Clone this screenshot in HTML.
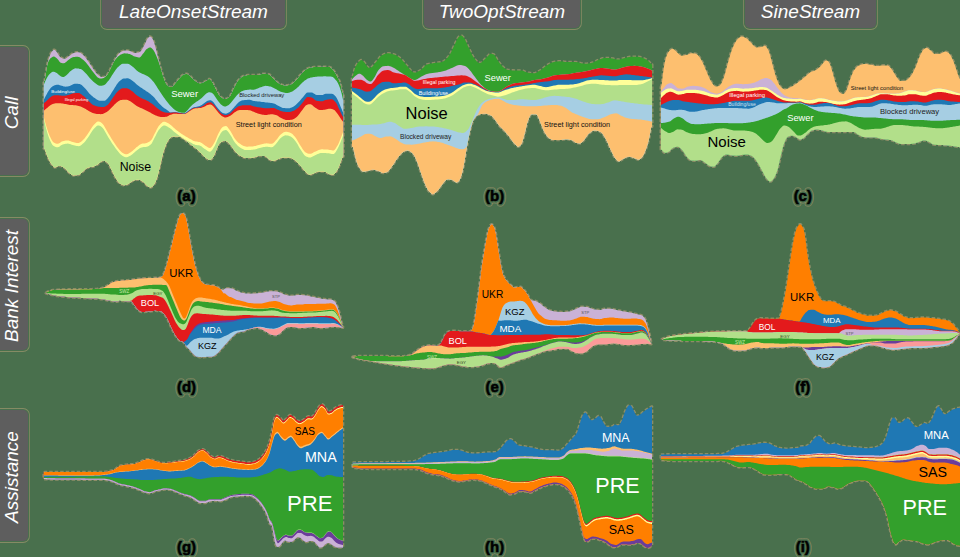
<!DOCTYPE html>
<html>
<head>
<meta charset="utf-8">
<title>Streamgraph comparison</title>
<style>
html,body{margin:0;padding:0;}
body{width:960px;height:557px;overflow:hidden;background:#49704d;font-family:"Liberation Sans",sans-serif;position:relative;}
.hd,.rw{box-shadow:0 0 0 1.1px #49704d,0 0 0 1.9px rgba(194,165,124,.5);}
.hd{position:absolute;top:-6px;height:34px;background:#5e5e5e;border-radius:5px;color:#fff;font-style:italic;font-size:19px;text-align:center;line-height:35px;box-sizing:border-box;}
.rw{position:absolute;left:-6px;width:34px;background:#5e5e5e;border-radius:5px;}
.rw span{position:absolute;left:50%;top:50%;color:#fff;font-style:italic;font-size:19px;white-space:nowrap;transform:translate(-50%,-50%) rotate(-90deg);margin-left:0.7px;margin-top:1.5px;}
svg{position:absolute;left:0;top:0;}
svg text{font-family:"Liberation Sans",sans-serif;}
</style>
</head>
<body>
<div class="hd" style="left:102px;width:183px;">LateOnsetStream</div>
<div class="hd" style="left:424px;width:156px;">TwoOptStream</div>
<div class="hd" style="left:745px;width:131px;">SineStream</div>
<div class="rw" style="top:47px;height:128px;"><span>Call</span></div>
<div class="rw" style="top:219px;height:131px;"><span>Bank Interest</span></div>
<div class="rw" style="top:410px;height:131px;"><span>Assistance</span></div>
<svg width="960" height="557" viewBox="0 0 960 557">
<!-- chart a -->
<clipPath id="ca"><path d="M43.7 81l1-.5 1-6.4 1-6.4 1-5.1 1-3.8 1-2.9 1-2.4 1-1.7 1-1.1 1-.9 1 .1 1 .9 1 1.1 1 1.6 1 1.7 1 1.4 1 .8 1 .6 1 .5 1 .3 1 0 1-.4 1-.5 1-.8 1-.8 1-.7 1-.7 1-.8 1-.7 1-.5 1-.2 1-.3 1-.1 1-.1 1 0 1 .3 1 .6 1 .7 1 .7 1 .9 1 1.1 1 1.3 1 1.4 1 1.3 1 1.4 1 1.6 1 1.6 1 1.5 1 1.4 1 1.5 1 1.5 1 1.4 1 1.2 1 .9 1 .8 1 .8 1 .6 1 .3 1 .1 1-.2 1-.4 1-.6 1-.8 1-1.1 1-1.7 1-2 1-2.1 1-2 1-2.1 1-2.2 1-2.1 1-1.8 1-1.5 1-1.5 1-1.3 1-1 1-.8 1-.5 1-.4 1-.3 1-.2 1 0 1 0 1 .1 1 .2 1 .1 1 .4 1 .5 1 .5 1 .5 1 .2 1-.1 1-.1 1-.2 1-.2 1-.4 1-.7 1-1.2 1-1.8 1-2 1-1.9 1-2.2 1-2.3 1-1.6 1-1.1 1-.8 1 .3 1 .9 1 1.3 1 2.5 1 3.2 1 3.4 1 3.8 1 4.2 1 4.1 1 3.9 1 3.8 1 3.6 1 3.3 1 3 1 2.9 1 2.3 1 1.5 1 1.1 1 .8 1 .6 1 .2 1-.1 1-.7 1-1.1 1-1.3 1-1.2 1-1.2 1-1.3 1-1.2 1-1.1 1-1 1-1.1 1-.8 1-.4 1-.4 1-.3 1-.1 1 .4 1 .7 1 .7 1 .9 1 1.2 1 1.1 1 1 1 .8 1 .7 1 .8 1 .6 1 .4 1 .2 1 0 1-.3 1-.4 1-.4 1-.6 1-.5 1-.6 1-.8 1-.7 1 .1 1 .9 1 1.1 1 1.6 1 2 1 2.1 1 2 1 1.9 1 2 1 1.7 1 1.3 1 1 1 .8 1 .7 1 .5 1 .3 1-.1 1-.3 1-.5 1-.7 1-.9 1-1.6 1-2.1 1-2.4 1-2.1 1-1.9 1-1.9 1-1.9 1-1.6 1-1.2 1-1.1 1-.9 1-.8 1-.7 1-.4 1-.2 1-.2 1-.2 1-.2 1-.1 1 0 1 0 1 0 1 0 1 0 1 0 1 0 1 0 1-.1 1-.2 1-.2 1-.3 1-.2 1-.2 1 0 1 0 1 .1 1 .1 1 .1 1 .1 1 .5 1 1 1 1.1 1 1.1 1 .9 1 1 1 1 1 .9 1 .9 1 .7 1 .5 1 .5 1 .4 1 .4 1 .2 1 .2 1-.1 1 0 1-.2 1-.2 1-.2 1-.3 1-.5 1-.8 1-.9 1-1 1-1 1-1 1-1.1 1-1.3 1-1.2 1-1.2 1-1 1-1 1-1.1 1-.9 1-.9 1-.7 1-.4 1-.4 1-.3 1-.2 1-.2 1-.2 1-.1 1-.1 1 0 1-.1 1 0 1-.1 1 0 1 0 1 0 1 0 1 0 1 0 1 .1 1 0 1 .1 1 0 1 .1 1 .4 1 .9 1 1.1 1 1.1 1 1.4 1 1.7 1 1.8 1 1.9 1 1.9 1 2.3 1 3.1 1 5 1 3.1 .7 .2L343.4 156.7l-.7 .2-1 2.1-1 3.1-1 2.7-1 2.4-1 2.2-1 1.7-1 1.3-1 1.2-1 .9-1 .2-1-.1-1-.1-1-.2-1-.4-1-.6-1-.6-1-.6-1-.3-1-.2-1-.1-1 0-1-.1-1 0-1 0-1 .2-1 .4-1 .5-1 .5-1 .5-1 .3-1 .4-1 .3-1 .2-1-.1-1-.8-1-.9-1-1.1-1-.9-1-1.1-1-1.2-1-1.3-1-1.2-1-1.1-1-1.1-1-1.1-1-1-1-.9-1-.8-1-.7-1-.6-1-.6-1-.4-1-.2-1-.1-1 0-1 0-1 0-1 0-1 0-1 .1-1 .2-1 .3-1 .4-1 .5-1 .3-1 .4-1 .5-1 .4-1 .2-1 0-1-.2-1-.4-1-.5-1-.5-1-1-1-1-1-.8-1-.5-1 0-1 0-1 0-1 0-1 0-1 .1-1 .2-1 .3-1 .4-1 .3-1 .3-1 .1-1 .1-1 .1-1 .1-1 .1-1 0-1 0-1 0-1-.3-1-.3-1-.4-1-.5-1-.4-1-.6-1-.7-1-.9-1-1-1-1-1-1.1-1-1.3-1-1.5-1-1.4-1-1.4-1-1-1-1.1-1-1-1-.7-1-.4-1-.1-1 .1-1 .3-1 .5-1 .6-1 .7-1 1.4-1 2.2-1 2.4-1 2.3-1 2.6-1 2.3-1 1.4-1 1.2-1 .8-1 .3-1-.3-1-.6-1-.7-1-.7-1-.8-1-1-1-1.1-1-1.1-1-1-1-.9-1-1-1-.9-1-.8-1-.9-1-.8-1-.7-1-.8-1-.7-1-.8-1-.8-1-.8-1-.7-1-.8-1-.8-1-.7-1-.6-1-.8-1-.7-1-.6-1-.5-1-.2-1 0-1 0-1 0-1 0-1 0-1 0-1 .4-1 .8-1 1-1 1.2-1 1.4-1 1.8-1 2.4-1 2.8-1 2.9-1 3.7-1 4.2-1 4.2-1 4.2-1 4.3-1 4-1 3-1 2.7-1 2.2-1 1.4-1 1.2-1 .9-1 .4-1-.2-1-.5-1-.5-1-.8-1-1.1-1-1.1-1-1-1-.7-1-.7-1-.6-1-.4-1-.2-1 0-1 .1-1 .2-1 .2-1 .2-1 .5-1 .6-1 .8-1 .8-1 .7-1 .4-1 .5-1 .4-1 .2-1 0-1-.2-1-.5-1-.5-1-.6-1-1-1-1.3-1-1.6-1-1.6-1-1.7-1-2-1-2.1-1-2.1-1-1.9-1-2.1-1-1.8-1-1.3-1-.8-1-.6-1-.5-1-.2-1 0-1 .4-1 .6-1 .8-1 .9-1 .8-1 .6-1 .5-1 .6-1 .4-1 .3-1 .2-1 .1-1 .1-1 .2-1 .3-1 .5-1 .8-1 .9-1 1-1 .9-1 .8-1 .9-1 .8-1 .6-1 .2-1 .1-1 .1-1 0-1 .1-1-.2-1-.5-1-.7-1-.8-1-.7-1-1.1-1-1.2-1-1.1-1-.9-1-.7-1-.5-1-.5-1-.4-1-.2-1 0-1 .3-1 .5-1 .6-1 .1-1-.7-1-1.1-1-1.1-1-1.4-1-1.8-1-2-1-2.2-1-2.5-1-2.8-1-2.9-1-.4Z"/></clipPath>
<path d="M43.7 81l1-.5 1-6.4 1-6.4 1-5.1 1-3.8 1-2.9 1-2.4 1-1.7 1-1.1 1-.9 1 .1 1 .9 1 1.1 1 1.6 1 1.7 1 1.4 1 .8 1 .6 1 .5 1 .3 1 0 1-.4 1-.5 1-.8 1-.8 1-.7 1-.7 1-.8 1-.7 1-.5 1-.2 1-.3 1-.1 1-.1 1 0 1 .3 1 .6 1 .7 1 .7 1 .9 1 1.1 1 1.3 1 1.4 1 1.3 1 1.4 1 1.6 1 1.6 1 1.5 1 1.4 1 1.5 1 1.5 1 1.4 1 1.2 1 .9 1 .8 1 .8 1 .6 1 .3 1 .1 1-.2 1-.4 1-.6 1-.8 1-1.1 1-1.7 1-2 1-2.1 1-2 1-2.1 1-2.2 1-2.1 1-1.8 1-1.5 1-1.5 1-1.3 1-1 1-.8 1-.5 1-.4 1-.3 1-.2 1 0 1 0 1 .1 1 .2 1 .1 1 .4 1 .5 1 .5 1 .5 1 .2 1-.1 1-.1 1-.2 1-.2 1-.4 1-.7 1-1.2 1-1.8 1-2 1-1.9 1-2.2 1-2.3 1-1.6 1-1.1 1-.8 1 .3 1 .9 1 1.3 1 2.5 1 3.2 1 3.4 1 3.8 1 4.2 1 4.1 1 3.9 1 3.8 1 3.6 1 3.3 1 3 1 2.9 1 2.3 1 1.5 1 1.1 1 .8 1 .6 1 .2 1-.1 1-.7 1-1.1 1-1.3 1-1.2 1-1.2 1-1.3 1-1.2 1-1.1 1-1 1-1.1 1-.8 1-.4 1-.4 1-.3 1-.1 1 .4 1 .7 1 .7 1 .9 1 1.2 1 1.1 1 1 1 .8 1 .7 1 .8 1 .6 1 .4 1 .2 1 0 1-.3 1-.4 1-.4 1-.6 1-.5 1-.6 1-.8 1-.7 1 .1 1 .9 1 1.1 1 1.6 1 2 1 2.1 1 2 1 1.9 1 2 1 1.7 1 1.3 1 1 1 .8 1 .7 1 .5 1 .3 1-.1 1-.3 1-.5 1-.7 1-.9 1-1.6 1-2.1 1-2.4 1-2.1 1-1.9 1-1.9 1-1.9 1-1.6 1-1.2 1-1.1 1-.9 1-.8 1-.7 1-.4 1-.2 1-.2 1-.2 1-.2 1-.1 1 0 1 0 1 0 1 0 1 0 1 0 1 0 1 0 1-.1 1-.2 1-.2 1-.3 1-.2 1-.2 1 0 1 0 1 .1 1 .1 1 .1 1 .1 1 .5 1 1 1 1.1 1 1.1 1 .9 1 1 1 1 1 .9 1 .9 1 .7 1 .5 1 .5 1 .4 1 .4 1 .2 1 .2 1-.1 1 0 1-.2 1-.2 1-.2 1-.3 1-.5 1-.8 1-.9 1-1 1-1 1-1 1-1.1 1-1.3 1-1.2 1-1.2 1-1 1-1 1-1.1 1-.9 1-.9 1-.7 1-.4 1-.4 1-.3 1-.2 1-.2 1-.2 1-.1 1-.1 1 0 1-.1 1 0 1-.1 1 0 1 0 1 0 1 0 1 0 1 0 1 .1 1 0 1 .1 1 0 1 .1 1 .4 1 .9 1 1.1 1 1.1 1 1.4 1 1.7 1 1.8 1 1.9 1 1.9 1 2.3 1 3.1 1 5 1 3.1 .7 .2L343.4 156.7l-.7 .2-1 2.1-1 3.1-1 2.7-1 2.4-1 2.2-1 1.7-1 1.3-1 1.2-1 .9-1 .2-1-.1-1-.1-1-.2-1-.4-1-.6-1-.6-1-.6-1-.3-1-.2-1-.1-1 0-1-.1-1 0-1 0-1 .2-1 .4-1 .5-1 .5-1 .5-1 .3-1 .4-1 .3-1 .2-1-.1-1-.8-1-.9-1-1.1-1-.9-1-1.1-1-1.2-1-1.3-1-1.2-1-1.1-1-1.1-1-1.1-1-1-1-.9-1-.8-1-.7-1-.6-1-.6-1-.4-1-.2-1-.1-1 0-1 0-1 0-1 0-1 0-1 .1-1 .2-1 .3-1 .4-1 .5-1 .3-1 .4-1 .5-1 .4-1 .2-1 0-1-.2-1-.4-1-.5-1-.5-1-1-1-1-1-.8-1-.5-1 0-1 0-1 0-1 0-1 0-1 .1-1 .2-1 .3-1 .4-1 .3-1 .3-1 .1-1 .1-1 .1-1 .1-1 .1-1 0-1 0-1 0-1-.3-1-.3-1-.4-1-.5-1-.4-1-.6-1-.7-1-.9-1-1-1-1-1-1.1-1-1.3-1-1.5-1-1.4-1-1.4-1-1-1-1.1-1-1-1-.7-1-.4-1-.1-1 .1-1 .3-1 .5-1 .6-1 .7-1 1.4-1 2.2-1 2.4-1 2.3-1 2.6-1 2.3-1 1.4-1 1.2-1 .8-1 .3-1-.3-1-.6-1-.7-1-.7-1-.8-1-1-1-1.1-1-1.1-1-1-1-.9-1-1-1-.9-1-.8-1-.9-1-.8-1-.7-1-.8-1-.7-1-.8-1-.8-1-.8-1-.7-1-.8-1-.8-1-.7-1-.6-1-.8-1-.7-1-.6-1-.5-1-.2-1 0-1 0-1 0-1 0-1 0-1 0-1 .4-1 .8-1 1-1 1.2-1 1.4-1 1.8-1 2.4-1 2.8-1 2.9-1 3.7-1 4.2-1 4.2-1 4.2-1 4.3-1 4-1 3-1 2.7-1 2.2-1 1.4-1 1.2-1 .9-1 .4-1-.2-1-.5-1-.5-1-.8-1-1.1-1-1.1-1-1-1-.7-1-.7-1-.6-1-.4-1-.2-1 0-1 .1-1 .2-1 .2-1 .2-1 .5-1 .6-1 .8-1 .8-1 .7-1 .4-1 .5-1 .4-1 .2-1 0-1-.2-1-.5-1-.5-1-.6-1-1-1-1.3-1-1.6-1-1.6-1-1.7-1-2-1-2.1-1-2.1-1-1.9-1-2.1-1-1.8-1-1.3-1-.8-1-.6-1-.5-1-.2-1 0-1 .4-1 .6-1 .8-1 .9-1 .8-1 .6-1 .5-1 .6-1 .4-1 .3-1 .2-1 .1-1 .1-1 .2-1 .3-1 .5-1 .8-1 .9-1 1-1 .9-1 .8-1 .9-1 .8-1 .6-1 .2-1 .1-1 .1-1 0-1 .1-1-.2-1-.5-1-.7-1-.8-1-.7-1-1.1-1-1.2-1-1.1-1-.9-1-.7-1-.5-1-.5-1-.4-1-.2-1 0-1 .3-1 .5-1 .6-1 .1-1-.7-1-1.1-1-1.1-1-1.4-1-1.8-1-2-1-2.2-1-2.5-1-2.8-1-2.9-1-.4Z" fill="#cab2d6" stroke="#c2a57c" stroke-opacity=".55" stroke-width="2.6" stroke-dasharray="3.5 2" stroke-linejoin="round" paint-order="stroke"/>
<g clip-path="url(#ca)">
<path fill="#33a02c" d="M43.7 81.4l1-.9 1-6.4 1-6.4 1-4.5 1-2.2 1-1.8 1-1.1 1-.7 1-.6 1-.2 1 .2 1 .6 1 .8 1 1 1 1.3 1 1.4 1 .9 1 .3 1 .2 1 0 1-.3 1-.7 1-.9 1-.9 1-.7 1-.8 1-.7 1-.6 1-.5 1-.2 1-.1 1-.1 1 0 1 0 1 .2 1 .3 1 .6 1 .8 1 .8 1 .8 1 .9 1 1.1 1 1.2 1 1.3 1 1.2 1 1.4 1 1.4 1 1.4 1 1.3 1 1.3 1 1.3 1 1.2 1 1.2 1 .9 1 .6 1 .4 1 .1 1 0 1-.2 1-.4 1-.7 1-.8 1-1 1-1.4 1-1.7 1-2 1-2.1 1-2 1-2.1 1-2.1 1-1.6 1-1.3 1-1.2 1-1.1 1-.9 1-.7 1-.6 1-.4 1-.4 1-.3 1-.2 1 .1 1 .1 1 .1 1 .3 1 .2 1 .3 1 .6 1 .6 1 .6 1 .4 1 .2 1 .2 1 .2 1 .2 1 0 1-.7 1-1.2 1-1.4 1-1.2 1-1.4 1-1.4 1-1 1-.7 1-.6 1-.3 1 .1 1 .7 1 1 1 1.2 1 1.7 1 2.2 1 2.3 1 2.6 1 2.8 1 2.9 1 2.8 1 3.6 1 3.3 1 3 1 2.9 1 2.3 1 1.5 1 1.1 1 .8 1 .6 1 .2 1-.1 1-.7 1-1.1 1-1.3 1-1.2 1-1.2 1-1.3 1-1.2 1-1.1 1-1 1-1.1 1-.8 1-.4 1-.4 1-.3 1-.1 1 .4 1 .7 1 .7 1 .9 1 1.2 1 1.1 1 1 1 .8 1 .7 1 .8 1 .6 1 .4 1 .2 1 0 1-.3 1-.4 1-.4 1-.6 1-.5 1-.6 1-.8 1-.7 1 .1 1 .9 1 1.1 1 1.6 1 2 1 2.1 1 2 1 1.9 1 2 1 1.7 1 1.3 1 1 1 .8 1 .7 1 .5 1 .3 1-.1 1-.3 1-.5 1-.7 1-.9 1-1.6 1-2.1 1-2.4 1-2.1 1-1.9 1-1.9 1-1.9 1-1.6 1-1.2 1-1.1 1-.9 1-.8 1-.7 1-.4 1-.2 1-.2 1-.2 1-.2 1-.1 1 0 1 0 1 0 1 0 1 0 1 0 1 0 1 0 1-.1 1-.2 1-.2 1-.3 1-.2 1-.2 1 0 1 0 1 .1 1 .1 1 .1 1 .1 1 .5 1 1 1 1.1 1 1.1 1 .9 1 1 1 1 1 .9 1 .9 1 .7 1 .5 1 .5 1 .4 1 .4 1 .2 1 .2 1-.1 1 0 1-.2 1-.2 1-.2 1-.3 1-.5 1-.8 1-.9 1-1 1-1 1-1 1-1.1 1-1.3 1-1.2 1-1.2 1-1 1-1 1-1.1 1-.9 1-.9 1-.7 1-.4 1-.4 1-.3 1-.2 1-.2 1-.2 1-.1 1-.1 1 0 1-.1 1 0 1-.1 1 0 1 0 1 0 1 0 1 0 1 0 1 .1 1 0 1 .1 1 0 1 .1 1 .4 1 .9 1 1.1 1 1.1 1 1.4 1 1.7 1 1.8 1 1.9 1 1.9 1 2.3 1 3.1 1 5 1 3.1 .7 .2V190.5H43.7Z"/>
<path fill="#a6cee3" d="M43.7 84.9l1-2.5 1-2.2 1-1.9 1-1.7 1-1.5 1-1.2 1-.8 1-.8 1-.5 1-.1 1 .3 1 .5 1 .5 1 .8 1 1 1 .8 1 .6 1 .5 1 .4 1 0 1-.5 1-.8 1-.8 1-1 1-1.1 1-1.1 1-.9 1-.7 1-.6 1-.6 1-.5 1-.2 1 .1 1 .1 1 .1 1 .3 1 .2 1 .4 1 .8 1 .9 1 1 1 1 1 1 1 1.2 1 1.3 1 1.2 1 1.1 1 1 1 1 1 1 1 .8 1 .8 1 .7 1 .7 1 .5 1 .3 1 0 1-.1 1-.3 1-.2 1-.5 1-.8 1-1.1 1-1.2 1-1.2 1-1.4 1-1.6 1-1.6 1-1.5 1-1.5 1-1.5 1-1.5 1-1.4 1-1.1 1-.9 1-.9 1-.8 1-.6 1-.4 1 0 1 0 1 0 1 0 1 0 1 .2 1 .6 1 .8 1 .8 1 .7 1 .8 1 .9 1 1 1 .9 1 .8 1 .7 1 .5 1 .5 1 .5 1 .5 1 .4 1 .5 1 .5 1 .4 1 .6 1 .6 1 .8 1 1 1 1.1 1 1.1 1 1.2 1 1.4 1 1.5 1 1.6 1 1.6 1 1.5 1 1.5 1 1.6 1 1.5 1 1.5 1 1.4 1 1.4 1 1.3 1 1.4 1 1.2 1 1.3 1 1.1 1 1.1 1 1 1 1 1 .9 1 .9 1 .7 1 .6 1 .5 1 .4 1 .3 1 .2 1 .2 1 .1 1 0 1 0 1-.8 1-1.1 1-1 1-1.2 1-1.2 1-1 1-1 1-.9 1-.8 1-.8 1-.8 1-.6 1-.7 1-.7 1-.8 1-.7 1-.8 1-.9 1-1 1-1.1 1-1 1-.7 1-.5 1-.4 1-.1 1 .2 1 .4 1 .6 1 1.2 1 1.3 1 1.5 1 1.6 1 1.5 1 1.3 1 1.3 1 1.1 1 .8 1 .7 1 .5 1 .3 1-.1 1-.4 1-.5 1-.6 1-.9 1-1.1 1-1.1 1-1.2 1-1.3 1-1.3 1-1.2 1-1.2 1-1.1 1-.9 1-.9 1-.8 1-.6 1-.4 1-.3 1-.3 1-.2 1-.2 1-.1 1-.1 1-.1 1 0 1 .1 1 0 1 0 1-.2 1-.3 1-.4 1-.4 1-.4 1-.4 1-.3 1-.4 1-.4 1-.3 1-.3 1-.1 1 .1 1 .1 1 .2 1 .2 1 .2 1 .4 1 .4 1 .6 1 .6 1 .5 1 .5 1 .6 1 .5 1 .5 1 .5 1 .3 1 .3 1 .3 1 .2 1 .1 1 .1 1-.1 1-.2 1-.3 1-.4 1-.3 1-.5 1-.6 1-.8 1-.8 1-.8 1-.9 1-.9 1-1.1 1-1.1 1-1 1-1 1-.8 1-.8 1-.7 1-.7 1-.6 1-.4 1-.3 1-.3 1-.2 1-.2 1-.2 1-.1 1-.2 1 0 1-.1 1-.1 1 0 1-.1 1 0 1 0 1-.1 1 0 1 0 1 .1 1 0 1 0 1 .1 1 .1 1 .1 1 .3 1 .8 1 .9 1 1.2 1 1.2 1 1.7 1 2 1 2.4 1 3 1 3.6 1 4.4 .7 3.5V190.5H43.7Z"/>
<path fill="#1f78b4" d="M43.7 99.9l1-1.9 1-1.9 1-1.9 1-1.9 1-1.6 1-1.4 1-1.2 1-1.1 1-.8 1-.5 1-.4 1-.4 1-.2 1 0 1 .1 1 .4 1 .3 1 .3 1 .3 1 .3 1 .2 1 .1 1-.1 1-.2 1-.2 1-.3 1-.3 1-.5 1-.6 1-.5 1-.3 1 0 1 0 1 .1 1 .2 1 .1 1 .3 1 .6 1 .9 1 1.1 1 1 1 1.1 1 1.1 1 1.3 1 1.2 1 1.2 1 .9 1 1 1 .8 1 .8 1 .7 1 .7 1 .7 1 .6 1 .5 1 .2 1 0 1 0 1 0 1 0 1-.1 1-.5 1-.9 1-1.1 1-1.1 1-1.3 1-1.5 1-1.7 1-1.6 1-1.6 1-1.6 1-1.6 1-1.6 1-1.4 1-1.1 1-1 1-.9 1-.8 1-.6 1-.2 1-.1 1-.1 1-.1 1 0 1 .3 1 .4 1 .6 1 .7 1 .7 1 .7 1 .9 1 .9 1 1 1 .8 1 .8 1 .7 1 .7 1 .6 1 .7 1 .6 1 .7 1 .6 1 .7 1 .6 1 .8 1 .7 1 .8 1 .9 1 .9 1 .9 1 1.1 1 1.3 1 1.2 1 1.2 1 1.1 1 1.1 1 1 1 1 1 1 1 .8 1 .7 1 .6 1 .6 1 .7 1 .8 1 1.1 1 .1 1-.1 1-.1 1-.1 1-.1 1 0 1 .2 1 .2 1 .2 1 .2 1 .1 1 .2 1 .1 1 .1 1-.1 1-.4 1-.7 1-.8 1-.7 1-.9 1-.8 1-.6 1-.5 1-.5 1-.2 1-.2 1-.2 1-.1 1-.3 1-.4 1-.4 1-.5 1-.8 1-.8 1-.7 1-.8 1-.7 1-.5 1-.3 1-.2 1 0 1 .5 1 .9 1 1 1 1.4 1 1.4 1 1.3 1 1.3 1 1.2 1 1.1 1 1.1 1 .9 1 .6 1 .4 1 .3 1 .1 1-.2 1-.4 1-.5 1-.6 1-1 1-1.1 1-1.1 1-1.1 1-1.2 1-1.1 1-1.1 1-1.1 1-1 1-.6 1-.5 1-.5 1-.3 1-.1 1-.1 1-.1 1-.1 1-.1 1 0 1 0 1 .1 1 .3 1 .5 1 .2 1 .2 1 .1 1 .1 1 .1 1 .1 1 .1 1 .2 1 .1 1 .1 1 .1 1 .2 1 .1 1 .1 1 .1 1 .1 1 .1 1 .1 1 .2 1 .1 1 .2 1 .4 1 .5 1 .6 1 .6 1 .5 1 .5 1 .6 1 .4 1 .4 1 .1 1 .1 1 .1 1 .1 1 0 1 0 1-.1 1-.4 1-.4 1-.4 1-.5 1-.7 1-.8 1-.9 1-1 1-1 1-1.1 1-1.2 1-1.2 1-1.2 1-1.2 1-1.2 1-1.3 1-.9 1-.3 1 0 1 0 1 0 1 0 1 .3 1 .6 1 .7 1 .7 1 .2 1 0 1 0 1 0 1 0 1 0 1-.1 1-.4 1-.4 1-.3 1-.1 1 0 1 0 1 0 1 0 1 0 1 .2 1 .7 1 .9 1 1 1 1.4 1 2.1 1 2.3 1 2.2 1 2.4 1 2.4 1 2.4 .7 1.6V190.5H43.7Z"/>
<path fill="#e31a1c" d="M43.7 103.3l1-.8 1-.8 1-.9 1-1 1-1.1 1-1 1-.7 1-.7 1-.6 1-.3 1-.1 1 0 1 0 1 0 1 0 1 .1 1 .2 1 .1 1 .1 1 0 1-.1 1-.1 1-.2 1-.3 1-.2 1-.3 1-.4 1-.4 1-.4 1-.1 1-.1 1-.1 1-.1 1 0 1 0 1 .3 1 .6 1 .7 1 .8 1 .7 1 .9 1 1.1 1 1.1 1 1 1 1 1 .9 1 1 1 .8 1 .8 1 .5 1 .4 1 .4 1 .3 1 .3 1 .1 1 .1 1 .1 1 .1 1 0 1 0 1-.3 1-.5 1-.6 1-.7 1-1.1 1-1.3 1-1.5 1-1.5 1-1.4 1-1.5 1-1.4 1-1.5 1-1.2 1-1 1-.9 1-.9 1-.8 1-.4 1-.2 1 0 1 0 1 0 1 0 1 .2 1 .4 1 .6 1 .7 1 .7 1 .7 1 .9 1 .9 1 1 1 .8 1 .8 1 .6 1 .6 1 .5 1 .6 1 .5 1 .4 1 .4 1 .4 1 .4 1 .5 1 .6 1 .7 1 .7 1 .7 1 .7 1 .8 1 .9 1 .9 1 .8 1 .8 1 .8 1 .7 1 .7 1 .6 1 .4 1 .4 1 .3 1 .2 1 .2 1 0 1 0 1 0 1 0 1-.1 1-.1 1-.1 1-.1 1 .1 1 .1 1 .2 1 .2 1 .2 1 .1 1 .2 1 .1 1 .1 1 0 1-.4 1-.6 1-.7 1-.7 1-.8 1-.8 1-.6 1-.6 1-.5 1-.2 1-.1 1 0 1-.1 1-.1 1-.2 1-.3 1-.4 1-.6 1-.6 1-.6 1-.7 1-.8 1-.5 1-.3 1-.1 1-.1 1 .5 1 .9 1 .9 1 1.2 1 1.3 1 1.3 1 1.3 1 1.2 1 1 1 1 1 .9 1 .5 1 .4 1 .4 1 .1 1-.1 1-.4 1-.4 1-.6 1-.8 1-1 1-1 1-.9 1-.9 1-.8 1-.7 1-.8 1-.5 1-.4 1-.2 1-.3 1-.1 1 0 1 0 1 0 1 0 1 0 1 0 1 0 1 0 1 .4 1 .4 1 .3 1 .2 1 .2 1 .2 1 .2 1 .1 1 .2 1 .1 1 .2 1 .1 1 .2 1 .1 1 .1 1 0 1 0 1 0 1-.1 1-.1 1 0 1-.1 1 0 1 .3 1 .4 1 .5 1 .5 1 .4 1 .4 1 .4 1 .4 1 .3 1 .1 1 .1 1 .1 1 .1 1 0 1 0 1-.1 1-.2 1-.3 1-.3 1-.4 1-.5 1-.6 1-.8 1-.8 1-.8 1-1.1 1-1.2 1-1.2 1-1.3 1-1.2 1-1.4 1-1.4 1-1.1 1-.3 1 .1 1 .1 1 .1 1 .2 1 .5 1 .8 1 .9 1 .7 1 .4 1 .2 1 .1 1 .1 1 .1 1 0 1-.1 1-.4 1-.5 1-.4 1-.2 1-.2 1-.1 1-.1 1-.1 1 0 1 .3 1 .7 1 1 1 1.1 1 1.5 1 2.1 1 2.3 1 2.1 1 2.1 1 2 1 1.9 .7 1.2V190.5H43.7Z"/>
<path fill="#fdbf6f" d="M43.7 110.8l1-.8 1-.9 1-.8 1-.9 1-.9 1-.8 1-.6 1-.5 1-.5 1-.4 1-.2 1-.2 1 0 1 0 1 0 1 0 1 0 1 .1 1 .1 1 .2 1 .2 1 .2 1 .2 1 .2 1 .2 1 .2 1 .1 1 .1 1 0 1 .1 1 0 1 .1 1 .2 1 .2 1 .3 1 .3 1 .3 1 .4 1 .5 1 .5 1 .5 1 .6 1 .6 1 .6 1 .6 1 .5 1 .5 1 .5 1 .5 1 .4 1 .3 1 .2 1 .1 1 .1 1 .1 1 0 1 .1 1-.1 1-.2 1-.4 1-.5 1-.4 1-.6 1-.8 1-.8 1-1 1-.9 1-1 1-1.1 1-1 1-1.1 1-.9 1-.8 1-.8 1-.8 1-.6 1-.4 1-.1 1-.1 1-.1 1 0 1 0 1 .1 1 .3 1 .4 1 .6 1 .5 1 .6 1 .7 1 .8 1 .7 1 .8 1 .7 1 .5 1 .5 1 .5 1 .5 1 .4 1 .5 1 .5 1 .5 1 .5 1 .5 1 .5 1 .5 1 .5 1 .5 1 .6 1 .5 1 .5 1 .6 1 .5 1 .3 1 .4 1 .3 1 .2 1 .2 1 .1 1 0 1-.1 1 0 1-.1 1-.1 1-.4 1-.6 1-.6 1-.4 1-.3 1-.3 1-.3 1-.1 1 0 1 .1 1 .1 1 .1 1 .1 1 0 1 0 1 0 1 0 1 0 1-.4 1-.6 1-.7 1-.6 1-.7 1-.7 1-.6 1-.6 1-.5 1-.3 1-.1 1 0 1-.1 1-.1 1-.1 1-.1 1-.2 1-.4 1-.4 1-.4 1-.6 1-.6 1-.4 1-.2 1-.1 1 0 1 .4 1 .8 1 .9 1 1.2 1 1.3 1 1.3 1 1.3 1 1.2 1 1.1 1 1 1 .9 1 .6 1 .4 1 .4 1 .1 1-.2 1-.3 1-.4 1-.5 1-.7 1-.7 1-.8 1-.8 1-.8 1-.6 1-.6 1-.5 1-.4 1-.1 1-.1 1-.1 1 0 1 0 1 0 1 0 1 .1 1 .1 1 .1 1 .1 1 .2 1 .4 1 .5 1 .4 1 .4 1 .5 1 .4 1 .4 1 .3 1 .3 1 .2 1 .2 1 .2 1 .1 1 .2 1 0 1 0 1-.2 1-.2 1-.2 1-.2 1 0 1 0 1 .2 1 .3 1 .3 1 .3 1 .5 1 .6 1 .8 1 .6 1 .5 1 .5 1 .4 1 .4 1 .3 1 .1 1 0 1-.1 1 0 1-.1 1-.1 1-.3 1-.4 1-.6 1-.7 1-.7 1-1 1-1.2 1-1.3 1-1.4 1-1.3 1-1.3 1-1.4 1-1.4 1-1.1 1-.6 1-.4 1-.3 1-.1 1 .1 1 .5 1 .8 1 .9 1 .8 1 .6 1 .7 1 .6 1 .5 1 .3 1 0 1-.1 1 0 1-.1 1-.1 1-.1 1-.3 1-.3 1-.2 1-.1 1 0 1 .2 1 .4 1 .5 1 .5 1 1.1 1 1.3 1 1.4 1 1.4 1 1.5 1 1.6 1 1.4 1 1.3 .7 .7V190.5H43.7Z"/>
<path fill="#ffff99" d="M43.7 116.5l1 4 1 3.7 1 3.4 1 3.1 1 2.8 1 2.4 1 2.2 1 2 1 1.5 1 .8 1 .6 1 .5 1 .3 1 0 1-.3 1-.6 1-.6 1-.7 1-.3 1-.3 1-.2 1-.2 1-.1 1 0 1 .1 1 .3 1 .4 1 .4 1 .3 1 .2 1 .3 1 .2 1 .2 1 .1 1 0 1-.4 1-.6 1-.8 1-1 1-.9 1-1.1 1-1.4 1-1.4 1-1.5 1-1.4 1-1.6 1-1.6 1-1.6 1-1.5 1-1.1 1-1.1 1-1.1 1-.9 1-.6 1 0 1 .3 1 .6 1 .8 1 .9 1 1.3 1 1.7 1 1.8 1 1.8 1 1.6 1 1.7 1 1.7 1 1.7 1 1.6 1 1.6 1 1.5 1 1.6 1 1.4 1 1.4 1 1.3 1 1.3 1 1.3 1 1 1 .9 1 .7 1 .7 1 .5 1 .2 1-.1 1-.3 1-.5 1-.6 1-.6 1-.6 1-.8 1-1 1-.9 1-.9 1-.9 1-.7 1-.8 1-.8 1-.6 1-.4 1-.2 1-.1 1-.1 1-.2 1-.2 1-.4 1-.5 1-.7 1-.8 1-1.2 1-1.7 1-2.1 1-2 1-1.9 1-2.1 1-1.9 1-1.6 1-1.2 1-1.1 1-.9 1-.8 1-.4 1 0 1 .3 1 .4 1 .6 1 .6 1 .6 1 .7 1 .9 1 1 1 .9 1 .9 1 .8 1 .8 1 .8 1 .7 1 .7 1 .8 1 .7 1 .6 1 .7 1 .6 1 .7 1 .6 1 .5 1 .6 1 .5 1 .5 1 .6 1 .6 1 .5 1 .3 1 .3 1 .1 1 .2 1 .1 1 .2 1 .3 1 .6 1 .8 1 .8 1 .7 1 .6 1 .7 1 .6 1 .5 1 .3 1-.2 1-1 1-1.4 1-1.7 1-1.6 1-2.2 1-2.4 1-2.4 1-2 1-1.9 1-1.9 1-1.4 1-.8 1-.6 1-.3 1-.2 1 .3 1 1 1 1.4 1 1.4 1 1.4 1 1.7 1 1.9 1 1.8 1 1.5 1 1.3 1 1.2 1 1 1 1 1 .7 1 .7 1 .6 1 .5 1 .5 1 .4 1 .3 1 .1 1 0 1-.1 1 0 1-.1 1 0 1-.1 1-.1 1-.2 1-.2 1-.3 1-.3 1-.3 1-.3 1-.2 1-.3 1-.2 1-.3 1-.2 1-.1 1-.1 1 .1 1 .1 1 .2 1 .1 1 0 1-.3 1-.8 1-1 1-1.1 1-1.1 1-1.3 1-1.4 1-1.3 1-1.1 1-.7 1-.8 1-.6 1-.4 1-.2 1 0 1 .2 1 .3 1 .3 1 .4 1 .6 1 .8 1 1.1 1 1.2 1 1.2 1 1.4 1 1.7 1 1.8 1 1.8 1 1.6 1 1.5 1 1.6 1 1.4 1 1.2 1 .8 1 .4 1 .4 1 .3 1 .1 1 0 1-.4 1-.5 1-.6 1-.5 1-.4 1-.5 1-.4 1-.5 1-.3 1-.3 1-.1 1 0 1 .1 1 0 1 .1 1 0 1 .1 1 .1 1 .2 1 .2 1 .2 1 .2 1-.1 1-.7 1-1.3 1-1.6 1-1.6 1-2 1-2.4 1-2.5 1-2.5 1-2.7 .7-1.8V190.5H43.7Z"/>
<path fill="#b2df8a" d="M43.7 118.2l1 4.4 1 4.1 1 3.8 1 3.5 1 3.1 1 2.4 1 2.3 1 2 1 1.4 1 .8 1 .6 1 .4 1 .3 1 0 1-.3 1-.6 1-.8 1-.6 1-.4 1-.3 1-.3 1-.2 1-.1 1-.1 1 .1 1 .3 1 .3 1 .4 1 .3 1 .2 1 .3 1 .2 1 .3 1 .1 1 .1 1-.2 1-.6 1-.7 1-.9 1-.8 1-1.1 1-1.2 1-1.4 1-1.4 1-1.5 1-1.5 1-1.6 1-1.6 1-1.5 1-1.1 1-1.1 1-1.1 1-.9 1-.6 1 0 1 .3 1 .6 1 .8 1 .9 1 1.3 1 1.7 1 1.8 1 1.8 1 1.6 1 1.7 1 1.6 1 1.6 1 1.6 1 1.5 1 1.4 1 1.5 1 1.4 1 1.2 1 1.3 1 1.2 1 1.2 1 1 1 .8 1 .7 1 .7 1 .5 1 .2 1 0 1-.4 1-.4 1-.6 1-.5 1-.7 1-.7 1-.9 1-.9 1-.9 1-.8 1-.7 1-.8 1-.7 1-.6 1-.3 1-.2 1-.1 1 0 1-.1 1-.2 1-.3 1-.5 1-.7 1-.8 1-1.1 1-1.8 1-2 1-2.1 1-1.8 1-2.1 1-1.9 1-1.6 1-1.2 1-1.1 1-1 1-.7 1-.5 1 0 1 .2 1 .5 1 .5 1 .6 1 .5 1 .8 1 .8 1 .9 1 1 1 .8 1 .8 1 .7 1 .8 1 .7 1 .7 1 .7 1 .7 1 .6 1 .7 1 .6 1 .6 1 .6 1 .6 1 .5 1 .5 1 .5 1 .6 1 .6 1 .5 1 .4 1 .3 1 .1 1 .2 1 .1 1 .3 1 .3 1 .7 1 .8 1 .8 1 .7 1 .7 1 .7 1 .6 1 .6 1 .2 1-.1 1-1 1-1.4 1-1.6 1-1.6 1-2.2 1-2.4 1-2.3 1-2 1-1.9 1-1.9 1-1.4 1-.8 1-.6 1-.3 1-.2 1 .3 1 1 1 1.3 1 1.4 1 1.4 1 1.7 1 1.8 1 1.8 1 1.6 1 1.2 1 1.1 1 1.1 1 .9 1 .7 1 .6 1 .6 1 .5 1 .5 1 .4 1 .2 1 0 1 0 1 0 1-.1 1-.1 1-.1 1-.1 1-.1 1-.1 1-.3 1-.3 1-.3 1-.3 1-.2 1-.3 1-.2 1-.3 1-.2 1-.2 1-.1 1-.1 1 .1 1 .1 1 .2 1 .1 1 .1 1-.3 1-.8 1-1 1-1 1-1.1 1-1.4 1-1.4 1-1.3 1-1 1-.7 1-.7 1-.6 1-.5 1-.2 1 .1 1 .2 1 .2 1 .4 1 .4 1 .6 1 .8 1 1.1 1 1.1 1 1.3 1 1.4 1 1.7 1 1.8 1 1.8 1 1.6 1 1.5 1 1.5 1 1.5 1 1.2 1 .8 1 .4 1 .4 1 .3 1 .1 1-.1 1-.3 1-.6 1-.5 1-.5 1-.5 1-.4 1-.5 1-.4 1-.4 1-.2 1-.1 1 0 1 0 1 .1 1 0 1 .1 1 .1 1 0 1 .2 1 .2 1 .2 1 .1 1 0 1-.8 1-1.3 1-1.6 1-1.7 1-2 1-2.4 1-2.5 1-2.5 1-2.7 .7-1.8V190.5H43.7Z"/>
</g>
<text x="184.6" y="97.2" font-size="9.5" fill="#fff" text-anchor="middle" >Sewer</text>
<text x="135.4" y="171" font-size="12.3" fill="#000" text-anchor="middle" >Noise</text>
<text x="261.7" y="97.3" font-size="5.8" fill="#222" text-anchor="middle" >Blocked driveway</text>
<text x="268.8" y="127.4" font-size="7.3" fill="#111" text-anchor="middle" >Street light condition</text>
<text x="63.2" y="93" font-size="4.35" fill="#fff" text-anchor="middle" >Building/use</text>
<text x="76.5" y="101.2" font-size="3.8" fill="#fff" text-anchor="middle" >Illegal parking</text>
<!-- chart b -->
<clipPath id="cb"><path d="M352 76.3l1-.5 1-4.2 1-3.5 1-2.2 1-1.8 1-1.4 1-1 1-.9 1-.7 1 .2 1 .8 1 .9 1 1.3 1 1.6 1 1.4 1 1 1 .6 1 0 1-.3 1-.7 1-1 1-1.3 1-1.3 1-1.2 1-1.2 1-1.3 1-1.3 1-1.3 1-1 1-.7 1-.5 1-.5 1-.4 1-.3 1-.2 1-.1 1 0 1 .2 1 .2 1 .2 1 .3 1 .3 1 .3 1 .5 1 .6 1 .7 1 .7 1 .8 1 .8 1 1 1 1.2 1 1.2 1 1.2 1 1.2 1 1.1 1 1.2 1 1.2 1 1.3 1 1.1 1 .9 1 .7 1 .4 1 0 1-.1 1-.4 1-.5 1-.5 1-.6 1-.7 1-.8 1-1 1-1.1 1-1.1 1-.8 1-.5 1-.3 1-.3 1-.2 1-.2 1-.1 1-.2 1-.1 1-.2 1-.1 1-.1 1-.1 1-.1 1-.1 1-.2 1-.2 1-.4 1-.6 1-.8 1-.9 1-1.1 1-1.1 1-1.3 1-1.5 1-1.9 1-2.1 1-2.3 1-2.1 1-2 1-2.2 1-2.1 1-1.8 1-1.1 1-.7 1-.5 1 .3 1 1 1 1.1 1 1.6 1 2.2 1 2.2 1 2.3 1 2.1 1 2.2 1 2.2 1 2 1 1.8 1 1.4 1 1.4 1 1.3 1 1.1 1 .8 1 .4 1 0 1-.2 1-.7 1-.9 1-1.1 1-1 1-1 1-1 1-1.1 1-1.1 1-.8 1-.2 1 .1 1 .3 1 .3 1 1.2 1 1.8 1 1.7 1 1.5 1 1.5 1 1.4 1 1.2 1 1.1 1 1 1 .9 1 .9 1 .6 1 .5 1 .2 1 .1 1 .1 1 .1 1 .1 1 0 1 .1 1 0 1 0 1 0 1 0 1 0 1 0 1 0 1 0 1 .3 1 .4 1 .5 1 .4 1 .3 1 .3 1 .1 1 .2 1 .1 1 .1 1 .1 1 0 1-.1 1-.4 1-.4 1-.6 1-.7 1-.6 1-.6 1-.8 1-.7 1-.9 1-.8 1-.7 1-.7 1-.6 1-.6 1-.6 1-.6 1-.4 1-.3 1-.2 1-.2 1-.2 1-.1 1-.1 1-.1 1 0 1 .1 1 .1 1 .1 1 .2 1 .1 1 .1 1 .1 1 0 1 0 1 0 1 0 1 0 1 0 1 0 1 0 1 0 1 .1 1 .1 1 .3 1 .3 1 .3 1 .2 1 .2 1 .2 1 0 1 0 1-.1 1-.1 1-.2 1-.2 1-.1 1-.3 1-.3 1-.4 1-.5 1-.5 1-.6 1-.4 1-.4 1-.4 1-.4 1-.4 1-.3 1-.2 1 0 1 0 1 0 1 .1 1 0 1 .1 1 .1 1 .1 1 .2 1 .3 1 .3 1 .2 1 .2 1 0 1 0 1-.2 1-.3 1-.3 1-.3 1-.3 1-.3 1-.2 1-.2 1-.3 1-.2 1-.1 1-.1 1 0 1 0 1 0 1 0 1 0 1 0 1 0 1 .1 1 .2 1 .3 1 .3 1 .3 1 .4 1 .5 1 .5 1 .7 1 .7 1 .9 1 1.1 1 1.2 1 .6 .2 0L652.2 126.7l-.2 0-1 .8-1 6.2-1 5.1-1 4-1 3.4-1 2.9-1 2.5-1 2.3-1 1.9-1 1.4-1 1-1 .9-1 .6-1-.1-1-.4-1-.4-1-.4-1-.4-1-.3-1-.4-1-.3-1-.2-1-.1-1 .1-1 .2-1 .4-1 .5-1 .6-1 .5-1 .6-1 .7-1 .6-1 .5-1-.4-1-.8-1-1-1-1.2-1-1.6-1-2-1-2.1-1-2-1-2.1-1-2.3-1-2.4-1-2.2-1-1.9-1-1.7-1-1.7-1-1.5-1-1.3-1-.9-1-.6-1-.4-1-.3-1-.3-1-.2-1-.1-1 0-1 .3-1 .5-1 .7-1 .8-1 .8-1 1-1 1.3-1 1.5-1 1.5-1 1.3-1 1.1-1 1.1-1 .8-1 .3-1-.1-1-.1-1-.1-1-.2-1-.7-1-.8-1-.7-1-.5-1-.3-1-.2-1-.2-1-.2-1-.1-1 0-1 .1-1 .1-1 .2-1 .2-1 .1-1 .1-1 0-1 0-1 0-1 0-1 0-1 0-1 0-1-.2-1-.5-1-.6-1-.7-1-.9-1-1.1-1-1.4-1-1.6-1-1.7-1-2.2-1-2.5-1-2.6-1-2.4-1-2.5-1-2.5-1-1.7-1-.6-1-.1-1 0-1 0-1 0-1 .4-1 1.2-1 2.2-1 2.7-1 3-1 4.2-1 4.4-1 3.8-1 3.6-1 3.3-1 1.8-1 .9-1 .7-1 .3-1-.5-1-1-1-1.1-1-1.1-1-1.1-1-1.4-1-1.4-1-1.4-1-1.4-1-1.2-1-1.2-1-1.2-1-1.1-1-1.1-1-1-1-1-1-.9-1-1-1-1.1-1-1.4-1-1.7-1-1.5-1-1.2-1-1.2-1-1.2-1-1-1-.7-1-.5-1-.4-1-.4-1-.3-1-.2-1-.1-1 0-1 .1-1 .1-1 .2-1 .2-1 .3-1 .3-1 .6-1 .9-1 1.3-1 1.4-1 1.8-1 2.9-1 3.6-1 4-1 4.5-1 5-1 5.5-1 5.7-1 6.3-1 5.7-1 5.2-1 4.2-1 3.1-1 2.6-1 1.8-1 .8-1 .6-1 0-1-.7-1-.8-1-.6-1-.4-1-.3-1-.2-1-.1-1-.1-1 .2-1 .6-1 .9-1 1.2-1 1.3-1 1.3-1 1.3-1 1.4-1 1.5-1 1.4-1 1-1 .9-1 .9-1 .7-1 .4-1-.3-1-.7-1-.9-1-1-1-1.2-1-1.8-1-2-1-2.2-1-2.5-1-2.8-1-3-1-2.9-1-2.9-1-3-1-2.9-1-2.6-1-2.2-1-2.2-1-1.9-1-1.5-1-1-1-.8-1-.6-1-.5-1-.3-1-.1-1 .1-1 .4-1 .6-1 .7-1 .8-1 .8-1 1.1-1 1.3-1 1.3-1 1.3-1 1.4-1 1.6-1 1.6-1 1.5-1 1.4-1 1.4-1 1.4-1 1.3-1 1.1-1 .5-1 .4-1 .3-1 .3-1 0-1-.2-1-.6-1-.6-1-.4-1-.4-1-.3-1-.3-1-.3-1-.1-1-.1-1 .1-1 .2-1 .3-1 .3-1 .2-1 .2-1 .3-1 .2-1 .1-1 .1-1-.6-1-1.1-1-1.4-1-1.4-1-2-1-2.5-1-3.1-1-3.8-1-4.9-1-3.8-1-.4Z"/></clipPath>
<path d="M352 76.3l1-.5 1-4.2 1-3.5 1-2.2 1-1.8 1-1.4 1-1 1-.9 1-.7 1 .2 1 .8 1 .9 1 1.3 1 1.6 1 1.4 1 1 1 .6 1 0 1-.3 1-.7 1-1 1-1.3 1-1.3 1-1.2 1-1.2 1-1.3 1-1.3 1-1.3 1-1 1-.7 1-.5 1-.5 1-.4 1-.3 1-.2 1-.1 1 0 1 .2 1 .2 1 .2 1 .3 1 .3 1 .3 1 .5 1 .6 1 .7 1 .7 1 .8 1 .8 1 1 1 1.2 1 1.2 1 1.2 1 1.2 1 1.1 1 1.2 1 1.2 1 1.3 1 1.1 1 .9 1 .7 1 .4 1 0 1-.1 1-.4 1-.5 1-.5 1-.6 1-.7 1-.8 1-1 1-1.1 1-1.1 1-.8 1-.5 1-.3 1-.3 1-.2 1-.2 1-.1 1-.2 1-.1 1-.2 1-.1 1-.1 1-.1 1-.1 1-.1 1-.2 1-.2 1-.4 1-.6 1-.8 1-.9 1-1.1 1-1.1 1-1.3 1-1.5 1-1.9 1-2.1 1-2.3 1-2.1 1-2 1-2.2 1-2.1 1-1.8 1-1.1 1-.7 1-.5 1 .3 1 1 1 1.1 1 1.6 1 2.2 1 2.2 1 2.3 1 2.1 1 2.2 1 2.2 1 2 1 1.8 1 1.4 1 1.4 1 1.3 1 1.1 1 .8 1 .4 1 0 1-.2 1-.7 1-.9 1-1.1 1-1 1-1 1-1 1-1.1 1-1.1 1-.8 1-.2 1 .1 1 .3 1 .3 1 1.2 1 1.8 1 1.7 1 1.5 1 1.5 1 1.4 1 1.2 1 1.1 1 1 1 .9 1 .9 1 .6 1 .5 1 .2 1 .1 1 .1 1 .1 1 .1 1 0 1 .1 1 0 1 0 1 0 1 0 1 0 1 0 1 0 1 0 1 .3 1 .4 1 .5 1 .4 1 .3 1 .3 1 .1 1 .2 1 .1 1 .1 1 .1 1 0 1-.1 1-.4 1-.4 1-.6 1-.7 1-.6 1-.6 1-.8 1-.7 1-.9 1-.8 1-.7 1-.7 1-.6 1-.6 1-.6 1-.6 1-.4 1-.3 1-.2 1-.2 1-.2 1-.1 1-.1 1-.1 1 0 1 .1 1 .1 1 .1 1 .2 1 .1 1 .1 1 .1 1 0 1 0 1 0 1 0 1 0 1 0 1 0 1 0 1 0 1 .1 1 .1 1 .3 1 .3 1 .3 1 .2 1 .2 1 .2 1 0 1 0 1-.1 1-.1 1-.2 1-.2 1-.1 1-.3 1-.3 1-.4 1-.5 1-.5 1-.6 1-.4 1-.4 1-.4 1-.4 1-.4 1-.3 1-.2 1 0 1 0 1 0 1 .1 1 0 1 .1 1 .1 1 .1 1 .2 1 .3 1 .3 1 .2 1 .2 1 0 1 0 1-.2 1-.3 1-.3 1-.3 1-.3 1-.3 1-.2 1-.2 1-.3 1-.2 1-.1 1-.1 1 0 1 0 1 0 1 0 1 0 1 0 1 0 1 .1 1 .2 1 .3 1 .3 1 .3 1 .4 1 .5 1 .5 1 .7 1 .7 1 .9 1 1.1 1 1.2 1 .6 .2 0L652.2 126.7l-.2 0-1 .8-1 6.2-1 5.1-1 4-1 3.4-1 2.9-1 2.5-1 2.3-1 1.9-1 1.4-1 1-1 .9-1 .6-1-.1-1-.4-1-.4-1-.4-1-.4-1-.3-1-.4-1-.3-1-.2-1-.1-1 .1-1 .2-1 .4-1 .5-1 .6-1 .5-1 .6-1 .7-1 .6-1 .5-1-.4-1-.8-1-1-1-1.2-1-1.6-1-2-1-2.1-1-2-1-2.1-1-2.3-1-2.4-1-2.2-1-1.9-1-1.7-1-1.7-1-1.5-1-1.3-1-.9-1-.6-1-.4-1-.3-1-.3-1-.2-1-.1-1 0-1 .3-1 .5-1 .7-1 .8-1 .8-1 1-1 1.3-1 1.5-1 1.5-1 1.3-1 1.1-1 1.1-1 .8-1 .3-1-.1-1-.1-1-.1-1-.2-1-.7-1-.8-1-.7-1-.5-1-.3-1-.2-1-.2-1-.2-1-.1-1 0-1 .1-1 .1-1 .2-1 .2-1 .1-1 .1-1 0-1 0-1 0-1 0-1 0-1 0-1 0-1-.2-1-.5-1-.6-1-.7-1-.9-1-1.1-1-1.4-1-1.6-1-1.7-1-2.2-1-2.5-1-2.6-1-2.4-1-2.5-1-2.5-1-1.7-1-.6-1-.1-1 0-1 0-1 0-1 .4-1 1.2-1 2.2-1 2.7-1 3-1 4.2-1 4.4-1 3.8-1 3.6-1 3.3-1 1.8-1 .9-1 .7-1 .3-1-.5-1-1-1-1.1-1-1.1-1-1.1-1-1.4-1-1.4-1-1.4-1-1.4-1-1.2-1-1.2-1-1.2-1-1.1-1-1.1-1-1-1-1-1-.9-1-1-1-1.1-1-1.4-1-1.7-1-1.5-1-1.2-1-1.2-1-1.2-1-1-1-.7-1-.5-1-.4-1-.4-1-.3-1-.2-1-.1-1 0-1 .1-1 .1-1 .2-1 .2-1 .3-1 .3-1 .6-1 .9-1 1.3-1 1.4-1 1.8-1 2.9-1 3.6-1 4-1 4.5-1 5-1 5.5-1 5.7-1 6.3-1 5.7-1 5.2-1 4.2-1 3.1-1 2.6-1 1.8-1 .8-1 .6-1 0-1-.7-1-.8-1-.6-1-.4-1-.3-1-.2-1-.1-1-.1-1 .2-1 .6-1 .9-1 1.2-1 1.3-1 1.3-1 1.3-1 1.4-1 1.5-1 1.4-1 1-1 .9-1 .9-1 .7-1 .4-1-.3-1-.7-1-.9-1-1-1-1.2-1-1.8-1-2-1-2.2-1-2.5-1-2.8-1-3-1-2.9-1-2.9-1-3-1-2.9-1-2.6-1-2.2-1-2.2-1-1.9-1-1.5-1-1-1-.8-1-.6-1-.5-1-.3-1-.1-1 .1-1 .4-1 .6-1 .7-1 .8-1 .8-1 1.1-1 1.3-1 1.3-1 1.3-1 1.4-1 1.6-1 1.6-1 1.5-1 1.4-1 1.4-1 1.4-1 1.3-1 1.1-1 .5-1 .4-1 .3-1 .3-1 0-1-.2-1-.6-1-.6-1-.4-1-.4-1-.3-1-.3-1-.3-1-.1-1-.1-1 .1-1 .2-1 .3-1 .3-1 .2-1 .2-1 .3-1 .2-1 .1-1 .1-1-.6-1-1.1-1-1.4-1-1.4-1-2-1-2.5-1-3.1-1-3.8-1-4.9-1-3.8-1-.4Z" fill="#33a02c" stroke="#c2a57c" stroke-opacity=".55" stroke-width="2.6" stroke-dasharray="3.5 2" stroke-linejoin="round" paint-order="stroke"/>
<g clip-path="url(#cb)">
<path fill="#cab2d6" d="M352 79.6l1-1.3 1-1.1 1-1 1-.7 1-.7 1-.7 1-.3 1-.1 1 .5 1 .8 1 .8 1 1 1 1.1 1 1.1 1 .9 1 .7 1 .6 1 .4 1-.1 1-.8 1-1.2 1-1.4 1-1.7 1-2 1-2 1-1.6 1-1.2 1-1.1 1-1 1-.8 1-.4 1-.1 1-.2 1-.1 1 0 1-.1 1 .1 1 .3 1 .4 1 .5 1 .4 1 .5 1 .6 1 .6 1 .7 1 .7 1 .6 1 .7 1 .6 1 .7 1 .6 1 .6 1 .7 1 .5 1 .6 1 .7 1 .6 1 .7 1 .6 1 .5 1 .4 1 .3 1 0 1-.2 1-.5 1-.6 1-.6 1-.7 1-.6 1-.5 1-.5 1-.5 1-.5 1-.5 1-.4 1-.2 1-.2 1-.2 1-.1 1-.2 1-.1 1-.1 1-.1 1-.1 1-.2 1-.2 1-.2 1-.1 1-.2 1-.2 1-.3 1-.2 1-.3 1-.3 1-.3 1-.5 1-.4 1-.4 1-.5 1-.4 1-.4 1-.4 1-.5 1-.5 1-.5 1-.3 1-.3 1 0 1 .1 1 .1 1 .2 1 .3 1 .2 1 .6 1 .8 1 1 1 1 1 1.1 1 1.2 1 1.3 1 1.5 1 1.4 1 1.3 1 1.3 1 1.4 1 1.3 1 1.3 1 1.2 1 1.1 1 .9 1 .9 1 .9 1 .8 1 .7 1 .6 1 .5 1 .4 1 .3 1 .3 1 .3 1 .2 1 .1 1 .1 1 0 1 0 1 0 1-.2 1-.4 1-.6 1-.7 1-.6 1-.7 1-.7 1-.7 1-.7 1-.6 1-.4 1-.5 1-.4 1-.4 1-.4 1-.2 1-.2 1-.2 1-.1 1-.1 1-.1 1-.1 1-.2 1-.1 1-.1 1-.1 1-.1 1-.1 1-.2 1-.1 1-.2 1-.3 1-.3 1-.3 1-.2 1-.3 1-.2 1-.1 1-.1 1-.1 1-.1 1-.1 1-.2 1-.2 1-.2 1-.2 1-.3 1-.2 1-.3 1-.3 1-.3 1-.4 1-.4 1-.3 1-.4 1-.2 1-.2 1-.1 1-.2 1-.1 1 0 1-.1 1-.1 1-.1 1-.1 1 0 1-.1 1-.1 1 0 1-.1 1-.2 1-.1 1-.2 1-.2 1-.2 1-.2 1-.2 1-.1 1-.2 1-.1 1-.1 1-.2 1-.1 1-.2 1-.2 1-.1 1-.2 1-.2 1-.2 1-.2 1-.2 1-.2 1-.3 1-.3 1-.2 1-.3 1-.2 1-.2 1-.3 1-.2 1-.2 1-.1 1-.1 1 0 1 .1 1 .1 1 .1 1 .1 1 .1 1 .2 1 .1 1 .2 1 .2 1 .2 1 .1 1 .1 1 .1 1-.2 1-.2 1-.3 1-.3 1-.3 1-.3 1-.3 1-.3 1-.3 1-.2 1-.3 1-.2 1-.2 1-.1 1-.1 1-.1 1-.1 1 0 1-.1 1 0 1 .1 1 .1 1 .1 1 .2 1 .1 1 .2 1 .2 1 .2 1 .3 1 .3 1 .3 1 .4 1 .4 1 .4 1 .5 1 .5 1 .6 .2 .1V197.2H352Z"/>
<path fill="#e31a1c" d="M352 81.2l1-.5 1-.3 1-.3 1-.2 1-.1 1-.1 1 0 1 0 1 .1 1 .3 1 .4 1 .4 1 .7 1 1 1 .7 1 .3 1 .4 1 .1 1 0 1-.7 1-1.1 1-1.2 1-1.4 1-1.7 1-1.7 1-1.3 1-1.1 1-1 1-.9 1-.7 1-.5 1-.2 1-.3 1-.1 1-.2 1 0 1 .2 1 .4 1 .5 1 .6 1 .5 1 .3 1 .3 1 .2 1 .2 1 .1 1 .2 1 .2 1 .3 1 .2 1 .3 1 .3 1 .3 1 .5 1 .6 1 .7 1 .6 1 .7 1 .6 1 .6 1 .8 1 .5 1 .1 1 0 1-.2 1-.2 1-.2 1-.3 1-.2 1-.2 1-.2 1-.2 1-.2 1-.2 1-.2 1-.2 1-.1 1-.1 1-.1 1-.1 1-.1 1-.1 1-.1 1-.1 1-.1 1-.1 1-.1 1-.1 1-.1 1-.1 1-.1 1-.1 1-.1 1-.1 1 0 1-.1 1-.1 1-.1 1-.1 1-.1 1 0 1-.1 1-.1 1-.1 1-.1 1-.1 1-.1 1 0 1-.1 1 0 1 .1 1 .1 1 .1 1 .2 1 .2 1 .4 1 .5 1 .6 1 .6 1 .6 1 .7 1 .8 1 .8 1 .8 1 .8 1 .7 1 .8 1 .8 1 .8 1 .8 1 .8 1 .6 1 .6 1 .6 1 .6 1 .5 1 .5 1 .3 1 .3 1 .1 1 .1 1 .1 1 .1 1 .1 1 0 1 0 1-.1 1-.5 1-.7 1-.7 1-.6 1-.7 1-.7 1-.7 1-.7 1-.6 1-.4 1-.5 1-.4 1-.4 1-.4 1-.2 1-.2 1-.2 1-.1 1-.1 1-.1 1-.1 1-.2 1-.1 1-.1 1-.1 1-.1 1-.1 1-.2 1-.1 1-.2 1-.3 1-.3 1-.3 1-.2 1-.3 1-.2 1-.1 1-.1 1-.1 1-.1 1-.1 1-.2 1-.2 1-.2 1-.2 1-.3 1-.2 1-.3 1-.3 1-.3 1-.4 1-.4 1-.3 1-.4 1-.2 1-.2 1-.1 1-.2 1-.1 1 0 1-.1 1-.1 1-.1 1-.1 1 0 1-.1 1-.1 1 0 1-.1 1-.2 1-.1 1-.2 1-.2 1-.2 1-.2 1-.2 1-.1 1-.2 1-.1 1-.1 1-.2 1-.1 1-.2 1-.2 1-.1 1-.2 1-.2 1-.2 1-.2 1-.2 1-.2 1-.3 1-.3 1-.2 1-.3 1-.2 1-.2 1-.3 1-.2 1-.2 1-.1 1-.1 1 0 1 .1 1 .1 1 .1 1 .1 1 .1 1 .2 1 .1 1 .2 1 .2 1 .2 1 .1 1 .1 1 .1 1-.2 1-.2 1-.3 1-.3 1-.3 1-.3 1-.3 1-.3 1-.3 1-.2 1-.3 1-.2 1-.2 1-.1 1-.1 1-.1 1-.1 1 0 1-.1 1 0 1 .1 1 .1 1 .1 1 .2 1 .1 1 .2 1 .2 1 .2 1 .3 1 .3 1 .3 1 .4 1 .4 1 .4 1 .5 1 .5 1 .6 .2 .1V197.2H352Z"/>
<path fill="#1f78b4" d="M352 87.5l1 .2 1 .2 1 .2 1 .2 1 .2 1 .2 1 .3 1 .3 1 .3 1 .3 1 .5 1 .6 1 .4 1 .2 1 .1 1-.1 1-.2 1-.2 1-.5 1-.8 1-.9 1-.8 1-.8 1-.9 1-.9 1-.8 1-.7 1-.7 1-.6 1-.5 1-.3 1-.1 1-.1 1-.1 1 0 1 0 1 .1 1 .3 1 .4 1 .4 1 .3 1 .1 1 0 1 0 1-.1 1-.1 1 0 1-.1 1-.1 1-.2 1-.1 1-.1 1 0 1 .2 1 .5 1 .5 1 .6 1 .7 1 .9 1 .9 1 .7 1 .5 1 .4 1 .4 1 .3 1 .1 1-.1 1-.1 1-.2 1-.2 1-.1 1-.1 1-.1 1 0 1 0 1 0 1 0 1 0 1 0 1 0 1 0 1 0 1 0 1 0 1 0 1-.1 1-.1 1-.1 1-.1 1-.1 1-.1 1-.1 1-.1 1-.2 1-.2 1-.2 1-.2 1-.2 1-.2 1-.2 1-.3 1-.2 1-.2 1-.3 1-.2 1-.3 1-.2 1-.3 1-.4 1-.5 1-.4 1-.2 1-.1 1 0 1 0 1 0 1 0 1 0 1 .2 1 .3 1 .4 1 .5 1 .4 1 .4 1 .5 1 .5 1 .6 1 .5 1 .5 1 .5 1 .6 1 .6 1 .6 1 .5 1 .4 1 .3 1 .3 1 .2 1 .3 1 .2 1 .1 1 .1 1 0 1 0 1 0 1 0 1-.1 1-.4 1-.5 1-.5 1-.5 1-.5 1-.5 1-.6 1-.5 1-.4 1-.3 1-.3 1-.3 1-.2 1-.3 1-.2 1-.1 1-.2 1-.1 1-.1 1-.1 1-.1 1-.2 1-.1 1-.1 1-.1 1-.1 1-.2 1-.1 1-.1 1-.2 1-.2 1-.1 1-.2 1-.2 1-.2 1-.2 1-.1 1-.2 1-.1 1-.2 1-.1 1-.2 1-.1 1-.1 1-.1 1-.1 1 0 1-.1 1-.2 1-.1 1-.3 1-.2 1-.2 1-.3 1-.1 1-.1 1-.1 1-.1 1 0 1-.1 1 0 1 0 1 0 1 0 1 0 1 0 1 0 1 0 1 0 1 0 1-.1 1 0 1-.1 1-.1 1 0 1-.1 1-.1 1-.1 1 0 1-.2 1-.1 1-.1 1-.1 1-.2 1-.2 1-.1 1-.2 1-.2 1-.2 1-.2 1-.2 1-.1 1-.2 1-.2 1-.2 1-.1 1-.2 1-.2 1-.2 1-.2 1-.1 1-.1 1 0 1 .1 1 .1 1 .1 1 .1 1 0 1 .1 1 .1 1 .1 1 .1 1 .1 1 .1 1 0 1 0 1-.1 1-.2 1-.2 1-.3 1-.2 1-.2 1-.2 1-.2 1-.2 1-.1 1-.1 1 0 1 .1 1 .1 1 .1 1 .1 1 .2 1 .1 1 .1 1 .1 1 .2 1 .1 1 .1 1 .1 1 .2 1 .1 1 .1 1 .1 1 .2 1 .1 1 .1 1 .2 1 .1 1 .1 1 .2 1 .1 1 .2 .2 0V197.2H352Z"/>
<path fill="#ffff99" d="M352 91.1l1 .6 1 .7 1 .8 1 .7 1 .8 1 .8 1 .9 1 .9 1 .8 1 .8 1 .8 1 .9 1 .7 1 .3 1 .1 1 0 1 0 1-.1 1-.5 1-.9 1-1 1-1 1-1 1-1.1 1-1 1-1 1-.9 1-.8 1-.7 1-.7 1-.6 1-.5 1-.3 1-.4 1-.3 1-.2 1-.2 1-.2 1-.2 1-.1 1-.1 1-.1 1-.1 1-.2 1-.1 1-.2 1-.2 1-.2 1-.1 1 0 1 0 1 0 1 0 1 0 1 .5 1 .7 1 .8 1 .7 1 .9 1 1 1 1 1 .9 1 .7 1 .6 1 .6 1 .5 1 .4 1 .2 1 .2 1 .2 1 .2 1 .1 1 .1 1 0 1 0 1 0 1 0 1-.1 1 0 1-.1 1 0 1-.1 1-.1 1 0 1-.1 1 0 1-.1 1-.1 1-.1 1-.1 1-.1 1-.2 1-.2 1-.3 1-.4 1-.4 1-.4 1-.5 1-.4 1-.6 1-.6 1-.7 1-.8 1-.8 1-.7 1-.7 1-.6 1-.6 1-.7 1-.6 1-.5 1-.4 1-.3 1-.3 1-.3 1-.2 1-.1 1 0 1 .1 1 .3 1 .3 1 .4 1 .3 1 .4 1 .5 1 .6 1 .5 1 .6 1 .5 1 .5 1 .5 1 .5 1 .5 1 .5 1 .3 1 .3 1 .2 1 .2 1 .2 1 .2 1 .1 1 .1 1 .1 1 0 1 .1 1 0 1-.1 1-.3 1-.4 1-.5 1-.4 1-.3 1-.4 1-.3 1-.3 1-.3 1-.3 1-.3 1-.3 1-.2 1-.2 1-.3 1-.2 1-.2 1-.1 1-.2 1-.2 1-.2 1-.1 1-.2 1-.1 1-.2 1-.1 1-.2 1-.1 1-.2 1-.1 1-.2 1-.1 1-.1 1-.1 1 0 1 .1 1 .1 1 .3 1 .2 1 .3 1 .2 1 .2 1 .3 1 .3 1 .2 1 .2 1 .1 1-.1 1-.1 1-.2 1-.2 1-.3 1-.3 1-.2 1-.2 1-.2 1-.2 1-.2 1-.2 1-.1 1 0 1 0 1 0 1 0 1 0 1 0 1 0 1 0 1 0 1 0 1-.1 1-.1 1 0 1-.1 1-.2 1-.1 1-.1 1-.3 1-.2 1-.3 1-.3 1-.3 1-.3 1-.4 1-.3 1-.4 1-.4 1-.3 1-.2 1-.1 1-.2 1-.1 1-.1 1-.1 1 0 1 0 1 0 1 0 1 .1 1 .1 1 0 1 .1 1 0 1 .1 1 0 1 .1 1 0 1 .1 1 0 1 .1 1 0 1 0 1 .1 1 0 1 0 1 0 1-.1 1 0 1-.2 1-.1 1 0 1-.1 1 0 1 0 1 0 1 0 1 0 1 0 1 0 1 0 1 .1 1 0 1 .1 1 .1 1 0 1 0 1 0 1 0 1 0 1 0 1 0 1 0 1 0 1-.1 1-.1 1-.2 1-.3 1-.2 1-.2 1-.3 1-.2 1-.3 1-.3 .2-.1V197.2H352Z"/>
<path fill="#b2df8a" d="M352 93.6l1 .6 1 .7 1 .8 1 .7 1 .8 1 .8 1 .9 1 .9 1 .8 1 .7 1 .9 1 .7 1 .7 1 .5 1 .2 1 .2 1 .1 1 0 1-.5 1-.9 1-1 1-1 1-1 1-1.1 1-1 1-1 1-.9 1-.8 1-.7 1-.7 1-.6 1-.5 1-.4 1-.5 1-.4 1-.3 1-.3 1-.2 1-.2 1-.1 1-.1 1-.1 1-.1 1-.2 1-.1 1-.2 1-.2 1-.2 1-.1 1 0 1 0 1 0 1 0 1 0 1 .5 1 .7 1 .8 1 .7 1 .9 1 1 1 .9 1 1 1 .7 1 .7 1 .7 1 .5 1 .5 1 .3 1 .2 1 .2 1 .2 1 .1 1 .1 1 .1 1 0 1 0 1 0 1-.1 1 0 1-.1 1 0 1-.1 1-.1 1 0 1-.1 1-.1 1-.1 1-.1 1-.1 1-.1 1-.2 1-.2 1-.2 1-.3 1-.4 1-.4 1-.4 1-.4 1-.5 1-.5 1-.6 1-.7 1-.7 1-.7 1-.8 1-.7 1-.7 1-.7 1-.8 1-.7 1-.6 1-.5 1-.4 1-.3 1-.3 1-.3 1-.1 1-.1 1 .2 1 .4 1 .4 1 .4 1 .4 1 .5 1 .5 1 .5 1 .5 1 .5 1 .6 1 .5 1 .5 1 .6 1 .5 1 .5 1 .5 1 .4 1 .3 1 .2 1 .3 1 .2 1 .2 1 .3 1 .2 1 .3 1 .3 1 .2 1-.1 1-.1 1-.2 1-.2 1-.3 1-.2 1-.3 1-.4 1-.4 1-.3 1-.4 1-.4 1-.4 1-.4 1-.3 1-.4 1-.3 1-.4 1-.3 1-.3 1-.3 1-.3 1-.3 1-.2 1-.2 1-.3 1-.2 1-.2 1-.2 1-.1 1-.1 1 0 1-.1 1-.1 1 0 1 0 1 .1 1 .2 1 .2 1 .3 1 .2 1 .2 1 .2 1 .3 1 .2 1 .2 1 .2 1 0 1 0 1 0 1-.1 1-.2 1-.1 1-.1 1-.1 1-.1 1-.1 1-.1 1 0 1-.1 1-.1 1-.1 1 0 1-.1 1 0 1-.1 1 0 1-.1 1-.1 1 0 1-.1 1-.2 1-.2 1-.1 1-.3 1-.2 1-.2 1-.2 1-.2 1-.3 1-.3 1-.2 1-.3 1-.2 1-.3 1-.3 1-.3 1-.3 1-.2 1-.1 1-.1 1-.2 1-.1 1 0 1-.1 1 0 1 0 1 .1 1 .1 1 .2 1 .2 1 .2 1 .1 1 .1 1 .1 1 0 1 .1 1 0 1 .1 1 0 1 .1 1 0 1 .1 1 0 1 .1 1 0 1 0 1 0 1-.1 1 0 1-.1 1-.1 1 0 1 0 1 0 1 0 1 0 1 0 1 0 1 0 1 0 1 0 1 0 1 0 1 0 1 0 1 0 1 0 1-.1 1-.2 1-.1 1-.2 1-.2 1-.2 1-.3 1-.4 1-.5 1-.5 1-.5 1-.5 1-.5 1-.5 1-.5 1-.5 .2-.1V197.2H352Z"/>
<path fill="#a6cee3" d="M352 124.7l1 0 1 0 1 0 1 0 1 0 1 0 1 0 1 0 1 .1 1 .1 1 0 1 .1 1 0 1 0 1-.1 1 0 1-.1 1-.1 1 0 1-.1 1 0 1 0 1-.1 1 0 1-.1 1-.1 1-.1 1-.1 1-.2 1-.3 1-.2 1-.2 1-.3 1-.3 1-.4 1-.3 1-.2 1 0 1 .1 1 .2 1 .4 1 .3 1 .4 1 .6 1 .7 1 .8 1 .7 1 .6 1 .7 1 .6 1 .6 1 .4 1 0 1 0 1-.1 1-.2 1-.1 1-.2 1-.1 1-.2 1-.2 1-.3 1-.2 1-.2 1-.2 1-.1 1-.1 1-.1 1 0 1-.1 1 0 1 0 1-.1 1 0 1 0 1 .1 1 0 1 0 1 .1 1 0 1 .1 1 0 1 .1 1 .1 1 .1 1 .2 1 .1 1 .2 1 .2 1 .2 1 .2 1 .2 1 .2 1 .2 1 .3 1 .2 1 .3 1 .2 1 .3 1 .3 1 .3 1 .4 1 .4 1 .3 1 .3 1 .3 1 .2 1 .2 1 .2 1 .1 1 .1 1-.2 1-.5 1-.8 1-.9 1-1.1 1-1.6 1-2.1 1-2.1 1-2.2 1-2.6 1-2.6 1-2.4 1-2.1 1-2 1-1.8 1-1.6 1-1.5 1-1.2 1-1 1-.8 1-.7 1-.6 1-.5 1-.4 1-.4 1-.3 1-.3 1-.3 1-.2 1-.2 1-.1 1-.2 1-.1 1-.1 1 0 1 .1 1 .2 1 .3 1 .3 1 .3 1 .3 1 .3 1 .4 1 .2 1 .1 1 0 1 0 1 0 1 0 1 0 1 0 1 0 1-.1 1-.1 1-.2 1-.2 1-.1 1-.1 1 0 1 0 1 .1 1 .1 1 .1 1 .1 1 .1 1 0 1 .1 1 .1 1 0 1 .1 1 0 1 0 1-.1 1-.1 1-.3 1-.2 1-.3 1-.3 1-.2 1-.3 1-.4 1-.3 1-.3 1-.3 1-.2 1-.2 1-.2 1-.1 1-.2 1-.1 1-.1 1 0 1 .1 1 0 1 .1 1 .1 1 .1 1 .1 1 .1 1 .1 1 .1 1 .1 1 .1 1 .1 1 .1 1 .1 1 .2 1 .2 1 .2 1 .2 1 .3 1 .2 1 .3 1 .4 1 .4 1 .4 1 .4 1 .4 1 .4 1 .3 1 .4 1 .3 1 .4 1 .2 1 .3 1 .2 1 .3 1 .2 1 .2 1 .2 1 0 1 .1 1 0 1 0 1 0 1 0 1 0 1 0 1-.1 1-.1 1-.2 1-.3 1-.4 1-.3 1-.3 1-.3 1-.4 1-.5 1-.4 1-.3 1-.2 1-.1 1 .1 1 .1 1 .2 1 .2 1 .2 1 .2 1 .1 1 .2 1 .2 1 .2 1 .2 1 .1 1 .2 1 .1 1 .2 1 .1 1 .1 1 .1 1 .2 1 .1 1 .1 1 .1 1 .2 1 .1 1 .1 1 .1 1 .1 1 .1 1 .1 1 .1 1 0 1 .1 1 .1 1 0 1 .1 1 .1 1 .1 .2 0V197.2H352Z"/>
<path fill="#fdbf6f" d="M352 140.5l1-.3 1-.4 1-.4 1-.4 1-.5 1-.5 1-.5 1-.5 1-.5 1-.5 1-.7 1-.6 1-.6 1-.2 1-.1 1 0 1 0 1 0 1 .1 1 .3 1 .6 1 .7 1 .6 1 .4 1 .5 1 .4 1 .4 1 .2 1 0 1-.3 1-.3 1-.4 1-.3 1-.1 1-.1 1-.1 1 0 1-.1 1 .1 1 .3 1 .5 1 .7 1 .6 1 .6 1 .7 1 .7 1 .7 1 .7 1 .5 1 .6 1 .5 1 .5 1 .3 1 .1 1 .1 1 0 1 .1 1 0 1 .1 1 0 1-.1 1-.1 1-.2 1-.1 1-.2 1-.2 1-.1 1-.2 1-.2 1-.3 1-.2 1-.2 1-.2 1-.2 1-.1 1-.2 1-.2 1-.1 1-.2 1 0 1-.1 1 .1 1 0 1 .2 1 .1 1 .2 1 .1 1 .2 1 .3 1 .3 1 .3 1 .4 1 .4 1 .3 1 .4 1 .3 1 .3 1 .4 1 .4 1 .3 1 .4 1 .4 1 .4 1 .4 1 .4 1 .3 1 .3 1 .1 1 .2 1 .1 1 0 1-.2 1-.6 1-.9 1-1.2 1-5.5 1-5 1-4.5 1-4 1-3.6 1-2.9 1-1.8 1-1.4 1-1.3 1-.9 1-1.3 1-2.3 1-2.1 1-2.2 1-2 1-1.4 1-1 1-.7 1-.7 1-.5 1-.5 1-.4 1-.3 1-.3 1-.3 1-.2 1-.2 1-.1 1-.2 1-.1 1 0 1 .1 1 .4 1 .5 1 .6 1 .5 1 .5 1 .6 1 .5 1 .5 1 .4 1 .4 1 .3 1 .2 1 .3 1 .2 1 .2 1 .2 1 .1 1 .1 1 .2 1 .1 1 .1 1 .1 1 .1 1 .1 1 .1 1 .1 1 .1 1 0 1 0 1 0 1 0 1 0 1 0 1 0 1 0 1 0 1 0 1-.1 1-.1 1-.1 1-.1 1 0 1-.1 1-.1 1-.1 1-.1 1 0 1-.1 1-.1 1 0 1-.1 1-.1 1 0 1-.1 1 0 1 0 1 0 1 .1 1 .1 1 .2 1 .2 1 .2 1 .2 1 .4 1 .5 1 .6 1 .6 1 .7 1 .7 1 .8 1 .8 1 .7 1 .6 1 .5 1 .4 1 .5 1 .4 1 .4 1 .4 1 .4 1 .4 1 .4 1 .4 1 .4 1 .3 1 .3 1 .3 1 .4 1 .3 1 .3 1 .2 1 .1 1 0 1 0 1 0 1 0 1 0 1 0 1 0 1-.1 1-.2 1-.4 1-.4 1-.4 1-.4 1-.4 1-.5 1-.4 1-.5 1-.5 1-.4 1-.3 1-.3 1-.2 1-.2 1-.2 1-.1 1 .1 1 .4 1 .6 1 .7 1 .6 1 .4 1 .5 1 .4 1 .4 1 .4 1 .3 1 .2 1 .2 1 .2 1 .1 1 .1 1 .1 1 .1 1 .1 1 .1 1 0 1 .1 1 .1 1 0 1 .1 1 .1 1 .2 1 .2 1 .1 1 .2 1 .2 1 .2 1 .2 1 .2 1 .2 1 .2 .2 .1V197.2H352Z"/>
</g>
<text x="497.7" y="80.8" font-size="9.3" fill="#fff" text-anchor="middle" >Sewer</text>
<text x="426.7" y="118.9" font-size="16.5" fill="#000" text-anchor="middle" >Noise</text>
<text x="425.7" y="138.5" font-size="6.6" fill="#222" text-anchor="middle" >Blocked driveway</text>
<text x="577.1" y="127.2" font-size="7.3" fill="#111" text-anchor="middle" >Street light condition</text>
<text x="439.2" y="84.2" font-size="5.3" fill="#fff" text-anchor="middle" >Illegal parking</text>
<text x="433.4" y="95" font-size="5.4" fill="#fff" text-anchor="middle" >Building/use</text>
<!-- chart c -->
<clipPath id="cc"><path d="M660.8 87.4l1-3.6 1-8.9 1-7.1 1-5.6 1-4.1 1-2.8 1-2.3 1-1.6 1-1.1 1-.8 1-.6 1-.2 1 .6 1 .9 1 .8 1 .9 1 1 1 1.1 1 .9 1 .6 1 .2 1-.1 1-.1 1-.2 1-.2 1-.2 1-.4 1-.4 1-.4 1-.4 1-.1 1 .1 1 .1 1 .2 1 .2 1 .4 1 .8 1 1.2 1 1.4 1 1.5 1 1.7 1 2 1 2.3 1 2.4 1 2.3 1 2.2 1 2.4 1 2.3 1 2.2 1 1.8 1 1.7 1 1.6 1 1.3 1 .9 1 .3 1 0 1-.3 1-.3 1-.5 1-1.1 1-1.9 1-2.4 1-2.6 1-3 1-3.6 1-3.9 1-3.7 1-3.5 1-3.5 1-3.3 1-3 1-2.4 1-2.3 1-2 1-1.7 1-1.4 1-1.1 1-.9 1-.8 1-.6 1-.2 1 .2 1 .3 1 .4 1 .5 1 .5 1 .9 1 1.1 1 1.1 1 1.1 1 1 1 1.1 1 1.1 1 .8 1 .6 1 .2 1-.1 1 0 1-.1 1-.2 1-.2 1-.4 1-.4 1-.3 1 .5 1 1.2 1 1.6 1 2 1 3 1 3.8 1 3.9 1 3.7 1 3.9 1 3.7 1 3.2 1 2.8 1 2.6 1 2.3 1 1.7 1 1.2 1 1 1 .8 1 .5 1 .3 1-.1 1-.3 1-.4 1-.5 1-.5 1-.6 1-.5 1-.6 1-.7 1-.7 1-.6 1-.7 1-.7 1-.7 1-.8 1-.7 1-.8 1-.9 1-.8 1-.9 1-.8 1-.9 1-1 1-.8 1-.8 1-.6 1-.4 1-.3 1-.4 1-.4 1-.5 1-.6 1-.7 1-.9 1-.8 1-1 1-1.2 1-1.4 1-1.3 1-.8 1-.7 1-.2 1 .6 1 1.1 1 1.6 1 2.6 1 3.4 1 3.4 1 3.6 1 3.7 1 3.3 1 2.9 1 2.6 1 2 1 1.2 1 .8 1 .6 1 .2 1-.2 1-.9 1-1.5 1-1.9 1-2.7 1-3.4 1-3.1 1-2.7 1-2.7 1-2.4 1-1.9 1-1.4 1-1.3 1-1 1-.8 1-.5 1-.4 1-.4 1-.3 1-.2 1-.2 1-.1 1 .1 1 0 1 .2 1 .1 1 .2 1 .1 1 .2 1 .2 1 .3 1 .2 1 .3 1 .1 1 0 1 0 1-.2 1-.2 1-.1 1-.1 1 0 1 0 1 .1 1 0 1 .1 1 .4 1 .9 1 1.2 1 1.3 1 1.4 1 1.7 1 1.7 1 1.6 1 1.4 1 1.4 1 1.3 1 .8 1 .3 1 0 1 0 1-.1 1-.2 1-.2 1-.5 1-.8 1-1 1-1.1 1-1.2 1-1.4 1-1.7 1-2 1-2 1-2.3 1-2.5 1-2.7 1-2.8 1-2.4 1-2.1 1-2 1-1.7 1-1.1 1-.7 1-.5 1-.1 1 .4 1 .7 1 .8 1 .8 1 1 1 1.2 1 .8 1 .4 1 0 1 0 1-.1 1-.1 1-.1 1-.2 1-.4 1-.6 1-.6 1-.4 1 .1 1 .4 1 .5 1 .6 1 1.1 1 1.6 1 1.9 1 2.1 1 2.5 1 2.7 1 2.9 1 3 1 3 1 3 1 1.9 1 .2 .2 0L961 147.3l-.2 0-1 0-1-.2-1-.2-1-.2-1-.2-1-.1-1-.2-1-.1-1-.2-1-.1-1-.1-1-.2-1-.1-1-.1-1 0-1-.1-1 0-1-.1-1 0-1-.1-1 0-1-.1-1 0-1-.1-1 0-1-.1-1-.1-1-.3-1-.6-1-.7-1-.7-1-.5-1-.4-1-.5-1-.3-1-.2-1-.1-1 .2-1 .4-1 .4-1 .4-1 .3-1 .4-1 .4-1 .3-1 .3-1 .1-1 .2-1 .1-1 .1-1 .1-1 0-1 0-1 0-1 0-1 0-1 0-1 0-1 0-1-.1-1-.2-1-.2-1-.4-1-.3-1-.5-1-.5-1-.6-1-.5-1-.4-1-.2-1-.2-1-.1-1-.2-1-.1-1-.1-1-.1-1-.1-1-.2-1-.1-1-.1-1-.2-1-.3-1-.4-1-.3-1-.2-1-.1-1 0-1 0-1 0-1 0-1 0-1 0-1 0-1 0-1-.1-1-.1-1-.1-1-.1-1-.3-1-.5-1-.5-1-.5-1-.6-1-.8-1-.8-1-.6-1-.3-1 0-1 0-1 0-1 0-1 0-1 0-1 0-1 0-1 0-1 0-1 0-1 0-1 0-1 0-1 0-1 0-1 0-1 0-1 0-1 0-1 0-1 0-1 0-1 0-1 0-1 0-1-.2-1-.3-1-.3-1-.3-1-.3-1-.3-1-.2-1-.2-1-.2-1-.1-1-.1-1 0-1 .2-1 .2-1 .3-1 .3-1 .6-1 .8-1 1-1 .9-1 1-1 1.1-1 1.1-1 .9-1 .6-1 .5-1 .4-1 .1-1-.5-1-.7-1-.5-1-.7-1-.7-1-.5-1-.2-1 0-1 .1-1 .3-1 .3-1 .4-1 .9-1 1.7-1 2.3-1 2.5-1 3.4-1 4-1 4.2-1 4.3-1 4.7-1 4.1-1 3-1 2.6-1 2.3-1 1.7-1 1.2-1 1-1 .7-1 .2-1-.6-1-1.1-1-1.2-1-1.3-1-1.5-1-1.8-1-2-1-1.9-1-1.9-1-1.9-1-1.8-1-1.7-1-1.5-1-1.4-1-1.3-1-1.1-1-.9-1-.6-1-.5-1-.4-1-.4-1-.2-1-.1-1 0-1 .1-1 .1-1 .1-1 .2-1 .1-1 .2-1 .2-1 .1-1 .1-1 0-1-.1-1-.1-1-.1-1-.1-1-.1-1-.2-1-.2-1-.2-1-.1-1 .1-1 .4-1 .6-1 .8-1 .9-1 1.1-1 1.5-1 1.6-1 1.4-1 1.2-1 1.2-1 1-1 .4-1-.1-1-.1-1-.2-1-.2-1-.6-1-.8-1-.8-1-.7-1-.7-1-.8-1-.7-1-.5-1-.4-1-.1-1 .1-1 .2-1 .2-1 .1-1 .1-1-.1-1-.1-1-.1-1-.2-1-.4-1-.8-1-1.1-1-1.1-1-1.3-1-1.7-1-1.6-1-1.4-1-1.1-1-1.1-1-.9-1-.7-1-.3-1 0-1 .2-1 .3-1 .4-1 .4-1 .7-1 1-1 1.2-1 .8-1 .5-1 .3-1 .3-1 0-1-.5-1-1-1-1.2-1-.6Z"/></clipPath>
<path d="M660.8 87.4l1-3.6 1-8.9 1-7.1 1-5.6 1-4.1 1-2.8 1-2.3 1-1.6 1-1.1 1-.8 1-.6 1-.2 1 .6 1 .9 1 .8 1 .9 1 1 1 1.1 1 .9 1 .6 1 .2 1-.1 1-.1 1-.2 1-.2 1-.2 1-.4 1-.4 1-.4 1-.4 1-.1 1 .1 1 .1 1 .2 1 .2 1 .4 1 .8 1 1.2 1 1.4 1 1.5 1 1.7 1 2 1 2.3 1 2.4 1 2.3 1 2.2 1 2.4 1 2.3 1 2.2 1 1.8 1 1.7 1 1.6 1 1.3 1 .9 1 .3 1 0 1-.3 1-.3 1-.5 1-1.1 1-1.9 1-2.4 1-2.6 1-3 1-3.6 1-3.9 1-3.7 1-3.5 1-3.5 1-3.3 1-3 1-2.4 1-2.3 1-2 1-1.7 1-1.4 1-1.1 1-.9 1-.8 1-.6 1-.2 1 .2 1 .3 1 .4 1 .5 1 .5 1 .9 1 1.1 1 1.1 1 1.1 1 1 1 1.1 1 1.1 1 .8 1 .6 1 .2 1-.1 1 0 1-.1 1-.2 1-.2 1-.4 1-.4 1-.3 1 .5 1 1.2 1 1.6 1 2 1 3 1 3.8 1 3.9 1 3.7 1 3.9 1 3.7 1 3.2 1 2.8 1 2.6 1 2.3 1 1.7 1 1.2 1 1 1 .8 1 .5 1 .3 1-.1 1-.3 1-.4 1-.5 1-.5 1-.6 1-.5 1-.6 1-.7 1-.7 1-.6 1-.7 1-.7 1-.7 1-.8 1-.7 1-.8 1-.9 1-.8 1-.9 1-.8 1-.9 1-1 1-.8 1-.8 1-.6 1-.4 1-.3 1-.4 1-.4 1-.5 1-.6 1-.7 1-.9 1-.8 1-1 1-1.2 1-1.4 1-1.3 1-.8 1-.7 1-.2 1 .6 1 1.1 1 1.6 1 2.6 1 3.4 1 3.4 1 3.6 1 3.7 1 3.3 1 2.9 1 2.6 1 2 1 1.2 1 .8 1 .6 1 .2 1-.2 1-.9 1-1.5 1-1.9 1-2.7 1-3.4 1-3.1 1-2.7 1-2.7 1-2.4 1-1.9 1-1.4 1-1.3 1-1 1-.8 1-.5 1-.4 1-.4 1-.3 1-.2 1-.2 1-.1 1 .1 1 0 1 .2 1 .1 1 .2 1 .1 1 .2 1 .2 1 .3 1 .2 1 .3 1 .1 1 0 1 0 1-.2 1-.2 1-.1 1-.1 1 0 1 0 1 .1 1 0 1 .1 1 .4 1 .9 1 1.2 1 1.3 1 1.4 1 1.7 1 1.7 1 1.6 1 1.4 1 1.4 1 1.3 1 .8 1 .3 1 0 1 0 1-.1 1-.2 1-.2 1-.5 1-.8 1-1 1-1.1 1-1.2 1-1.4 1-1.7 1-2 1-2 1-2.3 1-2.5 1-2.7 1-2.8 1-2.4 1-2.1 1-2 1-1.7 1-1.1 1-.7 1-.5 1-.1 1 .4 1 .7 1 .8 1 .8 1 1 1 1.2 1 .8 1 .4 1 0 1 0 1-.1 1-.1 1-.1 1-.2 1-.4 1-.6 1-.6 1-.4 1 .1 1 .4 1 .5 1 .6 1 1.1 1 1.6 1 1.9 1 2.1 1 2.5 1 2.7 1 2.9 1 3 1 3 1 3 1 1.9 1 .2 .2 0L961 147.3l-.2 0-1 0-1-.2-1-.2-1-.2-1-.2-1-.1-1-.2-1-.1-1-.2-1-.1-1-.1-1-.2-1-.1-1-.1-1 0-1-.1-1 0-1-.1-1 0-1-.1-1 0-1-.1-1 0-1-.1-1 0-1-.1-1-.1-1-.3-1-.6-1-.7-1-.7-1-.5-1-.4-1-.5-1-.3-1-.2-1-.1-1 .2-1 .4-1 .4-1 .4-1 .3-1 .4-1 .4-1 .3-1 .3-1 .1-1 .2-1 .1-1 .1-1 .1-1 0-1 0-1 0-1 0-1 0-1 0-1 0-1 0-1-.1-1-.2-1-.2-1-.4-1-.3-1-.5-1-.5-1-.6-1-.5-1-.4-1-.2-1-.2-1-.1-1-.2-1-.1-1-.1-1-.1-1-.1-1-.2-1-.1-1-.1-1-.2-1-.3-1-.4-1-.3-1-.2-1-.1-1 0-1 0-1 0-1 0-1 0-1 0-1 0-1 0-1-.1-1-.1-1-.1-1-.1-1-.3-1-.5-1-.5-1-.5-1-.6-1-.8-1-.8-1-.6-1-.3-1 0-1 0-1 0-1 0-1 0-1 0-1 0-1 0-1 0-1 0-1 0-1 0-1 0-1 0-1 0-1 0-1 0-1 0-1 0-1 0-1 0-1 0-1 0-1 0-1 0-1 0-1-.2-1-.3-1-.3-1-.3-1-.3-1-.3-1-.2-1-.2-1-.2-1-.1-1-.1-1 0-1 .2-1 .2-1 .3-1 .3-1 .6-1 .8-1 1-1 .9-1 1-1 1.1-1 1.1-1 .9-1 .6-1 .5-1 .4-1 .1-1-.5-1-.7-1-.5-1-.7-1-.7-1-.5-1-.2-1 0-1 .1-1 .3-1 .3-1 .4-1 .9-1 1.7-1 2.3-1 2.5-1 3.4-1 4-1 4.2-1 4.3-1 4.7-1 4.1-1 3-1 2.6-1 2.3-1 1.7-1 1.2-1 1-1 .7-1 .2-1-.6-1-1.1-1-1.2-1-1.3-1-1.5-1-1.8-1-2-1-1.9-1-1.9-1-1.9-1-1.8-1-1.7-1-1.5-1-1.4-1-1.3-1-1.1-1-.9-1-.6-1-.5-1-.4-1-.4-1-.2-1-.1-1 0-1 .1-1 .1-1 .1-1 .2-1 .1-1 .2-1 .2-1 .1-1 .1-1 0-1-.1-1-.1-1-.1-1-.1-1-.1-1-.2-1-.2-1-.2-1-.1-1 .1-1 .4-1 .6-1 .8-1 .9-1 1.1-1 1.5-1 1.6-1 1.4-1 1.2-1 1.2-1 1-1 .4-1-.1-1-.1-1-.2-1-.2-1-.6-1-.8-1-.8-1-.7-1-.7-1-.8-1-.7-1-.5-1-.4-1-.1-1 .1-1 .2-1 .2-1 .1-1 .1-1-.1-1-.1-1-.1-1-.2-1-.4-1-.8-1-1.1-1-1.1-1-1.3-1-1.7-1-1.6-1-1.4-1-1.1-1-1.1-1-.9-1-.7-1-.3-1 0-1 .2-1 .3-1 .4-1 .4-1 .7-1 1-1 1.2-1 .8-1 .5-1 .3-1 .3-1 0-1-.5-1-1-1-1.2-1-.6Z" fill="#fdbf6f" stroke="#c2a57c" stroke-opacity=".55" stroke-width="2.6" stroke-dasharray="3.5 2" stroke-linejoin="round" paint-order="stroke"/>
<g clip-path="url(#cc)">
<path fill="#cab2d6" d="M660.8 91.7l1-1.3 1-1.3 1-1.2 1-1.1 1-1.2 1-1 1-.6 1-.5 1-.3 1-.2 1 .3 1 .6 1 .8 1 .8 1 1 1 1 1 .7 1 .2 1 .1 1 .1 1 .1 1-.1 1-.2 1-.5 1-.5 1-.5 1-.3 1-.2 1-.2 1-.2 1-.1 1-.1 1 0 1 .1 1 0 1 .1 1 .2 1 .1 1 .1 1 .3 1 .3 1 .4 1 .4 1 .4 1 .5 1 .7 1 .7 1 .7 1 .7 1 .5 1 .4 1 .4 1 .3 1 .3 1 .2 1 .1 1-.2 1-.2 1-.4 1-.5 1-.5 1-.6 1-.8 1-.9 1-.9 1-.8 1-.7 1-.7 1-.6 1-.5 1-.4 1-.4 1-.4 1-.3 1-.2 1 0 1 0 1 .1 1 .1 1 .1 1 .1 1 .1 1 0 1-.1 1 0 1-.1 1-.1 1-.1 1-.1 1-.2 1-.2 1-.2 1-.4 1-.3 1-.4 1-.4 1-.4 1-.6 1-.6 1-.5 1-.4 1-.4 1-.3 1-.3 1-.1 1 .1 1 .2 1 .4 1 .4 1 .6 1 .9 1 1.1 1 1.2 1 1.2 1 1.3 1 1.5 1 1.4 1 1.3 1 1.1 1 1.2 1 1.1 1 1 1 .8 1 .6 1 .5 1 .5 1 .4 1 .4 1 .3 1 .2 1 .1 1 .2 1 .1 1 .1 1 .1 1 0 1 0 1 0 1 0 1 .1 1 .3 1 .3 1 .4 1 .2 1 .1 1 .1 1 .1 1 .1 1 0 1 0 1-.2 1-.2 1-.2 1-.2 1-.2 1-.3 1-.3 1-.3 1-.1 1 0 1 .1 1 .2 1 .1 1 .2 1 .2 1 .3 1 .3 1 .3 1 .3 1 .2 1 .1 1 .2 1 .2 1 .1 1 .1 1 .2 1 .1 1 .1 1 0 1 0 1-.1 1-.1 1-.1 1-.1 1-.2 1-.3 1-.4 1-.4 1-.4 1-.3 1-.4 1-.4 1-.3 1-.3 1-.1 1-.1 1-.1 1-.1 1-.1 1 0 1-.1 1 0 1-.1 1 0 1-.1 1 0 1-.2 1-.3 1-.3 1-.3 1-.3 1-.3 1-.4 1-.4 1-.3 1-.3 1-.1 1-.2 1-.2 1-.1 1 0 1 0 1 .1 1 .1 1 .1 1 0 1 .1 1 .1 1 0 1 .1 1 0 1 .1 1 0 1-.1 1 0 1-.2 1-.1 1-.1 1-.2 1-.2 1-.3 1-.4 1-.4 1-.3 1-.3 1-.4 1-.3 1-.3 1-.1 1 0 1 .1 1 0 1 .1 1 .1 1 .2 1 .3 1 .3 1 .3 1 .2 1 .1 1 .1 1 .1 1 .1 1 0 1-.1 1-.3 1-.4 1-.4 1-.4 1-.4 1-.4 1-.4 1-.3 1-.2 1-.1 1-.1 1-.1 1 0 1-.1 1 .1 1 .1 1 .2 1 .2 1 .2 1 .2 1 .2 1 .3 1 .2 1 .3 1 .3 1 .3 1 .4 1 .3 1 .3 1 .3 1 .3 1 .3 1 .2 1 .3 1 0 .2 0V184.6H660.8Z"/>
<path fill="#ffff99" d="M660.8 93l1-.9 1-.8 1-.7 1-.7 1-.6 1-.4 1-.3 1-.1 1-.1 1-.1 1 .2 1 .5 1 .5 1 .5 1 .5 1 .5 1 .3 1 0 1-.1 1-.1 1-.2 1-.1 1-.3 1-.3 1-.3 1-.2 1 0 1 0 1 0 1 0 1 0 1 0 1 0 1 0 1 .1 1 .2 1 .1 1 .2 1 .1 1 .2 1 .2 1 .3 1 .2 1 .3 1 .3 1 .4 1 .4 1 .3 1 .4 1 .3 1 .2 1 .2 1 .2 1 .2 1 .1 1 .1 1-.2 1-.3 1-.4 1-.4 1-.5 1-.5 1-.6 1-.7 1-.7 1-.5 1-.4 1-.4 1-.3 1-.3 1-.2 1-.1 1-.1 1 0 1-.1 1 0 1 .1 1 .1 1 .1 1 .2 1 .1 1 .1 1 0 1-.1 1 0 1 0 1-.1 1-.1 1-.1 1 0 1-.1 1-.2 1-.1 1-.2 1-.1 1-.1 1-.1 1-.2 1-.1 1-.1 1 0 1 0 1 .2 1 .1 1 .2 1 .3 1 .5 1 .6 1 .6 1 .7 1 .6 1 .7 1 .7 1 .7 1 .7 1 .8 1 .6 1 .6 1 .6 1 .5 1 .5 1 .4 1 .3 1 .2 1 .2 1 .1 1 .1 1 .1 1 .1 1 0 1 .1 1 .1 1 0 1 .1 1 0 1 0 1-.1 1-.1 1-.1 1 0 1 .3 1 .3 1 .3 1 .2 1 .1 1 .1 1 .1 1 0 1 .1 1-.1 1-.1 1-.2 1-.2 1-.2 1-.3 1-.3 1-.3 1-.2 1-.1 1 0 1 .1 1 .1 1 .2 1 .2 1 .2 1 .3 1 .3 1 .3 1 .2 1 .2 1 .2 1 .2 1 .1 1 .2 1 .1 1 .1 1 .2 1 .1 1 0 1 0 1-.1 1-.1 1-.1 1-.2 1-.2 1-.3 1-.3 1-.4 1-.4 1-.4 1-.3 1-.4 1-.4 1-.2 1-.1 1-.2 1-.1 1 0 1-.1 1-.1 1 0 1-.1 1 0 1 0 1-.1 1-.1 1-.1 1-.3 1-.3 1-.3 1-.3 1-.4 1-.4 1-.3 1-.4 1-.2 1-.2 1-.2 1-.1 1-.1 1 0 1 0 1 .1 1 .1 1 0 1 .1 1 .1 1 0 1 .1 1 .1 1 0 1 0 1 0 1 0 1-.1 1-.1 1-.1 1-.1 1-.2 1-.2 1-.3 1-.4 1-.4 1-.3 1-.4 1-.3 1-.3 1-.3 1-.1 1 0 1 0 1 .1 1 .1 1 .1 1 .1 1 .3 1 .4 1 .3 1 .2 1 .1 1 .1 1 .1 1 0 1 .1 1-.1 1-.3 1-.4 1-.4 1-.4 1-.4 1-.4 1-.4 1-.3 1-.2 1-.2 1 0 1-.1 1-.1 1 0 1 0 1 .2 1 .2 1 .2 1 .2 1 .2 1 .2 1 .2 1 .3 1 .2 1 .3 1 .4 1 .3 1 .4 1 .3 1 .3 1 .3 1 .3 1 .2 1 .3 1 0 .2 0V184.6H660.8Z"/>
<path fill="#e31a1c" d="M660.8 98.3l1-1 1-1 1-1 1-.9 1-.8 1-.8 1-.4 1-.4 1-.2 1-.1 1 .2 1 .4 1 .5 1 .5 1 .5 1 .5 1 .3 1 .1 1-.1 1-.2 1-.1 1-.2 1-.2 1-.4 1-.2 1-.3 1 0 1 0 1 0 1 0 1 0 1 0 1 0 1 .1 1 .1 1 .1 1 .2 1 .1 1 .2 1 .2 1 .2 1 .2 1 .3 1 .2 1 .3 1 .3 1 .3 1 .4 1 .2 1 .3 1 .2 1 .2 1 .1 1 .2 1 .1 1 0 1-.1 1-.3 1-.4 1-.5 1-.4 1-.5 1-.6 1-.7 1-.6 1-.5 1-.4 1-.4 1-.3 1-.3 1-.2 1-.1 1-.2 1-.1 1 0 1-.1 1 .1 1 .1 1 .2 1 .2 1 .2 1 .1 1 0 1-.1 1 0 1 0 1-.1 1-.1 1-.1 1 0 1-.2 1-.1 1-.2 1-.2 1-.1 1-.2 1-.1 1-.2 1-.2 1-.1 1 0 1 0 1 .1 1 .1 1 .1 1 .3 1 .4 1 .6 1 .6 1 .6 1 .7 1 .8 1 .7 1 .7 1 .8 1 .7 1 .6 1 .6 1 .5 1 .5 1 .4 1 .4 1 .3 1 .3 1 .2 1 .2 1 .2 1 .1 1 .1 1 .1 1 .1 1 0 1 .1 1 0 1 .1 1 0 1-.1 1-.2 1-.1 1 .1 1 .3 1 .5 1 .4 1 .4 1 .2 1 .1 1 .2 1 .1 1 .1 1-.1 1-.1 1-.1 1-.2 1-.2 1-.2 1-.3 1-.4 1-.3 1-.1 1 0 1 0 1 .1 1 .1 1 .1 1 .1 1 .2 1 .2 1 .2 1 .3 1 .2 1 .2 1 .3 1 .2 1 .2 1 .2 1 .1 1 .1 1 .1 1 .1 1-.1 1 0 1-.1 1-.2 1-.1 1-.2 1-.3 1-.4 1-.4 1-.3 1-.4 1-.3 1-.4 1-.3 1-.3 1-.2 1-.2 1-.2 1-.1 1-.2 1-.1 1-.1 1-.1 1-.2 1-.1 1-.1 1-.2 1-.1 1-.2 1-.3 1-.2 1-.3 1-.4 1-.5 1-.4 1-.5 1-.4 1-.4 1-.5 1-.4 1-.2 1-.1 1 0 1 0 1 0 1 0 1 0 1 0 1 .2 1 .2 1 .3 1 .2 1 .2 1 .1 1 .1 1 .1 1 .1 1 .1 1 0 1 0 1 0 1-.1 1-.1 1-.1 1-.1 1-.2 1-.3 1-.3 1-.3 1-.1 1 0 1 0 1 0 1 0 1 0 1 0 1 .3 1 .3 1 .3 1 .2 1 .1 1 .2 1 .1 1 .1 1 0 1 0 1-.3 1-.4 1-.5 1-.4 1-.3 1-.4 1-.4 1-.3 1-.3 1-.1 1-.2 1-.1 1-.1 1 0 1 0 1 .1 1 .1 1 .1 1 .2 1 .1 1 .3 1 .2 1 .3 1 .2 1 .2 1 .3 1 .2 1 .2 1 .1 1 .2 1 .1 1 .2 1 .1 1 .1 1 0 .2 0V184.6H660.8Z"/>
<path fill="#1f78b4" d="M660.8 105l1-.5 1-.5 1-.5 1-.5 1-.5 1-.5 1-.5 1-.3 1-.4 1-.3 1-.3 1-.2 1 0 1 0 1 0 1 0 1 0 1 0 1 .2 1 .3 1 .4 1 .3 1 .2 1 .2 1 .1 1 .1 1 .1 1 .2 1 .1 1 .2 1 .1 1 .2 1 .1 1 .2 1 .1 1 .1 1 .1 1 .1 1 .1 1 .1 1 .1 1 .1 1 .1 1 .1 1 .1 1 0 1 .1 1 0 1 0 1 0 1 0 1 0 1 0 1 0 1-.1 1 0 1-.1 1-.2 1-.2 1-.1 1-.2 1-.2 1-.2 1-.2 1-.2 1-.2 1-.2 1-.2 1-.2 1-.2 1-.3 1-.2 1-.1 1-.1 1 0 1 0 1 0 1 0 1 0 1 0 1 0 1 0 1 0 1 0 1 0 1 0 1 0 1 0 1-.1 1-.1 1-.2 1-.2 1-.3 1-.2 1-.2 1-.3 1-.3 1-.2 1-.3 1-.2 1-.2 1-.2 1-.1 1-.2 1 0 1 .1 1 .2 1 .2 1 .3 1 .3 1 .3 1 .3 1 .4 1 .3 1 .4 1 .3 1 .4 1 .3 1 .3 1 .2 1 .3 1 .2 1 .1 1 .1 1 0 1 0 1 0 1 0 1 0 1 0 1 0 1 0 1 0 1 0 1 0 1 0 1-.1 1-.1 1-.1 1 0 1 .3 1 .4 1 .4 1 .3 1 .3 1 .2 1 .3 1 .2 1 .1 1 0 1 0 1 0 1 0 1 0 1-.1 1-.2 1-.2 1-.3 1-.2 1-.2 1-.1 1-.2 1-.1 1-.1 1 0 1 .1 1 0 1 .1 1 .1 1 .2 1 .3 1 .4 1 .4 1 .3 1 .4 1 .3 1 .3 1 .3 1 .1 1 0 1 0 1 0 1 0 1 0 1 0 1-.2 1-.2 1-.3 1-.2 1-.2 1-.3 1-.2 1-.3 1-.2 1-.2 1-.2 1-.2 1-.2 1-.1 1 0 1 0 1 0 1 0 1 0 1 0 1 0 1 0 1-.2 1-.2 1-.2 1-.2 1-.3 1-.4 1-.3 1-.4 1-.3 1-.3 1-.3 1-.3 1-.2 1 0 1 0 1 0 1 .1 1 .1 1 .1 1 .2 1 .2 1 .2 1 .2 1 .3 1 .2 1 .1 1 .1 1 .2 1 .1 1 .1 1 .1 1 0 1 0 1 0 1 0 1 0 1 0 1 0 1-.2 1-.2 1-.2 1-.1 1 0 1 0 1 0 1 0 1 0 1 .1 1 .1 1 .1 1 .2 1 .2 1 .1 1 .1 1 .2 1 .1 1 0 1-.1 1-.1 1-.3 1-.3 1-.3 1-.3 1-.3 1-.3 1-.3 1-.2 1-.1 1-.1 1-.1 1 0 1 0 1 0 1 .1 1 .1 1 .2 1 .2 1 .2 1 .2 1 .2 1 .3 1 .1 1 .1 1 .1 1 0 1 .1 1 .1 1 0 1 .1 1 .1 1 0 1 .1 1 0 .2 0V184.6H660.8Z"/>
<path fill="#a6cee3" d="M660.8 107.5l1 .3 1 .3 1 .2 1 .3 1 .3 1 .3 1 .3 1 .3 1 .2 1 .1 1 .1 1 .1 1 0 1 0 1 0 1-.2 1-.2 1-.1 1-.1 1 0 1 .1 1 .1 1 .2 1 .2 1 .2 1 .4 1 .3 1 .3 1 .2 1 0 1 0 1 0 1 0 1 0 1-.1 1-.1 1-.2 1-.3 1-.2 1-.3 1-.2 1-.2 1-.2 1-.1 1-.2 1-.2 1-.2 1-.1 1-.1 1-.2 1-.1 1-.2 1-.1 1-.1 1 0 1-.1 1-.1 1 0 1-.1 1 0 1 0 1 0 1 0 1 0 1 0 1 0 1 0 1 0 1 0 1 0 1 0 1 0 1 0 1 0 1 0 1 0 1 .1 1 .1 1 0 1 .1 1 0 1 .1 1 .1 1 0 1 .1 1 0 1 .1 1 0 1-.2 1-.2 1-.3 1-.3 1-.4 1-.4 1-.6 1-.5 1-.5 1-.5 1-.5 1-.4 1-.4 1-.3 1-.3 1-.3 1-.3 1-.2 1-.1 1 0 1 .1 1 .1 1 .1 1 .1 1 .2 1 .2 1 .2 1 .2 1 .1 1 0 1 0 1 0 1 0 1 0 1 0 1 0 1-.1 1 0 1-.1 1 0 1-.1 1 0 1 0 1-.1 1 0 1 0 1 0 1-.1 1 0 1-.1 1 0 1 .1 1 .3 1 .5 1 .5 1 .5 1 .4 1 .3 1 .4 1 .3 1 .3 1 .2 1 .2 1 .1 1 .1 1 .1 1 0 1-.1 1-.1 1 0 1-.1 1-.1 1-.1 1-.1 1 0 1-.1 1 0 1 0 1 0 1 0 1 0 1 .1 1 .1 1 .1 1 .2 1 .2 1 .1 1 .2 1 .3 1 .2 1 .2 1 .1 1 .2 1 .2 1 .1 1 .1 1 0 1-.1 1-.1 1-.1 1 0 1-.2 1-.1 1-.2 1-.2 1-.2 1-.1 1-.1 1-.2 1-.1 1 0 1 0 1 0 1 0 1 0 1 0 1 0 1 0 1 0 1-.1 1 0 1-.1 1-.1 1-.3 1-.3 1-.4 1-.4 1-.3 1-.4 1-.5 1-.4 1-.3 1-.1 1 0 1 0 1 0 1 0 1 0 1 .1 1 .1 1 .1 1 .2 1 .1 1 .2 1 .1 1 .2 1 .1 1 .1 1 .2 1 .1 1 .1 1 .1 1 .1 1 0 1 .1 1 0 1 0 1 0 1-.1 1-.1 1-.1 1-.1 1 0 1-.1 1-.1 1 0 1 0 1 0 1 .1 1 .1 1 .1 1 .1 1 .2 1 .2 1 .2 1 .1 1 0 1-.1 1-.2 1-.3 1-.2 1-.2 1-.2 1-.2 1-.1 1-.1 1 0 1 0 1 0 1 0 1 0 1 0 1 .1 1 .1 1 .1 1 .1 1 .1 1 .1 1 .1 1 .1 1 0 1 0 1-.2 1-.2 1-.2 1-.2 1-.2 1-.1 1-.2 1-.2 1-.1 1-.1 .2 0V184.6H660.8Z"/>
<path fill="#33a02c" d="M660.8 123l1 0 1-.1 1-.1 1-.1 1-.2 1-.2 1-.2 1-.3 1-.4 1-.5 1-.8 1-.8 1-.8 1-.5 1-.5 1-.5 1-.3 1 0 1 .3 1 .4 1 .5 1 .6 1 .8 1 .9 1 .9 1 .6 1 .6 1 .5 1 .5 1 .4 1 .2 1 .1 1 .1 1 .1 1 .1 1 0 1 0 1 0 1 0 1-.1 1-.1 1-.1 1-.1 1-.1 1 0 1-.1 1-.1 1-.1 1 0 1-.1 1-.1 1 0 1-.1 1-.1 1 0 1-.1 1 0 1 0 1 0 1 0 1 0 1 0 1 0 1 0 1 0 1 .1 1 0 1 .1 1 .1 1 0 1 0 1 0 1 0 1 0 1 0 1 0 1 0 1 0 1 0 1 0 1-.1 1 0 1-.1 1-.1 1-.1 1-.1 1-.1 1-.1 1-.1 1-.2 1-.2 1-.1 1-.3 1-.2 1-.3 1-.3 1-.2 1-.3 1-.3 1-.4 1-.3 1-.3 1-.4 1-.3 1-.3 1-.4 1-.3 1-.3 1-.4 1-.4 1-.4 1-.4 1-.4 1-.4 1-.5 1-.4 1-.5 1-.6 1-.6 1-.7 1-.6 1-.7 1-.6 1-.4 1-.4 1-.4 1-.7 1-.7 1-.8 1-.7 1-.5 1-.3 1-.3 1-.3 1-.2 1-.2 1-.1 1-.1 1-.1 1 .1 1 .3 1 .3 1 .5 1 .4 1 .4 1 .5 1 .5 1 .6 1 .5 1 .5 1 .5 1 .6 1 .5 1 .4 1 .4 1 .4 1 .4 1 .3 1 .2 1 .2 1 .2 1 .1 1 .1 1 .1 1 .1 1 .1 1 .1 1 .1 1 0 1 .1 1 .1 1 .1 1 0 1 .1 1 .1 1 .1 1 .1 1 .1 1 .1 1 .2 1 .2 1 .2 1 .2 1 .2 1 .2 1 .2 1 .2 1 .3 1 .2 1 .2 1 .2 1 .2 1 .1 1 .1 1 .1 1 .1 1 .1 1 .1 1 .1 1 .1 1 .1 1 .1 1 .1 1 0 1 .1 1 0 1 0 1 0 1 0 1 0 1 0 1 0 1 0 1 0 1 .1 1 .1 1 .1 1 .1 1 .1 1 .1 1 .1 1 .1 1 .1 1 .1 1 .1 1 .1 1 .1 1 .1 1 .1 1 .1 1 0 1 .1 1 0 1 0 1 0 1 0 1 0 1 0 1 0 1 0 1 0 1 .1 1 .1 1 .1 1 .1 1 .1 1 0 1 .1 1 .1 1 0 1 .1 1 0 1 0 1 0 1 0 1 0 1 0 1 0 1 0 1 0 1 0 1 .1 1 0 1 .1 1 .1 1 0 1 .1 1 .1 1 .1 1 .1 1 .1 1 0 1 0 1 0 1 0 1 0 1 0 1 0 1 0 1 0 1 0 1-.1 1-.1 1-.1 1-.1 1-.1 1 0 1-.1 1 0 1-.1 1 0 1-.1 1 0 1-.1 1 0 1-.1 1 0 1-.1 1 0 1 0 .2 0V184.6H660.8Z"/>
<path fill="#b2df8a" d="M660.8 127.7l1 .9 1 .8 1 .8 1 .7 1 .6 1 .6 1 .6 1 .3 1 0 1-.3 1-.4 1-.4 1-.5 1-.6 1-.8 1-.5 1-.2 1 .1 1 0 1 .2 1 .1 1 .3 1 .5 1 .7 1 .6 1 .4 1 .4 1 .3 1 .3 1 .3 1 .2 1 .2 1 .1 1 .1 1 .1 1 .1 1 0 1 0 1 0 1-.1 1-.1 1-.1 1-.2 1-.2 1-.3 1-.2 1-.4 1-.4 1-.5 1-.4 1-.5 1-.4 1-.4 1-.5 1-.3 1-.3 1-.2 1-.1 1-.2 1-.1 1 0 1-.1 1 0 1 .1 1 .2 1 .2 1 .2 1 .3 1 .2 1 .2 1 .3 1 .2 1 .2 1 .1 1 0 1 0 1 0 1 0 1 0 1 0 1 0 1 0 1 .1 1 0 1 .1 1 .1 1 .1 1 .2 1 .1 1 .3 1 .3 1 .3 1 .4 1 .5 1 .6 1 .7 1 .9 1 .8 1 .9 1 1.1 1 1.1 1 1 1 .8 1 .8 1 .7 1 .5 1 .1 1-.2 1-.4 1-.5 1-.7 1-1 1-1.4 1-1.6 1-1.7 1-1.6 1-1.7 1-1.7 1-1.4 1-1.1 1-1.1 1-.9 1-.5 1 0 1 .2 1 .3 1 .4 1 .5 1 .8 1 1 1 1.1 1 1 1 1 1 1 1 1.1 1 1 1 .5 1 .1 1 0 1-.1 1-.4 1-.5 1-.7 1-.7 1-.7 1-.8 1-1 1-.9 1-.7 1-.7 1-.6 1-.5 1-.5 1-.3 1-.2 1-.2 1-.1 1-.1 1-.1 1-.1 1-.1 1-.1 1-.1 1-.2 1-.1 1-.1 1-.1 1-.2 1-.2 1-.3 1-.2 1-.3 1-.3 1-.3 1-.2 1-.3 1-.2 1-.3 1-.2 1-.1 1-.1 1-.1 1-.1 1 0 1-.1 1 .1 1 .3 1 .5 1 .4 1 .4 1 .6 1 .6 1 .6 1 .6 1 .6 1 .6 1 .6 1 .6 1 .5 1 .3 1 .4 1 .3 1 .3 1 .1 1 0 1-.1 1-.1 1-.1 1-.1 1 0 1-.2 1-.1 1-.1 1-.1 1 0 1 0 1 0 1 0 1 0 1 0 1-.2 1-.3 1-.3 1-.3 1-.3 1-.3 1-.4 1-.3 1-.3 1-.3 1-.3 1-.2 1-.2 1-.1 1 0 1 0 1 0 1 0 1 0 1 0 1 .1 1 0 1 .1 1 .1 1 .1 1 .1 1 .1 1 .2 1 .1 1 .2 1 .1 1 .1 1 .1 1 0 1 .1 1 0 1 .1 1 0 1 .1 1 0 1 .1 1 0 1 .1 1 .1 1 .1 1 .1 1 .1 1 .1 1 .2 1 .1 1 .1 1 .2 1 0 1 .1 1 .1 1 0 1 .1 1 0 1 0 1 0 1 0 1-.1 1-.2 1-.1 1-.1 1-.1 1-.2 1-.1 1-.2 1-.1 1-.2 1-.1 1-.2 1-.2 1-.1 1-.2 1-.2 1-.2 1-.2 1 0 .2 0V184.6H660.8Z"/>
</g>
<text x="800.4" y="120.5" font-size="9.3" fill="#fff" text-anchor="middle" >Sewer</text>
<text x="726.7" y="147.2" font-size="15" fill="#000" text-anchor="middle" >Noise</text>
<text x="909.6" y="113.8" font-size="7.6" fill="#222" text-anchor="middle" >Blocked driveway</text>
<text x="877" y="89.7" font-size="5.8" fill="#111" text-anchor="middle" >Street light condition</text>
<text x="747.1" y="97" font-size="5.8" fill="#fff" text-anchor="middle" >Illegal parking</text>
<text x="742" y="106.2" font-size="5.05" fill="#cfe3f0" text-anchor="middle" >Building/use</text>
<!-- chart d -->
<clipPath id="cd"><path d="M45.8 292.5l1-.4 1-.5 1-.4 1-.4 1-.3 1-.3 1-.1 1-.1 1-.1 1-.1 1 0 1-.1 1 0 1-.1 1 0 1 0 1-.1 1 0 1 0 1 0 1 0 1 0 1-.1 1 0 1 0 1 0 1 0 1 0 1 0 1 0 1 0 1 0 1 0 1 0 1-.1 1 0 1 0 1 0 1 0 1 0 1 0 1-.1 1 0 1 0 1 0 1 0 1-.1 1 0 1 0 1-.1 1 0 1-.1 1-.1 1-.2 1-.2 1-.3 1-.3 1-.3 1-.4 1-.6 1-.6 1-.6 1-.6 1-.7 1-.7 1-.6 1-.5 1-.3 1-.3 1-.2 1-.1 1-.2 1-.1 1-.1 1-.2 1-.1 1 0 1-.1 1-.1 1-.1 1 0 1-.1 1-.1 1-.1 1-.1 1-.1 1-.2 1-.1 1-.2 1-.1 1-.2 1-.1 1-.1 1-.1 1-.1 1-.1 1-.1 1 0 1-.1 1-.1 1 0 1-.1 1 0 1-.1 1 0 1-.1 1 0 1 0 1-.1 1 0 1-.1 1 0 1-.1 1-.1 1-.3 1-.7 1-1.1 1-2.1 1-2.7 1-3 1-3.4 1-3.6 1-4 1-4.1 1-4 1-4 1-4 1-4.1 1-4.1 1-4.1 1-3.7 1-3.6 1-3.2 1-2.1 1-1.4 1-1 1-.2 1 .7 1 1.3 1 2 1 4.4 1 5.2 1 6 1 6.2 1 5.6 1 5.4 1 5 1 4.9 1 4.5 1 3.8 1 3.3 1 2.9 1 2.5 1 2.1 1 1.7 1 1.4 1 1.1 1 .6 1 .4 1 .4 1 .3 1 .2 1 .1 1 .1 1 .1 1 0 1 .1 1 .1 1 .3 1 .5 1 .5 1 .5 1 .5 1 .7 1 .6 1 .6 1 .3 1-.2 1-1.3 1-.1 1 0 1 0 1 0 1 0 1 0 1 .2 1 .3 1 .5 1 .6 1 .6 1 .4 1 .4 1 .4 1 .3 1 .4 1 .3 1 .2 1 .2 1 .1 1 .2 1 .1 1 .1 1 0 1 .1 1 0 1-.1 1 0 1-.1 1 0 1-.1 1-.1 1-.1 1-.1 1-.1 1-.1 1-.2 1-.1 1-.2 1-.2 1-.2 1-.2 1-.2 1-.2 1-.1 1 0 1 0 1 0 1 0 1 0 1 .1 1 .2 1 .2 1 .3 1 .3 1 .4 1 .5 1 .5 1 .4 1 .4 1 .3 1 .2 1 .3 1 .2 1 .1 1 .1 1 0 1 0 1-.2 1-.1 1-.2 1-.2 1-.1 1 0 1 0 1 .1 1 0 1 .1 1 0 1 .1 1 .1 1 .2 1 .2 1 .2 1 .2 1 .3 1 .2 1 .2 1 .2 1 .2 1 .2 1 .2 1 .2 1 .2 1 .2 1 .2 1 .2 1 .2 1 .1 1 .1 1 .1 1 .1 1 .1 1 0 1 .1 1 .1 1 .1 1 .3 1 .7 1 .8 1 1.3 1 2.1 1 2.6 1 3.1 1 3.6 1 4.4 1 4.4 1 3.1 .2 .6L343 327.8l-.2 0-1-.2-1-.2-1-.2-1-.1-1-.2-1 0-1-.1-1-.1-1 0-1 0-1 .1-1 .1-1 .1-1 .2-1 .2-1 .1-1 .1-1 .1-1 .1-1 .1-1 0-1 .1-1 0-1-.1-1-.2-1-.2-1-.2-1-.2-1-.1-1 0-1 0-1 .1-1 .1-1 .1-1 .1-1 .1-1 .1-1 .1-1 .1-1 .1-1 0-1 .1-1 0-1-.1-1-.2-1-.2-1-.2-1-.2-1-.1-1 0-1 0-1 0-1 0-1 0-1 .1-1 .3-1 .6-1 .7-1 .7-1 1-1 1.2-1 1.1-1 .8-1 .6-1 .6-1 .5-1 .1-1 0-1-.2-1-.2-1-.2-1-.3-1-.5-1-.6-1-.6-1-.6-1-.6-1-.6-1-.7-1-.5-1-.5-1-.3-1-.3-1-.3-1-.2-1-.1-1 0-1 .1-1 .2-1 .2-1 .1-1 .2-1 .3-1 .2-1 .3-1 .4-1 .5-1 .6-1 .3-1 .2-1 .1-1 .1-1 .2-1 .2-1 .4-1 .5-1 .6-1 .8-1 .9-1 1-1 1-1 1.1-1 1.1-1 1.1-1 1.1-1 1.1-1 1.1-1 1.1-1 1.2-1 1.1-1 1.2-1 1.1-1 1.1-1 1.1-1 1-1 .9-1 .9-1 .7-1 .6-1 .5-1 .2-1 0-1 .1-1 0-1 0-1 0-1 .1-1 .1-1 .1-1 0-1 .1-1-.1-1 0-1-.1-1-.2-1-.1-1-.5-1-.7-1-.9-1-1-1-1.2-1-1.3-1-1.2-1-.9-1-1-1-1-1-1.3-1-1.6-1-1.7-1-.6-1-.2-1-.3-1-.6-1-.9-1-1.1-1-1.2-1-1.5-1-1.6-1-1.7-1-1.9-1-2.1-1-2.1-1-2.3-1-2.4-1-2.2-1-1.8-1-1.6-1-1.4-1-1.1-1-1.1-1-.9-1-.5-1-.1-1-.2-1 0-1-.1-1-.1-1 0-1 .1-1 .1-1 .2-1 .1-1 .2-1 .1-1 .1-1 .1-1 0-1 .1-1 .1-1 0-1 0-1-.2-1-.6-1-.8-1-1-1-1-1-1.2-1-1.4-1-1.3-1-1.4-1-1.3-1-.5-1 0-1 0-1 0-1 0-1 0-1-.1-1-.1-1-.1-1-.1-1 0-1-.1-1 .3-1 .3-1 .3-1-.1-1 0-1-.2-1-.1-1-.2-1-.1-1-.2-1-.2-1-.2-1-.2-1-.3-1-.2-1-.2-1-.2-1-.1-1-.1-1-.1-1-.1-1-.1-1-.1-1 0-1-.1-1 0-1-.1-1-.1-1 0-1-.1-1 0-1-.1-1 0-1-.1-1 0-1-.1-1 0-1-.1-1 0-1-.1-1 0-1 0-1-.1-1 0-1-.1-1-.1-1 0-1-.1-1-.1-1-.1-1 0-1-.1-1-.1-1-.1-1-.1-1-.1-1-.1-1-.1-1-.1-1-.1-1-.2-1-.1-1-.1-1-.2-1-.2-1-.2-1-.2-1-.2-1-.2-1-.3-1-.3-1-.2-1-.3-1-.3Z"/></clipPath>
<path d="M45.8 292.5l1-.4 1-.5 1-.4 1-.4 1-.3 1-.3 1-.1 1-.1 1-.1 1-.1 1 0 1-.1 1 0 1-.1 1 0 1 0 1-.1 1 0 1 0 1 0 1 0 1 0 1-.1 1 0 1 0 1 0 1 0 1 0 1 0 1 0 1 0 1 0 1 0 1 0 1-.1 1 0 1 0 1 0 1 0 1 0 1 0 1-.1 1 0 1 0 1 0 1 0 1-.1 1 0 1 0 1-.1 1 0 1-.1 1-.1 1-.2 1-.2 1-.3 1-.3 1-.3 1-.4 1-.6 1-.6 1-.6 1-.6 1-.7 1-.7 1-.6 1-.5 1-.3 1-.3 1-.2 1-.1 1-.2 1-.1 1-.1 1-.2 1-.1 1 0 1-.1 1-.1 1-.1 1 0 1-.1 1-.1 1-.1 1-.1 1-.1 1-.2 1-.1 1-.2 1-.1 1-.2 1-.1 1-.1 1-.1 1-.1 1-.1 1-.1 1 0 1-.1 1-.1 1 0 1-.1 1 0 1-.1 1 0 1-.1 1 0 1 0 1-.1 1 0 1-.1 1 0 1-.1 1-.1 1-.3 1-.7 1-1.1 1-2.1 1-2.7 1-3 1-3.4 1-3.6 1-4 1-4.1 1-4 1-4 1-4 1-4.1 1-4.1 1-4.1 1-3.7 1-3.6 1-3.2 1-2.1 1-1.4 1-1 1-.2 1 .7 1 1.3 1 2 1 4.4 1 5.2 1 6 1 6.2 1 5.6 1 5.4 1 5 1 4.9 1 4.5 1 3.8 1 3.3 1 2.9 1 2.5 1 2.1 1 1.7 1 1.4 1 1.1 1 .6 1 .4 1 .4 1 .3 1 .2 1 .1 1 .1 1 .1 1 0 1 .1 1 .1 1 .3 1 .5 1 .5 1 .5 1 .5 1 .7 1 .6 1 .6 1 .3 1-.2 1-1.3 1-.1 1 0 1 0 1 0 1 0 1 0 1 .2 1 .3 1 .5 1 .6 1 .6 1 .4 1 .4 1 .4 1 .3 1 .4 1 .3 1 .2 1 .2 1 .1 1 .2 1 .1 1 .1 1 0 1 .1 1 0 1-.1 1 0 1-.1 1 0 1-.1 1-.1 1-.1 1-.1 1-.1 1-.1 1-.2 1-.1 1-.2 1-.2 1-.2 1-.2 1-.2 1-.2 1-.1 1 0 1 0 1 0 1 0 1 0 1 .1 1 .2 1 .2 1 .3 1 .3 1 .4 1 .5 1 .5 1 .4 1 .4 1 .3 1 .2 1 .3 1 .2 1 .1 1 .1 1 0 1 0 1-.2 1-.1 1-.2 1-.2 1-.1 1 0 1 0 1 .1 1 0 1 .1 1 0 1 .1 1 .1 1 .2 1 .2 1 .2 1 .2 1 .3 1 .2 1 .2 1 .2 1 .2 1 .2 1 .2 1 .2 1 .2 1 .2 1 .2 1 .2 1 .2 1 .1 1 .1 1 .1 1 .1 1 .1 1 0 1 .1 1 .1 1 .1 1 .3 1 .7 1 .8 1 1.3 1 2.1 1 2.6 1 3.1 1 3.6 1 4.4 1 4.4 1 3.1 .2 .6L343 327.8l-.2 0-1-.2-1-.2-1-.2-1-.1-1-.2-1 0-1-.1-1-.1-1 0-1 0-1 .1-1 .1-1 .1-1 .2-1 .2-1 .1-1 .1-1 .1-1 .1-1 .1-1 0-1 .1-1 0-1-.1-1-.2-1-.2-1-.2-1-.2-1-.1-1 0-1 0-1 .1-1 .1-1 .1-1 .1-1 .1-1 .1-1 .1-1 .1-1 .1-1 0-1 .1-1 0-1-.1-1-.2-1-.2-1-.2-1-.2-1-.1-1 0-1 0-1 0-1 0-1 0-1 .1-1 .3-1 .6-1 .7-1 .7-1 1-1 1.2-1 1.1-1 .8-1 .6-1 .6-1 .5-1 .1-1 0-1-.2-1-.2-1-.2-1-.3-1-.5-1-.6-1-.6-1-.6-1-.6-1-.6-1-.7-1-.5-1-.5-1-.3-1-.3-1-.3-1-.2-1-.1-1 0-1 .1-1 .2-1 .2-1 .1-1 .2-1 .3-1 .2-1 .3-1 .4-1 .5-1 .6-1 .3-1 .2-1 .1-1 .1-1 .2-1 .2-1 .4-1 .5-1 .6-1 .8-1 .9-1 1-1 1-1 1.1-1 1.1-1 1.1-1 1.1-1 1.1-1 1.1-1 1.1-1 1.2-1 1.1-1 1.2-1 1.1-1 1.1-1 1.1-1 1-1 .9-1 .9-1 .7-1 .6-1 .5-1 .2-1 0-1 .1-1 0-1 0-1 0-1 .1-1 .1-1 .1-1 0-1 .1-1-.1-1 0-1-.1-1-.2-1-.1-1-.5-1-.7-1-.9-1-1-1-1.2-1-1.3-1-1.2-1-.9-1-1-1-1-1-1.3-1-1.6-1-1.7-1-.6-1-.2-1-.3-1-.6-1-.9-1-1.1-1-1.2-1-1.5-1-1.6-1-1.7-1-1.9-1-2.1-1-2.1-1-2.3-1-2.4-1-2.2-1-1.8-1-1.6-1-1.4-1-1.1-1-1.1-1-.9-1-.5-1-.1-1-.2-1 0-1-.1-1-.1-1 0-1 .1-1 .1-1 .2-1 .1-1 .2-1 .1-1 .1-1 .1-1 0-1 .1-1 .1-1 0-1 0-1-.2-1-.6-1-.8-1-1-1-1-1-1.2-1-1.4-1-1.3-1-1.4-1-1.3-1-.5-1 0-1 0-1 0-1 0-1 0-1-.1-1-.1-1-.1-1-.1-1 0-1-.1-1 .3-1 .3-1 .3-1-.1-1 0-1-.2-1-.1-1-.2-1-.1-1-.2-1-.2-1-.2-1-.2-1-.3-1-.2-1-.2-1-.2-1-.1-1-.1-1-.1-1-.1-1-.1-1-.1-1 0-1-.1-1 0-1-.1-1-.1-1 0-1-.1-1 0-1-.1-1 0-1-.1-1 0-1-.1-1 0-1-.1-1 0-1-.1-1 0-1 0-1-.1-1 0-1-.1-1-.1-1 0-1-.1-1-.1-1-.1-1 0-1-.1-1-.1-1-.1-1-.1-1-.1-1-.1-1-.1-1-.1-1-.1-1-.2-1-.1-1-.1-1-.2-1-.2-1-.2-1-.2-1-.2-1-.2-1-.3-1-.3-1-.2-1-.3-1-.3Z" fill="#cab2d6" stroke="#c2a57c" stroke-opacity=".55" stroke-width="2.6" stroke-dasharray="3.5 2" stroke-linejoin="round" paint-order="stroke"/>
<g clip-path="url(#cd)">
<path fill="#ff7f00" d="M45.8 292.5l1-.4 1-.5 1-.4 1-.4 1-.3 1-.3 1-.1 1-.1 1-.1 1-.1 1 0 1-.1 1 0 1-.1 1 0 1 0 1-.1 1 0 1 0 1 0 1 0 1 0 1-.1 1 0 1 0 1 0 1 0 1 0 1 0 1 0 1 0 1 0 1 0 1 0 1-.1 1 0 1 0 1 0 1 0 1 0 1 0 1-.1 1 0 1 0 1 0 1 0 1-.1 1 0 1 0 1-.1 1 0 1-.1 1-.1 1-.2 1-.2 1-.3 1-.3 1-.3 1-.4 1-.6 1-.6 1-.6 1-.6 1-.7 1-.7 1-.6 1-.5 1-.3 1-.3 1-.2 1-.1 1-.2 1-.1 1-.1 1-.2 1-.1 1 0 1-.1 1-.1 1-.1 1 0 1-.1 1-.1 1-.1 1-.1 1-.1 1-.2 1-.1 1-.2 1-.1 1-.2 1-.1 1-.1 1-.1 1-.1 1-.1 1-.1 1 0 1-.1 1-.1 1 0 1-.1 1 0 1-.1 1 0 1-.1 1 0 1 0 1-.1 1 0 1-.1 1 0 1-.1 1-.1 1-.3 1-.7 1-1.1 1-2.1 1-2.7 1-3 1-3.4 1-3.6 1-4 1-4.1 1-4 1-4 1-4 1-4.1 1-4.1 1-4.1 1-3.7 1-3.6 1-3.2 1-2.1 1-1.4 1-1 1-.2 1 .7 1 1.3 1 2 1 4.4 1 5.2 1 6 1 6.2 1 5.6 1 5.4 1 5 1 4.9 1 4.5 1 3.8 1 3.3 1 2.9 1 2.5 1 2.1 1 1.7 1 1.4 1 1.1 1 .6 1 .4 1 .4 1 .3 1 .2 1 .1 1 .1 1 .1 1 0 1 .1 1 .1 1 .3 1 .5 1 .5 1 .5 1 .5 1 .7 1 .9 1 1.4 1 1.6 1 1.1 1-.2 1 .8 1 1 1 .8 1 .7 1 .5 1 .1 1 .3 1 .5 1 .6 1 .6 1 .5 1 .3 1 .2 1 .2 1 .2 1 .2 1 .3 1 .3 1 .2 1 .3 1 .3 1 .3 1 .3 1 .2 1 .1 1 .1 1 .1 1 .1 1 .1 1 0 1 .1 1 0 1 .1 1 0 1 0 1-.1 1-.1 1-.2 1-.1 1-.3 1-.3 1-.2 1-.3 1-.3 1-.2 1-.1 1-.1 1-.1 1-.1 1 0 1 0 1 .1 1 .3 1 .3 1 .3 1 .4 1 .4 1 .5 1 .5 1 .4 1 .2 1 .3 1 .2 1 .2 1 .1 1 .1 1 0 1-.1 1-.2 1-.1 1-.2 1-.2 1-.1 1 0 1 0 1 0 1 0 1-.1 1-.2 1-.1 1-.2 1 0 1 0 1 0 1 .1 1 0 1 0 1 0 1 0 1-.1 1 0 1-.1 1-.1 1 0 1 0 1 0 1 0 1 0 1 0 1 0 1 0 1-.1 1-.1 1-.1 1-.1 1 0 1 .1 1 .3 1 .6 1 .8 1 1.3 1 2.1 1 2.3 1 2.9 1 3.1 1 4 1 3.8 1 2.2 .2 .2V360.2H45.8Z"/>
<path fill="#fdbf6f" d="M45.8 292.5l1-.4 1-.5 1-.4 1-.4 1-.3 1-.3 1-.1 1-.1 1-.1 1-.1 1 0 1-.1 1 0 1-.1 1 0 1 0 1-.1 1 0 1 0 1 0 1 0 1 0 1-.1 1 0 1 0 1 0 1 0 1 0 1 0 1 0 1 0 1 0 1 0 1 0 1-.1 1 0 1 0 1 0 1 0 1 0 1 0 1-.1 1 0 1 0 1 0 1 0 1-.1 1 0 1 0 1-.1 1 0 1-.1 1-.1 1-.2 1-.2 1-.3 1-.3 1-.3 1-.4 1-.6 1-.6 1-.6 1-.6 1-.7 1-.7 1-.6 1-.5 1-.3 1-.3 1-.2 1-.1 1-.2 1-.1 1-.1 1-.2 1-.1 1 0 1-.1 1-.1 1-.1 1 0 1-.1 1-.1 1-.1 1-.1 1-.1 1-.2 1-.1 1-.2 1-.1 1-.2 1-.1 1-.1 1-.1 1-.1 1-.1 1-.1 1 0 1-.1 1-.1 1 0 1-.1 1 0 1-.1 1 0 1-.1 1 0 1 0 1-.1 1 0 1-.1 1 0 1-.1 1-.1 1 .1 1 .4 1 .5 1 .8 1 .9 1 .9 1 1.1 1 1.2 1 1.5 1 2.1 1 2.6 1 2.5 1 2.4 1 2.4 1 2.4 1 2.4 1 2.4 1 2.4 1 2.4 1 2.3 1 2.3 1 2 1 1.9 1 1 1 .1 1-1.1 1-2.1 1-2.6 1-2.8 1-2.8 1-2.7 1-2.1 1-1.6 1-1 1-.8 1-.6 1-.4 1-.2 1-.1 1-.1 1 0 1 .1 1 .1 1 .2 1 .1 1 .2 1 .2 1 .1 1 .2 1 .1 1 .2 1 .2 1 .2 1 .2 1 .2 1 .3 1 .2 1 .3 1 .3 1 .2 1 .3 1 .2 1 .3 1 .2 1 .3 1 .2 1 .3 1 .2 1 .2 1 .2 1 .2 1 .2 1 .2 1 .1 1 .2 1 .1 1 .2 1 .1 1 .2 1 .1 1 .2 1 .2 1 .2 1 .2 1 .2 1 .2 1 .2 1 .2 1 .3 1 .2 1 .2 1 .2 1 .2 1 .1 1 .1 1 .1 1 .1 1 .1 1 0 1 0 1 0 1 0 1 0 1-.1 1-.1 1 0 1-.1 1-.1 1-.1 1-.2 1-.1 1 0 1 0 1 .1 1 .1 1 .2 1 .1 1 .3 1 .3 1 .4 1 .4 1 .3 1 .3 1 .3 1 .2 1 .2 1 .1 1 .2 1 .1 1 .1 1 0 1 .1 1 0 1 0 1 0 1 0 1 0 1 0 1 0 1 0 1 0 1 0 1-.1 1 0 1-.1 1-.1 1 0 1 0 1-.1 1 0 1 0 1 0 1 0 1-.1 1 0 1-.1 1 0 1-.1 1 0 1-.1 1-.1 1-.1 1-.1 1-.2 1-.1 1-.1 1-.1 1-.2 1-.1 1-.1 1-.1 1 0 1 0 1 .4 1 .8 1 .9 1 1.5 1 1.8 1 1.9 1 2.2 1 2.6 1 3.3 1 2.2 .2 .4V360.2H45.8Z"/>
<path fill="#33a02c" d="M45.8 292.5l1-.4 1-.5 1-.4 1-.4 1-.3 1-.3 1-.1 1-.1 1-.1 1-.1 1 0 1-.1 1 0 1-.1 1 0 1 0 1-.1 1 0 1 0 1 0 1 0 1 0 1-.1 1 0 1 0 1 0 1 0 1 0 1 0 1 0 1 0 1 0 1 0 1 0 1-.1 1 0 1 0 1 0 1 0 1 0 1 0 1-.1 1 0 1 0 1 0 1 0 1-.1 1 0 1 0 1-.1 1 0 1-.1 1-.1 1-.2 1-.1 1-.2 1-.1 1-.1 1 0 1 0 1-.1 1 0 1 0 1 0 1 0 1 0 1 0 1 0 1 0 1 0 1 0 1 0 1-.1 1-.2 1 0 1 0 1 0 1 0 1 0 1 0 1 0 1 0 1-.1 1 0 1 0 1 0 1-.1 1 0 1-.1 1-.2 1-.1 1-.2 1-.2 1-.2 1-.1 1-.2 1-.2 1-.2 1-.2 1-.2 1-.1 1-.1 1-.1 1-.1 1-.1 1 0 1-.1 1 0 1 0 1 0 1 0 1 0 1 0 1 0 1 0 1 0 1 .1 1 0 1 0 1 .1 1 .4 1 2.2 1 2.4 1 2.4 1 2.5 1 2.4 1 2.4 1 2.4 1 2.4 1 2.4 1 2.4 1 2.5 1 2.3 1 2.1 1 1.7 1 1.3 1 .9 1 .3 1 0 1-.8 1-1.6 1-2.5 1-2.7 1-2.8 1-2.6 1-2 1-1.6 1-1.1 1-.8 1-.4 1-.2 1-.2 1-.1 1 .3 1 .1 1 .2 1 .1 1 0 1 .1 1 .1 1 .1 1 .1 1 .1 1 .2 1 .1 1 .1 1 .2 1 .1 1 .1 1 .2 1 .1 1 .2 1 .1 1 .2 1 .2 1 .1 1 .2 1 .2 1 .2 1 .2 1 .1 1 .2 1 .1 1 .2 1 .1 1 .2 1 .1 1 .2 1 .1 1 .1 1 .1 1 .2 1 .1 1 .1 1 .1 1 .2 1 .1 1 .2 1 .2 1 .1 1 .2 1 .1 1 .1 1 .2 1 .1 1 .2 1 0 1 .1 1 0 1 .1 1 0 1 0 1 0 1 0 1 0 1 0 1 0 1-.1 1-.1 1 0 1-.1 1-.1 1-.1 1-.2 1-.1 1 0 1 0 1 .1 1 .1 1 .2 1 .1 1 .3 1 .3 1 .4 1 .4 1 .3 1 .3 1 .3 1 .2 1 .2 1 .1 1 .2 1 .1 1 .1 1 0 1 .1 1 0 1 0 1 0 1 0 1 0 1 0 1 0 1 0 1 0 1 0 1-.1 1 0 1-.1 1-.1 1 0 1 0 1-.1 1 0 1 0 1 0 1 0 1-.1 1 0 1-.1 1 0 1-.1 1 0 1-.1 1-.1 1-.1 1-.1 1-.2 1-.1 1-.1 1-.1 1-.2 1-.1 1-.1 1-.1 1 0 1 0 1 .4 1 .8 1 .9 1 1.4 1 1.8 1 1.9 1 2.1 1 2.6 1 3.1 1 2.1 .2 .4V360.2H45.8Z"/>
<path fill="#b2df8a" d="M45.8 293l1 .1 1 .1 1 0 1 .1 1 .1 1 0 1 .1 1 0 1 .1 1 0 1 .1 1 0 1 0 1 .1 1 0 1 0 1 0 1 .1 1 0 1 0 1 0 1 .1 1 0 1 0 1 0 1 0 1 0 1 0 1 0 1 0 1 0 1-.1 1 0 1 0 1 0 1-.1 1 0 1 0 1-.1 1 0 1 0 1 0 1 0 1 0 1 0 1 0 1 0 1 0 1 0 1 0 1 0 1 0 1 0 1 0 1 0 1 0 1 0 1 .1 1 0 1 .1 1 .1 1 .1 1 .1 1 .1 1 .1 1 0 1 .1 1 0 1 .1 1 0 1 .1 1 .1 1 .1 1 .1 1 0 1 0 1-.1 1 0 1-.1 1-.1 1 0 1-.2 1-.2 1-.3 1-.4 1-.3 1-.5 1-.7 1-.8 1-.6 1-.4 1-.3 1-.3 1-.2 1-.2 1-.2 1-.1 1 0 1-.1 1 0 1 0 1 0 1-.1 1 0 1 0 1 0 1 .1 1 0 1 0 1 .1 1 0 1 .1 1 .2 1 .3 1 .3 1 .5 1 .7 1 1.1 1 1.5 1 1.9 1 2.2 1 2.3 1 2.5 1 2.4 1 2.4 1 2.4 1 2.4 1 2.3 1 2.2 1 1.9 1 1.5 1 1.3 1 1 1 .8 1 .4 1 .4 1 .2 1 0 1-.5 1-.9 1-1.9 1-2.3 1-2.6 1-2.6 1-2.3 1-2.1 1-1.3 1-1 1-.5 1-.3 1-.2 1 0 1 .1 1 .2 1 .3 1 .3 1 .4 1 .3 1 .3 1 .2 1 .2 1 .1 1 .1 1 .1 1 .1 1 .1 1 .1 1 .1 1 .2 1 .1 1 .2 1 .2 1 .1 1 .1 1 .2 1 .1 1 .1 1 .1 1 .1 1 .1 1 0 1 .1 1 .1 1 .1 1 .1 1 .1 1 0 1 0 1 0 1 0 1 0 1 0 1 0 1 0 1 0 1 0 1 0 1 0 1 0 1 0 1 0 1 .1 1 .1 1 .1 1 .1 1 .1 1 0 1 0 1 0 1 0 1 0 1 0 1 0 1 0 1 0 1 0 1-.1 1-.1 1-.1 1-.1 1-.1 1-.1 1-.1 1-.1 1-.1 1-.1 1 .1 1 0 1 .2 1 .1 1 .2 1 .2 1 .4 1 .4 1 .4 1 .2 1 .2 1 .1 1 .1 1 0 1 .1 1 .1 1 0 1 .1 1 .1 1 0 1 0 1 0 1 0 1 0 1-.1 1-.1 1 0 1-.1 1 0 1-.1 1-.1 1 0 1-.1 1 0 1 0 1-.1 1 0 1 0 1 0 1-.1 1 0 1 0 1-.1 1 0 1-.1 1-.1 1-.1 1-.1 1-.1 1-.1 1-.1 1-.1 1-.1 1-.1 1-.1 1-.1 1-.1 1-.1 1-.1 1-.1 1 .1 1 .4 1 .8 1 .9 1 1.4 1 1.6 1 1.7 1 2 1 2.3 1 2.9 1 2.1 .2 .3V360.2H45.8Z"/>
<path fill="#e31a1c" d="M45.8 293.3l1 .3 1 .3 1 .2 1 .3 1 .3 1 .2 1 .2 1 .2 1 .2 1 .2 1 .2 1 .1 1 .1 1 .2 1 .1 1 .1 1 .1 1 .1 1 .1 1 .1 1 .1 1 .1 1 .1 1 0 1 .1 1 .1 1 .1 1 0 1 .1 1 .1 1 0 1 .1 1 0 1 0 1 .1 1 0 1 .1 1 0 1 .1 1 0 1 .1 1 0 1 .1 1 0 1 .1 1 0 1 .1 1 .1 1 0 1 .1 1 0 1 .1 1 .1 1 .1 1 .1 1 .1 1 .1 1 .2 1 .2 1 .2 1 .3 1 .2 1 .2 1 .2 1 .2 1 .1 1 .2 1 .1 1 .2 1 0 1 .1 1-.3 1-.3 1-.3 1 .1 1 0 1 .1 1 .1 1 .1 1 .1 1 0 1 0 1-.1 1-.2 1-.2 1-.4 1-.9 1-.9 1-.7 1-.8 1-.6 1-.5 1-.2 1-.2 1-.1 1-.1 1 0 1-.1 1-.1 1 0 1-.1 1 0 1-.1 1 0 1 0 1 0 1 .1 1 .1 1 0 1 .1 1 .2 1 .4 1 .4 1 .4 1 .4 1 .3 1 .4 1 1 1 1.2 1 1.5 1 1.7 1 2 1 2 1 2.2 1 2.2 1 2.2 1 2.2 1 2.3 1 2.2 1 1.9 1 1.7 1 1.5 1 1.3 1 1.1 1 .9 1 .9 1 .3 1-.1 1-.2 1-1.1 1-1.9 1-2.6 1-2.6 1-2.5 1-1.9 1-1.5 1-1 1-.7 1-.4 1-.1 1-.2 1 0 1 .1 1 .2 1 .2 1 0 1 .1 1 .1 1 0 1 .1 1 .1 1 0 1 .1 1 .1 1 .1 1 0 1 .1 1 .1 1 .1 1 .1 1 .1 1 .1 1 .1 1 .1 1 .1 1 .1 1 .1 1 .1 1 .1 1 0 1 0 1 0 1 0 1 0 1 0 1 0 1 0 1 0 1 0 1-.1 1-.1 1-.1 1-.1 1-.1 1 0 1-.1 1-.1 1 0 1-.1 1 0 1 0 1 0 1 .1 1 0 1 .1 1 0 1 .1 1 .1 1 0 1 .1 1 .1 1 .1 1 .1 1 0 1 0 1 0 1 0 1 0 1 0 1 0 1 0 1 0 1 0 1 0 1 0 1 0 1 0 1 0 1 .1 1 .1 1 0 1 .1 1 .1 1 .1 1 .1 1 0 1 .1 1 0 1 .1 1 0 1 .1 1 0 1 .1 1 .1 1 0 1 .1 1 0 1 0 1 0 1 0 1 0 1 0 1 0 1 0 1 0 1 0 1-.1 1-.1 1 0 1-.1 1 0 1-.1 1 0 1-.1 1 0 1-.1 1 0 1-.1 1 0 1-.1 1-.1 1 0 1-.1 1 0 1 0 1-.1 1 0 1 0 1 0 1-.1 1 0 1 .1 1 .1 1 .1 1 .2 1 .2 1 .3 1 .5 1 .6 1 .8 1 .9 1 1 1 1.1 1 1.3 1 1.3 1 1.6 1 1.3 .2 .3V360.2H45.8Z"/>
<path fill="#6a3d9a" d="M45.8 293.3l1 .3 1 .3 1 .2 1 .3 1 .3 1 .2 1 .2 1 .2 1 .2 1 .2 1 .2 1 .1 1 .1 1 .2 1 .1 1 .1 1 .1 1 .1 1 .1 1 .1 1 .1 1 .1 1 .1 1 0 1 .1 1 .1 1 .1 1 0 1 .1 1 .1 1 0 1 .1 1 0 1 0 1 .1 1 0 1 .1 1 0 1 .1 1 0 1 .1 1 0 1 .1 1 0 1 .1 1 0 1 .1 1 .1 1 0 1 .1 1 0 1 .1 1 .1 1 .1 1 .1 1 .1 1 .1 1 .2 1 .2 1 .2 1 .3 1 .2 1 .2 1 .2 1 .2 1 .1 1 .2 1 .1 1 .2 1 0 1 .1 1-.3 1-.3 1-.3 1 .1 1 0 1 .1 1 .1 1 .1 1 .1 1 0 1 0 1 0 1 0 1 0 1 .5 1 1.3 1 1.4 1 1.3 1 1.4 1 1.2 1 1 1 1 1 .8 1 .6 1 .2 1 0 1 0 1-.1 1-.1 1 0 1-.1 1-.1 1-.1 1-.2 1-.1 1-.2 1-.1 1-.1 1 0 1 .1 1 .1 1 0 1 .2 1 .1 1 .5 1 .9 1 1.1 1 1.1 1 1.4 1 1.6 1 1.8 1 2.2 1 2.4 1 2.3 1 2.1 1 2.1 1 1.9 1 1.7 1 1.6 1 1.5 1 1.2 1 1.1 1 .9 1 .6 1 .3 1 .2 1 .1 1-.4 1-.8 1-1 1-1.2 1-2.1 1-2.2 1-1.6 1-1.5 1-1.7 1-1.4 1-1.2 1-1 1-.9 1-.7 1-.5 1-.5 1-.3 1-.2 1-.2 1-.1 1-.2 1-.1 1-.1 1-.1 1-.1 1-.1 1-.1 1-.1 1-.1 1-.1 1-.1 1-.1 1 0 1-.1 1-.1 1-.1 1 0 1-.1 1-.1 1-.1 1 0 1-.1 1-.1 1 0 1-.1 1 0 1-.1 1 0 1-.1 1 0 1-.2 1-.2 1-.3 1-.2 1-.2 1-.2 1-.1 1-.2 1-.1 1-.1 1 0 1-.1 1-.1 1-.1 1-.1 1-.1 1-.1 1-.1 1 0 1 0 1 0 1 0 1 0 1 0 1 0 1 0 1 0 1 0 1 0 1 0 1 0 1 0 1 0 1 0 1 0 1 0 1 0 1 0 1 0 1 0 1 0 1 0 1 0 1 0 1 0 1 0 1 0 1 0 1 0 1 .1 1 0 1 0 1 .1 1 0 1 .1 1 0 1 .1 1 .1 1 0 1 0 1 0 1 0 1 0 1 0 1 0 1 0 1 0 1 0 1-.1 1-.1 1 0 1-.1 1 0 1-.1 1 0 1-.1 1 0 1-.1 1 0 1-.1 1-.1 1 0 1-.1 1 0 1-.1 1 0 1 0 1 .1 1 0 1 .1 1 .1 1 .1 1 .1 1 .1 1 .2 1 .2 1 .2 1 .3 1 .3 1 .5 1 .7 1 .7 1 .8 1 .8 1 .9 1 .9 1 1.1 1 1.1 1 1.1 .2 .3V360.2H45.8Z"/>
<path fill="#1f78b4" d="M45.8 293.3l1 .3 1 .3 1 .2 1 .3 1 .3 1 .2 1 .2 1 .2 1 .2 1 .2 1 .2 1 .1 1 .1 1 .2 1 .1 1 .1 1 .1 1 .1 1 .1 1 .1 1 .1 1 .1 1 .1 1 0 1 .1 1 .1 1 .1 1 0 1 .1 1 .1 1 0 1 .1 1 0 1 0 1 .1 1 0 1 .1 1 0 1 .1 1 0 1 .1 1 0 1 .1 1 0 1 .1 1 0 1 .1 1 .1 1 0 1 .1 1 0 1 .1 1 .1 1 .1 1 .1 1 .1 1 .1 1 .2 1 .2 1 .2 1 .3 1 .2 1 .2 1 .2 1 .2 1 .1 1 .2 1 .1 1 .2 1 0 1 .1 1-.3 1-.3 1-.3 1 .1 1 0 1 .1 1 .1 1 .1 1 .1 1 0 1 0 1 0 1 0 1 0 1 .5 1 1.3 1 1.4 1 1.3 1 1.4 1 1.2 1 1 1 1 1 .8 1 .6 1 .2 1 0 1 0 1-.1 1-.1 1 0 1-.1 1-.1 1-.1 1-.2 1-.1 1-.2 1-.1 1-.1 1 0 1 .1 1 .1 1 0 1 .2 1 .1 1 .5 1 .9 1 1.1 1 1.1 1 1.4 1 1.6 1 1.8 1 2.2 1 2.4 1 2.3 1 2.1 1 2.1 1 1.9 1 1.7 1 1.6 1 1.5 1 1.2 1 1.1 1 .9 1 .6 1 .3 1 .2 1 .1 1-.4 1-.8 1-1 1-1.2 1-2.1 1-1.8 1-1.3 1-1.2 1-1.4 1-1.3 1-1 1-1 1-.8 1-.7 1-.6 1-.4 1-.3 1-.2 1-.2 1-.1 1-.1 1 0 1-.1 1-.1 1 0 1-.1 1-.1 1-.1 1-.1 1-.1 1-.1 1-.1 1 0 1-.1 1-.1 1-.1 1 0 1-.1 1-.1 1-.1 1 0 1-.1 1-.1 1-.1 1-.1 1-.1 1-.2 1-.1 1-.2 1-.1 1-.3 1-.2 1-.3 1-.4 1-.3 1-.2 1-.2 1-.2 1-.2 1-.1 1-.2 1-.1 1-.1 1-.2 1-.1 1-.1 1-.2 1-.1 1 0 1-.1 1 0 1 0 1 0 1 0 1 0 1 0 1 0 1 0 1 0 1 0 1 0 1 0 1 0 1 0 1 0 1 0 1 0 1 0 1 0 1 0 1 0 1 0 1 0 1 0 1 0 1 0 1 0 1 0 1 0 1 0 1 .1 1 0 1 0 1 .1 1 .1 1 0 1 .1 1 0 1 .1 1 0 1 0 1 0 1 0 1 0 1 0 1 0 1-.1 1 0 1-.1 1 0 1-.1 1-.1 1 0 1-.1 1 0 1-.1 1 0 1-.1 1 0 1-.1 1-.1 1 0 1-.1 1-.1 1 0 1 0 1 0 1 0 1 .1 1 0 1 .1 1 .1 1 .1 1 .2 1 .1 1 .2 1 .2 1 .2 1 .4 1 .5 1 .6 1 .7 1 .8 1 .9 1 .8 1 1 1 1 1 1.1 1 1.1 .2 .3V360.2H45.8Z"/>
<path fill="#a6cee3" d="M45.8 293.3l1 .3 1 .3 1 .2 1 .3 1 .3 1 .2 1 .2 1 .2 1 .2 1 .2 1 .2 1 .1 1 .1 1 .2 1 .1 1 .1 1 .1 1 .1 1 .1 1 .1 1 .1 1 .1 1 .1 1 0 1 .1 1 .1 1 .1 1 0 1 .1 1 .1 1 0 1 .1 1 0 1 0 1 .1 1 0 1 .1 1 0 1 .1 1 0 1 .1 1 0 1 .1 1 0 1 .1 1 0 1 .1 1 .1 1 0 1 .1 1 0 1 .1 1 .1 1 .1 1 .1 1 .1 1 .1 1 .2 1 .2 1 .2 1 .3 1 .2 1 .2 1 .2 1 .2 1 .1 1 .2 1 .1 1 .2 1 0 1 .1 1-.3 1-.3 1-.3 1 .1 1 0 1 .1 1 .1 1 .1 1 .1 1 0 1 0 1 0 1 0 1 0 1 .5 1 1.3 1 1.4 1 1.3 1 1.4 1 1.2 1 1 1 1 1 .8 1 .6 1 .2 1 0 1 0 1-.1 1-.1 1 0 1-.1 1-.1 1-.1 1-.2 1-.1 1-.2 1-.1 1-.1 1 0 1 .1 1 .1 1 0 1 .2 1 .1 1 .5 1 .9 1 1.1 1 1.1 1 1.4 1 1.6 1 1.8 1 2.2 1 2.4 1 2.3 1 2.1 1 2.1 1 1.9 1 1.7 1 1.6 1 1.5 1 1.2 1 1.1 1 .9 1 .6 1 .3 1 .2 1 .6 1 1.7 1 1.2 1 .4 1-.6 1-1.2 1-1.2 1-.9 1-.9 1-.7 1-.6 1-.5 1-.4 1-.3 1-.3 1-.1 1-.2 1-.1 1 0 1 0 1 0 1 0 1 0 1 0 1 0 1 0 1 0 1 0 1 .1 1 .3 1 .2 1 .1 1 0 1 .1 1 0 1 0 1-.2 1-.4 1-.5 1-.5 1-.4 1-.4 1-.3 1-.5 1-.5 1-.6 1-.6 1-.6 1-.6 1-.4 1-.4 1-.3 1-.3 1-.2 1-.2 1-.2 1-.1 1-.2 1-.1 1-.1 1-.2 1-.1 1-.2 1-.1 1-.2 1-.2 1-.2 1-.3 1-.3 1-.2 1-.3 1-.2 1-.2 1-.2 1-.2 1-.1 1 0 1 0 1 .2 1 .2 1 .2 1 .3 1 .3 1 .1 1 .2 1 .1 1 .1 1 .1 1 .1 1 .1 1 0 1-.2 1-.2 1-.3 1-.3 1-.4 1-.4 1-.6 1-.5 1-.5 1-.5 1-.5 1-.6 1-.4 1-.3 1 0 1 0 1 0 1 0 1 0 1 0 1 0 1 0 1 .1 1 0 1 .1 1 .1 1 0 1 0 1 0 1 0 1-.1 1-.1 1-.1 1 0 1 0 1 0 1 0 1 0 1 0 1 0 1 0 1 0 1 .1 1 0 1 .1 1 .1 1 0 1 0 1 0 1 0 1 0 1 0 1 0 1 0 1 0 1 0 1-.1 1-.1 1-.1 1 0 1 .2 1 .3 1 .4 1 .4 1 .5 1 .7 1 .6 1 .7 1 .7 .2 .2V360.2H45.8Z"/>
<path fill="#fb9a99" d="M45.8 293.3l1 .3 1 .3 1 .2 1 .3 1 .3 1 .2 1 .2 1 .2 1 .2 1 .2 1 .2 1 .1 1 .1 1 .2 1 .1 1 .1 1 .1 1 .1 1 .1 1 .1 1 .1 1 .1 1 .1 1 0 1 .1 1 .1 1 .1 1 0 1 .1 1 .1 1 0 1 .1 1 0 1 0 1 .1 1 0 1 .1 1 0 1 .1 1 0 1 .1 1 0 1 .1 1 0 1 .1 1 0 1 .1 1 .1 1 0 1 .1 1 0 1 .1 1 .1 1 .1 1 .1 1 .1 1 .1 1 .2 1 .2 1 .2 1 .3 1 .2 1 .2 1 .2 1 .2 1 .1 1 .2 1 .1 1 .2 1 0 1 .1 1-.3 1-.3 1-.3 1 .1 1 0 1 .1 1 .1 1 .1 1 .1 1 0 1 0 1 0 1 0 1 0 1 .5 1 1.3 1 1.4 1 1.3 1 1.4 1 1.2 1 1 1 1 1 .8 1 .6 1 .2 1 0 1 0 1-.1 1-.1 1 0 1-.1 1-.1 1-.1 1-.2 1-.1 1-.2 1-.1 1-.1 1 0 1 .1 1 .1 1 0 1 .2 1 .1 1 .5 1 .9 1 1.1 1 1.1 1 1.4 1 1.6 1 1.8 1 2.2 1 2.4 1 2.3 1 2.1 1 2.1 1 1.9 1 1.7 1 1.6 1 1.5 1 1.2 1 1.1 1 .9 1 .6 1 .3 1 .2 1 .6 1 1.7 1 1.6 1 1.3 1 1 1 1 1 .9 1 1.2 1 1.3 1 1.2 1 1 1 .9 1 .7 1 .5 1 .1 1 .2 1 .1 1 0 1 .1 1-.1 1 0 1-.1 1-.1 1-.1 1 0 1 0 1 0 1-.1 1 0 1-.2 1-.5 1-.6 1-.7 1-.9 1-.9 1-1 1-1.1 1-1.1 1-1.1 1-1.2 1-1.1 1-1.2 1-1.1 1-1.1 1-1.1 1-1.1 1-1.1 1-1.1 1-1.1 1-1 1-1 1-.9 1-.8 1-.6 1-.5 1-.4 1-.2 1-.2 1-.1 1-.1 1-.2 1-.3 1-.7 1-.7 1-.6 1-.2 1-.2 1-.3 1-.3 1-.2 1-.3 1-.2 1-.2 1-.1 1 .1 1 0 1 .1 1 .1 1 .2 1 .2 1 .3 1 .2 1 .2 1 .2 1 .1 1 .2 1 .1 1 .1 1 .1 1 0 1 0 1-.1 1-.2 1-.3 1-.4 1-.3 1-.5 1-.5 1-.5 1-.6 1-.5 1-.5 1-.5 1-.4 1-.3 1 0 1 0 1 0 1 0 1 0 1 0 1 0 1 0 1 0 1 .1 1 .1 1 0 1 .1 1 0 1 0 1-.1 1-.1 1 0 1-.1 1 0 1 0 1 0 1 0 1 0 1 0 1 0 1 0 1 0 1 0 1 .1 1 .1 1 0 1 .1 1 0 1 0 1 0 1 0 1 0 1 0 1 0 1 0 1-.1 1-.1 1-.1 1 0 1 0 1 .1 1 .3 1 .3 1 .4 1 .5 1 .6 1 .5 1 .6 1 .6 .2 .1V360.2H45.8Z"/>
</g>
<text x="181.3" y="276.7" font-size="11.4" fill="#000" text-anchor="middle" >UKR</text>
<text x="150" y="306.3" font-size="9.2" fill="#fff" text-anchor="middle" >BOL</text>
<text x="212" y="332.5" font-size="8.6" fill="#fff" text-anchor="middle" >MDA</text>
<text x="207.3" y="348.7" font-size="9.1" fill="#000" text-anchor="middle" >KGZ</text>
<text x="276" y="298.3" font-size="4.1" fill="#555" text-anchor="middle" >STP</text>
<text x="157.9" y="294.7" font-size="4.4" fill="#33471c" text-anchor="middle" >EGY</text>
<text x="124.2" y="293" font-size="4.5" fill="#c8e8a8" text-anchor="middle" >SWZ</text>
<!-- chart e -->
<clipPath id="ce"><path d="M352.5 356.7l1-.2 1-.1 1-.1 1-.1 1-.1 1-.1 1 0 1 0 1 0 1 0 1 0 1 0 1 0 1 0 1 0 1 0 1 0 1 0 1 0 1 0 1 0 1 0 1 0 1 0 1 0 1 0 1 0 1 0 1 .1 1 0 1 0 1 0 1 0 1 0 1 0 1 .1 1 0 1 0 1 0 1 0 1 0 1 0 1 0 1 0 1 0 1 0 1 0 1 0 1 0 1 0 1 0 1-.1 1-.1 1-.2 1-.2 1-.2 1-.3 1-.3 1-.4 1-.7 1-.7 1-.8 1-.7 1-.7 1-.7 1-.7 1-.7 1-.6 1-.6 1-.5 1-.4 1-.3 1-.3 1-.2 1-.2 1-.2 1-.1 1 0 1 .1 1 .1 1 .1 1 .1 1 .1 1 0 1-.1 1-.5 1-.6 1-1 1-1.7 1-1.9 1-2.1 1-2.1 1-1.5 1-1.2 1-1 1-.5 1-.3 1-.2 1-.1 1-.1 1-.1 1 .1 1 0 1 .1 1 0 1 .1 1 .1 1 0 1 .1 1 0 1 0 1 0 1 0 1 0 1 0 1 0 1 0 1-.1 1-1.1 1-1.9 1-2.6 1-5.3 1-6.2 1-7.1 1-7.1 1-7.5 1-8 1-8.2 1-7.9 1-6.7 1-6.2 1-6.1 1-5.7 1-5.4 1-5.2 1-3.8 1-2.3 1-1.9 1-.8 1 .4 1 1.3 1 2.1 1 3.6 1 5.8 1 6.3 1 6.9 1 6.5 1 6.2 1 4.9 1 4.2 1 3 1 2.1 1 1.7 1 1.4 1 1.2 1 1.1 1 .9 1 .9 1 .9 1 1 1 .7 1 .2 1-.1 1-.2 1-.2 1-.1 1-.2 1 0 1 .6 1 1 1 .9 1 1.1 1 1.2 1 1.4 1 1.6 1 1.6 1 2 1 1.7 1 .4 1 .2 1 .1 1 .2 1 .3 1 .4 1 .5 1 .5 1 .6 1 .7 1 .8 1 .9 1 .9 1 .8 1 .7 1 .7 1 .6 1 .6 1 .5 1 .3 1 .3 1 .2 1 .2 1 .2 1 .1 1 .2 1 0 1 .1 1 .1 1 0 1 .1 1 0 1 0 1 0 1-.1 1-.1 1-.1 1-.1 1-.2 1-.2 1-.3 1-.3 1-.5 1-.5 1-.4 1-.5 1-.4 1-.5 1-.5 1-.4 1-.2 1 0 1 0 1 .1 1 .1 1 .1 1 .1 1 .3 1 .4 1 .4 1 .4 1 .4 1 .2 1 .2 1 .2 1 .1 1 .1 1 .1 1 .1 1 0 1-.3 1-.4 1-.3 1-.3 1 0 1 0 1 0 1 0 1 0 1 0 1 .1 1 .2 1 .2 1 .3 1 .2 1 .3 1 .2 1 .2 1 .2 1 .2 1 .2 1 .2 1 .2 1 .1 1 .2 1 .2 1 .1 1 .2 1 .2 1 .2 1 .2 1 .3 1 .2 1 .3 1 .3 1 .2 1 .2 1 .2 1 .2 1 .3 1 .3 1 .5 1 .9 1 1.2 1 1.7 1 2.8 1 3.4 1 4 1 4.5 1 4.4 .8 3.6L651.3 344.2l-.8-.1-1-.2-1-.1-1 0-1-.1-1 0-1 0-1 0-1 .2-1 .1-1 .1-1 .1-1 .1-1 .1-1 .1-1 0-1 .1-1 .1-1 0-1 .1-1 .1-1 0-1 .1-1 0-1 0-1 0-1-.1-1-.2-1-.1-1-.2-1-.2-1-.1-1-.2-1-.1-1-.2-1-.1-1-.1-1-.1-1 .1-1 .1-1 .2-1 .1-1 .2-1 .1-1 .1-1 0-1 0-1 0-1 0-1 0-1 0-1 0-1 .1-1 .1-1 .2-1 .3-1 .3-1 .5-1 .6-1 .7-1 .8-1 .9-1 1.1-1 .9-1 .7-1 .6-1 .5-1 .5-1 .3-1 0-1 0-1 0-1-.1-1-.1-1-.1-1-.3-1-.4-1-.5-1-.6-1-.4-1-.6-1-.5-1-.6-1-.3-1-.1-1 0-1 0-1 0-1 0-1 0-1 0-1 0-1 .1-1 .2-1 .3-1 .2-1 .3-1 .2-1 .1-1 .1-1 .1-1 .1-1 0-1 .2-1 .1-1 .2-1 .3-1 .3-1 .4-1 .4-1 .4-1 .3-1 .4-1 .3-1 .4-1 .4-1 .4-1 .4-1 .4-1 .4-1 .4-1 .4-1 .4-1 .4-1 .4-1 .3-1 .3-1 .3-1 .2-1 .3-1 .3-1 .4-1 .3-1 .4-1 .4-1 .4-1 .4-1 .3-1 .4-1 .4-1 .4-1 .3-1 .4-1 .4-1 .4-1 .4-1 .5-1 .5-1 .4-1 .4-1 .2-1-.3-1-1.2-1-.8-1-.8-1-.7-1-.5-1-.2-1 0-1 .1-1 0-1 .1-1 .1-1 .2-1 .3-1 .4-1 .4-1 .4-1 .2-1 .4-1 .3-1 .2-1 .3-1 .2-1 .1-1 .1-1 0-1 .1-1 0-1 .1-1 0-1 0-1-.1-1 0-1-.1-1-.2-1-.1-1-.1-1-.2-1-.2-1-.2-1-.2-1-.3-1-.2-1-.1-1-.2-1-.2-1-.1-1-.2-1-.1-1 0-1 0-1 .1-1 .1-1 .3-1 .2-1 .2-1 .3-1 .4-1 .4-1 .3-1 .3-1 .3-1 .4-1 .2-1 .2-1 .2-1 .1-1 0-1 .1-1 0-1 0-1 0-1 0-1-.1-1-.1-1 0-1-.1-1-.1-1 0-1-.1-1-.1-1-.1-1 0-1-.1-1-.1-1-.1-1-.1-1-.1-1-.1-1-.1-1-.1-1-.1-1-.1-1-.1-1-.1-1-.1-1-.1-1-.2-1-.1-1-.1-1-.1-1-.1-1-.2-1-.1-1-.1-1-.2-1-.1-1-.1-1-.2-1-.1-1-.2-1-.1-1-.2-1-.2-1-.1-1-.2-1-.1-1-.2-1-.2-1-.1-1-.2-1-.2-1-.2-1-.1-1-.2-1-.2-1-.1-1-.2-1-.2-1-.2-1-.1-1-.2-1-.1-1-.2-1-.2-1-.1-1-.2-1-.2-1-.2-1-.2-1-.2-1-.2-1-.3-1-.3-1-.3-1-.3-1-.3-1-.3Z"/></clipPath>
<path d="M352.5 356.7l1-.2 1-.1 1-.1 1-.1 1-.1 1-.1 1 0 1 0 1 0 1 0 1 0 1 0 1 0 1 0 1 0 1 0 1 0 1 0 1 0 1 0 1 0 1 0 1 0 1 0 1 0 1 0 1 0 1 0 1 .1 1 0 1 0 1 0 1 0 1 0 1 0 1 .1 1 0 1 0 1 0 1 0 1 0 1 0 1 0 1 0 1 0 1 0 1 0 1 0 1 0 1 0 1 0 1-.1 1-.1 1-.2 1-.2 1-.2 1-.3 1-.3 1-.4 1-.7 1-.7 1-.8 1-.7 1-.7 1-.7 1-.7 1-.7 1-.6 1-.6 1-.5 1-.4 1-.3 1-.3 1-.2 1-.2 1-.2 1-.1 1 0 1 .1 1 .1 1 .1 1 .1 1 .1 1 0 1-.1 1-.5 1-.6 1-1 1-1.7 1-1.9 1-2.1 1-2.1 1-1.5 1-1.2 1-1 1-.5 1-.3 1-.2 1-.1 1-.1 1-.1 1 .1 1 0 1 .1 1 0 1 .1 1 .1 1 0 1 .1 1 0 1 0 1 0 1 0 1 0 1 0 1 0 1 0 1-.1 1-1.1 1-1.9 1-2.6 1-5.3 1-6.2 1-7.1 1-7.1 1-7.5 1-8 1-8.2 1-7.9 1-6.7 1-6.2 1-6.1 1-5.7 1-5.4 1-5.2 1-3.8 1-2.3 1-1.9 1-.8 1 .4 1 1.3 1 2.1 1 3.6 1 5.8 1 6.3 1 6.9 1 6.5 1 6.2 1 4.9 1 4.2 1 3 1 2.1 1 1.7 1 1.4 1 1.2 1 1.1 1 .9 1 .9 1 .9 1 1 1 .7 1 .2 1-.1 1-.2 1-.2 1-.1 1-.2 1 0 1 .6 1 1 1 .9 1 1.1 1 1.2 1 1.4 1 1.6 1 1.6 1 2 1 1.7 1 .4 1 .2 1 .1 1 .2 1 .3 1 .4 1 .5 1 .5 1 .6 1 .7 1 .8 1 .9 1 .9 1 .8 1 .7 1 .7 1 .6 1 .6 1 .5 1 .3 1 .3 1 .2 1 .2 1 .2 1 .1 1 .2 1 0 1 .1 1 .1 1 0 1 .1 1 0 1 0 1 0 1-.1 1-.1 1-.1 1-.1 1-.2 1-.2 1-.3 1-.3 1-.5 1-.5 1-.4 1-.5 1-.4 1-.5 1-.5 1-.4 1-.2 1 0 1 0 1 .1 1 .1 1 .1 1 .1 1 .3 1 .4 1 .4 1 .4 1 .4 1 .2 1 .2 1 .2 1 .1 1 .1 1 .1 1 .1 1 0 1-.3 1-.4 1-.3 1-.3 1 0 1 0 1 0 1 0 1 0 1 0 1 .1 1 .2 1 .2 1 .3 1 .2 1 .3 1 .2 1 .2 1 .2 1 .2 1 .2 1 .2 1 .2 1 .1 1 .2 1 .2 1 .1 1 .2 1 .2 1 .2 1 .2 1 .3 1 .2 1 .3 1 .3 1 .2 1 .2 1 .2 1 .2 1 .3 1 .3 1 .5 1 .9 1 1.2 1 1.7 1 2.8 1 3.4 1 4 1 4.5 1 4.4 .8 3.6L651.3 344.2l-.8-.1-1-.2-1-.1-1 0-1-.1-1 0-1 0-1 0-1 .2-1 .1-1 .1-1 .1-1 .1-1 .1-1 .1-1 0-1 .1-1 .1-1 0-1 .1-1 .1-1 0-1 .1-1 0-1 0-1 0-1-.1-1-.2-1-.1-1-.2-1-.2-1-.1-1-.2-1-.1-1-.2-1-.1-1-.1-1-.1-1 .1-1 .1-1 .2-1 .1-1 .2-1 .1-1 .1-1 0-1 0-1 0-1 0-1 0-1 0-1 0-1 .1-1 .1-1 .2-1 .3-1 .3-1 .5-1 .6-1 .7-1 .8-1 .9-1 1.1-1 .9-1 .7-1 .6-1 .5-1 .5-1 .3-1 0-1 0-1 0-1-.1-1-.1-1-.1-1-.3-1-.4-1-.5-1-.6-1-.4-1-.6-1-.5-1-.6-1-.3-1-.1-1 0-1 0-1 0-1 0-1 0-1 0-1 0-1 .1-1 .2-1 .3-1 .2-1 .3-1 .2-1 .1-1 .1-1 .1-1 .1-1 0-1 .2-1 .1-1 .2-1 .3-1 .3-1 .4-1 .4-1 .4-1 .3-1 .4-1 .3-1 .4-1 .4-1 .4-1 .4-1 .4-1 .4-1 .4-1 .4-1 .4-1 .4-1 .4-1 .3-1 .3-1 .3-1 .2-1 .3-1 .3-1 .4-1 .3-1 .4-1 .4-1 .4-1 .4-1 .3-1 .4-1 .4-1 .4-1 .3-1 .4-1 .4-1 .4-1 .4-1 .5-1 .5-1 .4-1 .4-1 .2-1-.3-1-1.2-1-.8-1-.8-1-.7-1-.5-1-.2-1 0-1 .1-1 0-1 .1-1 .1-1 .2-1 .3-1 .4-1 .4-1 .4-1 .2-1 .4-1 .3-1 .2-1 .3-1 .2-1 .1-1 .1-1 0-1 .1-1 0-1 .1-1 0-1 0-1-.1-1 0-1-.1-1-.2-1-.1-1-.1-1-.2-1-.2-1-.2-1-.2-1-.3-1-.2-1-.1-1-.2-1-.2-1-.1-1-.2-1-.1-1 0-1 0-1 .1-1 .1-1 .3-1 .2-1 .2-1 .3-1 .4-1 .4-1 .3-1 .3-1 .3-1 .4-1 .2-1 .2-1 .2-1 .1-1 0-1 .1-1 0-1 0-1 0-1 0-1-.1-1-.1-1 0-1-.1-1-.1-1 0-1-.1-1-.1-1-.1-1 0-1-.1-1-.1-1-.1-1-.1-1-.1-1-.1-1-.1-1-.1-1-.1-1-.1-1-.1-1-.1-1-.1-1-.1-1-.2-1-.1-1-.1-1-.1-1-.1-1-.2-1-.1-1-.1-1-.2-1-.1-1-.1-1-.2-1-.1-1-.2-1-.1-1-.2-1-.2-1-.1-1-.2-1-.1-1-.2-1-.2-1-.1-1-.2-1-.2-1-.2-1-.1-1-.2-1-.2-1-.1-1-.2-1-.2-1-.2-1-.1-1-.2-1-.1-1-.2-1-.2-1-.1-1-.2-1-.2-1-.2-1-.2-1-.2-1-.2-1-.3-1-.3-1-.3-1-.3-1-.3-1-.3Z" fill="#cab2d6" stroke="#c2a57c" stroke-opacity=".55" stroke-width="2.6" stroke-dasharray="3.5 2" stroke-linejoin="round" paint-order="stroke"/>
<g clip-path="url(#ce)">
<path fill="#ff7f00" d="M352.5 356.7l1-.2 1-.1 1-.1 1-.1 1-.1 1-.1 1 0 1 0 1 0 1 0 1 0 1 0 1 0 1 0 1 0 1 0 1 0 1 0 1 0 1 0 1 0 1 0 1 0 1 0 1 0 1 0 1 0 1 0 1 .1 1 0 1 0 1 0 1 0 1 0 1 0 1 .1 1 0 1 0 1 0 1 0 1 0 1 0 1 0 1 0 1 0 1 0 1 0 1 0 1 0 1 0 1 0 1-.1 1-.1 1-.2 1-.2 1-.2 1-.3 1-.3 1-.4 1-.7 1-.7 1-.8 1-.7 1-.7 1-.7 1-.7 1-.7 1-.6 1-.6 1-.5 1-.4 1-.3 1-.3 1-.2 1-.2 1-.2 1-.1 1 0 1 .1 1 .1 1 .1 1 .1 1 .1 1 0 1-.1 1-.5 1-.6 1-1 1-1.7 1-1.9 1-2.1 1-2.1 1-1.5 1-1.2 1-1 1-.5 1-.3 1-.2 1-.1 1-.1 1-.1 1 .1 1 0 1 .1 1 0 1 .1 1 .1 1 0 1 .1 1 0 1 0 1 0 1 0 1 0 1 0 1 0 1 0 1-.1 1-1.1 1-1.9 1-2.6 1-5.3 1-6.2 1-7.1 1-7.1 1-7.5 1-8 1-8.2 1-7.9 1-6.7 1-6.2 1-6.1 1-5.7 1-5.4 1-5.2 1-3.8 1-2.3 1-1.9 1-.8 1 .4 1 1.3 1 2.1 1 3.6 1 5.8 1 6.3 1 6.9 1 6.5 1 6.2 1 4.9 1 4.2 1 3 1 2.1 1 1.7 1 1.4 1 1.2 1 1.1 1 .9 1 .9 1 .9 1 1 1 .7 1 .2 1-.1 1-.2 1-.2 1-.1 1-.2 1 0 1 .6 1 1 1 .9 1 1.1 1 1.2 1 1.4 1 1.6 1 1.6 1 2 1 1.8 1 1.7 1 2 1 1.7 1 1.6 1 1.8 1 1.7 1 1.5 1 1.5 1 1.2 1 .7 1 .8 1 .8 1 .8 1 .7 1 .5 1 .4 1 .3 1 .2 1 .1 1 .1 1 .1 1 .1 1 0 1 0 1 .1 1 0 1 .1 1 .1 1 .1 1 .1 1 0 1 .1 1 0 1 0 1 0 1-.1 1-.1 1-.1 1-.1 1-.1 1-.2 1-.3 1-.4 1-.3 1-.4 1-.3 1-.4 1-.4 1-.4 1-.4 1-.1 1 0 1 0 1 .1 1 .1 1 .1 1 .1 1 .3 1 .3 1 .3 1 .3 1 .2 1 .2 1 .1 1 .1 1 .1 1 .1 1 0 1 .1 1-.1 1-.2 1-.3 1-.3 1-.3 1 0 1-.1 1-.1 1-.1 1-.1 1-.1 1-.1 1 .1 1 .1 1 .1 1 .2 1 .1 1 .1 1 .1 1 .1 1 .1 1 .1 1 .1 1 .1 1 0 1 0 1 0 1 0 1 0 1 0 1 0 1-.1 1 0 1-.1 1 0 1 0 1 .1 1 .2 1 .2 1 .1 1 .2 1 .3 1 .5 1 .7 1 1.1 1 1.4 1 2.2 1 2.8 1 3.6 1 4.1 1 3.9 .8 3V371.3H352.5Z"/>
<path fill="#a6cee3" d="M352.5 356.7l1-.2 1-.1 1-.1 1-.1 1-.1 1-.1 1 0 1 0 1 0 1 0 1 0 1 0 1 0 1 0 1 0 1 0 1 0 1 0 1 0 1 0 1 0 1 0 1 0 1 0 1 0 1 0 1 0 1 0 1 .1 1 0 1 0 1 0 1 0 1 0 1 0 1 .1 1 0 1 0 1 0 1 0 1 0 1 0 1 0 1 0 1 0 1 0 1 0 1 0 1 0 1 0 1 0 1-.1 1-.1 1-.2 1-.2 1-.2 1-.3 1-.3 1-.4 1-.7 1-.7 1-.8 1-.7 1-.7 1-.7 1-.7 1-.7 1-.6 1-.6 1-.5 1-.4 1-.3 1-.3 1-.2 1-.2 1-.2 1-.1 1 0 1 .1 1 .1 1 .1 1 .1 1 .1 1 0 1-.1 1-.5 1-.6 1-1 1-1.7 1-1.9 1-2.1 1-2.1 1-1.5 1-1.2 1-1 1-.5 1-.3 1-.2 1-.1 1-.1 1-.1 1 .1 1 0 1 .1 1 0 1 .1 1 .1 1 0 1 .1 1 0 1 0 1 0 1 0 1 0 1 0 1 0 1 0 1 0 1 .1 1 .2 1 .2 1 .3 1 .2 1 .2 1 .1 1 .1 1 .1 1 .2 1 .1 1 .1 1 .2 1 .2 1 .3 1 .3 1 .4 1 .2 1 .2 1-.1 1-.8 1-1.3 1-1.4 1-1.8 1-2.2 1-2.3 1-2.5 1-2.7 1-3.1 1-3.3 1-3.2 1-2.8 1-1.7 1-1.3 1-.9 1-.7 1-.5 1-.4 1-.3 1-.1 1-.1 1 0 1-.1 1 0 1-.1 1-.1 1-.2 1-.1 1-.1 1 0 1 .2 1 .1 1 .3 1 .6 1 .9 1 1.1 1 1.2 1 1.5 1 1.6 1 1.7 1 1.8 1 1.9 1 1.5 1 1.4 1 1.3 1 1.1 1 1 1 .9 1 .8 1 .6 1 .5 1 .5 1 .4 1 .4 1 .3 1 .2 1 .2 1 .1 1 .2 1 .1 1 .1 1 0 1 0 1 0 1 0 1 0 1 0 1 0 1 0 1 0 1 0 1 0 1-.1 1 0 1-.1 1-.1 1-.1 1-.1 1-.1 1-.1 1-.2 1-.1 1-.2 1-.1 1-.2 1-.1 1-.2 1-.1 1-.1 1 0 1 .1 1 0 1 0 1 .1 1 .1 1 .1 1 .1 1 .1 1 .2 1 .2 1 .1 1 .2 1 .1 1 .1 1 0 1 .1 1 0 1 .1 1 0 1 0 1 0 1-.1 1-.1 1-.1 1 0 1 0 1 0 1 0 1 0 1 0 1 0 1 0 1 0 1 0 1 0 1 0 1 0 1 0 1 0 1 0 1 0 1 0 1 0 1 0 1 0 1 0 1 0 1 0 1 0 1 0 1 0 1 0 1 0 1 0 1 0 1 0 1 .1 1 .1 1 .1 1 .1 1 .2 1 .4 1 .6 1 .6 1 1.3 1 1.7 1 2.1 1 2.9 1 3.1 1 2.9 .8 2.3V371.3H352.5Z"/>
<path fill="#1f78b4" d="M352.5 356.7l1-.2 1-.1 1-.1 1-.1 1-.1 1-.1 1 0 1 0 1 0 1 0 1 0 1 0 1 0 1 0 1 0 1 0 1 0 1 0 1 0 1 0 1 0 1 0 1 0 1 0 1 0 1 0 1 0 1 0 1 .1 1 0 1 0 1 0 1 0 1 0 1 0 1 .1 1 0 1 0 1 0 1 0 1 0 1 0 1 0 1 0 1 0 1 0 1 0 1 0 1 0 1 0 1 0 1-.1 1-.1 1-.2 1-.2 1-.2 1-.3 1-.3 1-.4 1-.7 1-.7 1-.8 1-.7 1-.7 1-.7 1-.7 1-.7 1-.6 1-.6 1-.5 1-.4 1-.3 1-.3 1-.2 1-.2 1-.2 1-.1 1 0 1 .1 1 .1 1 .1 1 .1 1 .1 1 0 1-.1 1-.5 1-.6 1-1 1-1.7 1-1.9 1-2.1 1-2.1 1-1.5 1-1.2 1-1 1-.5 1-.3 1-.2 1-.1 1-.1 1-.1 1 .1 1 0 1 .1 1 0 1 .1 1 .1 1 0 1 .1 1 0 1 0 1 0 1 0 1 0 1 0 1 0 1 0 1 0 1 .1 1 .2 1 .2 1 .3 1 .2 1 .2 1 .1 1 .1 1 .1 1 .2 1 .1 1 .1 1 .2 1 .2 1 .3 1 .3 1 .4 1 .2 1 .2 1-.1 1-.8 1-1.3 1-1.4 1-1.8 1-2.2 1-2.3 1-2.5 1-2.3 1 .4 1 .1 1-.1 1-.1 1-.2 1-.1 1 0 1 0 1 0 1 0 1 0 1 0 1 .1 1 .2 1 .1 1 .1 1 0 1 0 1-.1 1-.2 1-.1 1-.1 1-.2 1-.2 1-.1 1-.1 1 0 1 .1 1 .3 1 .3 1 .3 1 .3 1 .3 1 .3 1 .4 1 .3 1 .4 1 .3 1 .4 1 .3 1 .3 1 .3 1 .3 1 .3 1 .3 1 .2 1 .3 1 .1 1 .1 1 .1 1 .1 1 .1 1 .1 1 0 1 0 1 0 1 0 1 0 1 0 1-.1 1 0 1-.1 1 0 1 0 1-.1 1 0 1-.1 1-.1 1 0 1-.1 1-.2 1-.1 1-.2 1-.1 1-.1 1-.2 1-.1 1-.2 1-.1 1-.2 1 0 1 0 1 0 1 0 1 .1 1 0 1 .1 1 .1 1 .1 1 .1 1 .2 1 .2 1 .2 1 .1 1 .1 1 .1 1 .1 1 0 1 .1 1 0 1 0 1 0 1 0 1-.1 1 0 1-.1 1-.1 1 0 1 0 1 0 1 0 1 0 1 0 1 0 1 0 1 0 1 0 1 0 1 0 1 0 1 0 1 0 1 0 1 0 1 0 1 0 1 0 1 0 1 0 1 0 1 0 1 0 1 0 1 0 1 0 1 0 1 0 1 .1 1 0 1 .1 1 .1 1 .1 1 .3 1 .4 1 .5 1 .6 1 1.2 1 1.5 1 2 1 2.9 1 3 1 2.7 .8 2.2V371.3H352.5Z"/>
<path fill="#e31a1c" d="M352.5 356.7l1-.2 1-.1 1-.1 1-.1 1-.1 1-.1 1 0 1 0 1 0 1 0 1 0 1 0 1 0 1 0 1 0 1 0 1 0 1 0 1 0 1 0 1 0 1 0 1 0 1 0 1 0 1 0 1 0 1 0 1 .1 1 0 1 0 1 0 1 0 1 0 1 0 1 .1 1 0 1 0 1 0 1 0 1 0 1 0 1 0 1 0 1 0 1 0 1 0 1 0 1 0 1 0 1 0 1-.1 1-.1 1-.2 1-.2 1-.2 1-.3 1-.3 1-.4 1-.7 1-.7 1-.8 1-.7 1-.7 1-.7 1-.7 1-.7 1-.6 1-.6 1-.5 1-.4 1-.3 1-.3 1-.2 1-.2 1-.2 1-.1 1 0 1 .1 1 .1 1 .1 1 .1 1 .1 1 0 1-.1 1-.5 1-.6 1-1 1-1.7 1-1.9 1-2.1 1-2.1 1-1.5 1-1.2 1-1 1-.5 1-.3 1-.2 1-.1 1-.1 1-.1 1 .1 1 0 1 .1 1 0 1 .1 1 .1 1 0 1 .1 1 0 1 0 1 0 1 0 1 0 1 0 1 0 1 0 1 0 1 .1 1 .2 1 .2 1 .3 1 .2 1 .2 1 .1 1 .1 1 .1 1 .2 1 .1 1 .1 1 .2 1 .2 1 .3 1 .3 1 .4 1 .2 1 .2 1 0 1 .1 1 0 1 0 1 0 1 0 1 .1 1 0 1 .1 1 0 1 0 1 0 1-.1 1 0 1-.1 1-.1 1 0 1 0 1 0 1 0 1 0 1 0 1 0 1 0 1 0 1 0 1 0 1 0 1 0 1 0 1 0 1 0 1-.1 1-.1 1-.1 1 0 1 0 1 0 1 0 1 0 1 0 1 0 1 0 1 0 1 0 1 0 1 0 1 0 1 0 1 0 1 0 1-.1 1-.1 1-.1 1-.1 1-.1 1 0 1 0 1 0 1 .1 1 .1 1 .1 1 .1 1 .1 1 0 1 .1 1 .1 1 0 1 .1 1 0 1 0 1 0 1 0 1 0 1 0 1 0 1 0 1 0 1 .1 1 0 1 .1 1 .1 1 0 1 0 1 0 1 0 1 0 1 0 1 0 1 0 1 0 1 0 1-.1 1-.1 1-.1 1-.2 1-.1 1-.2 1-.3 1-.4 1-.4 1-.3 1-.4 1-.3 1-.2 1-.3 1-.2 1-.2 1-.2 1-.1 1-.2 1-.1 1 0 1-.1 1 0 1 0 1 0 1 0 1 0 1 0 1 0 1 .1 1 0 1 .1 1 .1 1 .1 1 .1 1 .1 1 .1 1 .2 1 .1 1 .1 1 .1 1 0 1 0 1 0 1 0 1 0 1 0 1 0 1 0 1-.1 1-.2 1-.2 1-.2 1-.2 1-.2 1-.2 1-.2 1-.3 1-.1 1-.1 1 .1 1 .5 1 .7 1 .8 1 1.3 1 1.6 1 2 1 2.3 1 2.3 .8 2V371.3H352.5Z"/>
<path fill="#fdbf6f" d="M352.5 356.7l1-.2 1-.1 1-.1 1-.1 1-.1 1-.1 1 0 1 0 1 0 1 0 1 0 1 0 1 0 1 0 1 0 1 0 1 0 1 0 1 0 1 0 1 0 1 0 1 0 1 0 1 0 1 0 1 0 1 0 1 .1 1 0 1 0 1 0 1 0 1 0 1 0 1 .1 1 0 1 0 1 0 1 0 1 0 1 0 1 0 1 0 1 0 1 0 1 0 1 0 1 0 1 0 1 0 1-.1 1-.1 1-.2 1-.2 1-.2 1-.3 1-.3 1-.4 1-.7 1-.7 1-.8 1-.7 1-.7 1-.7 1-.7 1-.7 1-.6 1-.6 1-.5 1-.4 1-.3 1-.3 1-.2 1-.2 1-.2 1-.1 1 0 1 .1 1 .1 1 .2 1 .1 1 .1 1 .1 1-.1 1-.3 1-.2 1 0 1 .2 1 .3 1 .3 1 .3 1 .3 1 .2 1 .2 1 .2 1 .1 1 0 1 0 1 0 1 0 1 0 1 0 1 0 1 0 1-.1 1-.1 1 0 1-.1 1-.1 1-.1 1-.1 1 0 1-.1 1-.1 1 0 1 0 1 0 1 0 1 0 1 0 1 0 1 0 1 0 1 0 1 0 1 0 1 0 1 0 1 0 1 0 1 0 1 0 1 0 1 0 1 0 1 0 1 0 1-.1 1 0 1 0 1-.1 1-.1 1-.1 1-.1 1-.1 1-.2 1-.2 1-.2 1-.3 1-.2 1-.3 1-.3 1-.2 1-.2 1-.2 1-.2 1-.2 1-.2 1-.1 1-.1 1-.1 1-.1 1-.1 1 0 1-.1 1-.1 1 0 1-.1 1-.1 1-.1 1-.1 1 0 1-.1 1 0 1-.1 1 0 1-.1 1 0 1-.1 1 0 1-.1 1-.1 1-.2 1-.1 1-.1 1-.2 1-.1 1-.2 1-.2 1-.1 1-.2 1-.2 1-.2 1-.2 1-.2 1-.2 1-.2 1-.2 1-.2 1-.2 1-.2 1-.1 1-.2 1-.1 1-.1 1-.1 1 0 1 0 1 0 1 0 1 0 1 0 1 0 1 0 1 0 1 0 1 0 1 0 1 0 1 0 1 0 1-.1 1-.2 1-.1 1-.2 1-.2 1-.1 1-.2 1-.2 1-.2 1-.2 1-.2 1-.2 1-.3 1-.3 1-.4 1-.4 1-.3 1-.3 1-.3 1-.3 1-.2 1-.2 1-.2 1-.1 1-.2 1-.1 1-.1 1 0 1 0 1 0 1 0 1 0 1 0 1 0 1 0 1 0 1 0 1 .1 1 .1 1 .1 1 .1 1 .1 1 .1 1 .1 1 .2 1 .1 1 .2 1 .1 1 0 1 0 1 0 1 0 1 0 1 0 1 0 1 0 1-.1 1-.2 1-.3 1-.2 1-.3 1-.2 1-.2 1-.2 1-.2 1-.2 1-.1 1 .2 1 .4 1 .6 1 .8 1 1.2 1 1.5 1 1.9 1 2.2 1 2.2 .8 1.8V371.3H352.5Z"/>
<path fill="#33a02c" d="M352.5 356.7l1-.2 1-.1 1-.1 1-.1 1-.1 1-.1 1 0 1 0 1 0 1 0 1 0 1 0 1 0 1 0 1 0 1 0 1 0 1 0 1 0 1 0 1 0 1 0 1 0 1 0 1 0 1 0 1 0 1 0 1 .1 1 0 1 0 1 0 1 0 1 0 1 0 1 .1 1 0 1 0 1 0 1 0 1 0 1 0 1 0 1 0 1 0 1 0 1 0 1 0 1 0 1 0 1 0 1-.1 1-.1 1-.1 1-.1 1-.2 1-.2 1-.2 1-.2 1-.3 1-.3 1-.3 1-.3 1-.3 1-.2 1-.1 1-.2 1-.2 1-.1 1-.1 1-.1 1-.1 1-.1 1-.1 1-.1 1-.1 1 0 1 0 1 .1 1 .1 1 .2 1 .2 1 .2 1 .2 1 .2 1 .2 1 .2 1 .2 1 .2 1 .1 1 .1 1 0 1 0 1 0 1 0 1 0 1 0 1 0 1-.1 1-.2 1-.1 1-.2 1-.1 1-.2 1 0 1-.1 1 0 1-.1 1 0 1-.1 1 0 1-.1 1 0 1-.1 1-.1 1-.1 1-.1 1 0 1-.1 1-.1 1-.1 1-.1 1 0 1-.1 1-.1 1 0 1-.1 1 0 1-.1 1 0 1 0 1 0 1 0 1 0 1 0 1 0 1 0 1 0 1-.1 1-.1 1-.1 1-.1 1-.2 1-.2 1-.4 1-.5 1-.6 1-.4 1-.3 1-.2 1-.3 1-.2 1-.2 1-.3 1-.3 1-.3 1-.4 1-.4 1-.3 1-.3 1-.2 1-.1 1-.1 1-.1 1-.1 1-.1 1-.1 1-.1 1-.1 1-.2 1-.2 1-.1 1-.2 1-.1 1-.1 1-.1 1-.1 1-.1 1-.1 1-.1 1-.1 1-.1 1-.2 1-.1 1-.2 1-.1 1-.2 1-.2 1-.2 1-.3 1-.3 1-.2 1-.3 1-.2 1-.2 1-.2 1-.2 1-.2 1-.2 1-.1 1-.2 1-.1 1-.1 1-.1 1 0 1-.1 1 0 1 0 1 0 1 0 1 0 1 0 1 0 1 0 1 0 1-.1 1 0 1-.1 1 0 1-.1 1-.1 1-.1 1-.1 1-.1 1-.1 1-.2 1-.1 1-.2 1-.2 1-.2 1-.3 1-.2 1-.3 1-.3 1-.3 1-.4 1-.4 1-.4 1-.3 1-.4 1-.3 1-.3 1-.2 1-.2 1-.2 1-.1 1-.1 1-.1 1-.1 1-.1 1 0 1 0 1 0 1 0 1 0 1 0 1 0 1 0 1 0 1 .1 1 .1 1 .1 1 .1 1 .1 1 .1 1 .1 1 .2 1 .2 1 .1 1 .1 1 0 1 0 1 0 1 0 1 0 1 0 1 0 1 0 1-.1 1-.2 1-.2 1-.3 1-.2 1-.3 1-.2 1-.2 1-.2 1-.2 1 0 1 .1 1 .4 1 .6 1 .8 1 1.1 1 1.5 1 1.8 1 2.1 1 2.2 .8 1.8V371.3H352.5Z"/>
<path fill="#6a3d9a" d="M352.5 357l1 .3 1 .4 1 .3 1 .3 1 .3 1 .2 1 .3 1 .2 1 .2 1 .2 1 .2 1 .2 1 .2 1 .1 1 .2 1 .1 1 .1 1 .1 1 0 1 .1 1 0 1 .1 1 0 1 .1 1 0 1 .1 1 0 1 0 1 0 1 0 1 0 1 0 1 0 1 0 1 0 1 0 1 0 1 0 1 0 1 0 1 0 1 0 1 0 1 0 1 0 1 0 1 0 1-.1 1 0 1-.1 1-.1 1 0 1-.1 1-.1 1 0 1-.1 1-.1 1-.1 1-.1 1-.1 1-.1 1 0 1-.1 1-.1 1 0 1-.1 1 0 1-.1 1 0 1-.1 1 0 1-.2 1-.2 1-.3 1-.2 1-.2 1-.2 1-.1 1-.1 1-.1 1 0 1-.1 1 0 1 0 1 0 1 0 1 .1 1 .1 1 0 1 .1 1 0 1 .1 1 .1 1 0 1 .1 1 0 1 .1 1 0 1-.1 1-.1 1-.1 1-.1 1-.2 1-.1 1-.1 1 0 1-.1 1-.1 1 0 1-.1 1-.1 1-.1 1-.1 1-.2 1-.1 1-.1 1-.2 1-.1 1-.1 1-.2 1-.1 1-.1 1-.1 1-.2 1 0 1-.1 1-.1 1-.1 1-.1 1-.1 1 0 1 .1 1 .1 1 .1 1 .1 1 .2 1 .1 1 .3 1 .2 1 .1 1 .1 1-.1 1-.1 1-.1 1 0 1-.1 1 .3 1 .1 1-.2 1-.2 1-.2 1-.4 1-.3 1-.3 1-.4 1-.5 1-.5 1-.5 1-.5 1-.4 1-.3 1-.3 1-.2 1-.1 1-.2 1-.2 1-.1 1-.1 1-.2 1-.1 1-.1 1-.1 1-.1 1-.2 1-.2 1-.2 1-.2 1-.3 1-.3 1-.3 1-.2 1-.3 1-.2 1-.2 1-.3 1-.2 1-.3 1-.3 1-.3 1-.2 1-.4 1-.3 1-.3 1-.3 1-.3 1-.4 1-.3 1-.4 1-.3 1-.3 1-.2 1-.3 1-.2 1-.2 1-.2 1-.2 1-.1 1 0 1 .1 1 0 1 .1 1 0 1 .1 1 .1 1 0 1 .2 1 .2 1 .1 1 .2 1 .1 1 0 1 0 1-.1 1 0 1-.1 1-.1 1-.1 1-.2 1-.2 1-.3 1-.4 1-.4 1-.4 1-.5 1-.5 1-.6 1-.6 1-.7 1-.6 1-.4 1-.5 1-.4 1-.4 1-.3 1-.2 1-.2 1-.2 1-.2 1-.1 1-.1 1 0 1 0 1 0 1 0 1 0 1 0 1 0 1 0 1 0 1 .1 1 .1 1 .1 1 .1 1 .1 1 .1 1 .1 1 .2 1 .1 1 .2 1 .1 1 0 1 0 1 0 1 0 1 0 1 0 1 0 1 0 1-.1 1-.2 1-.2 1-.3 1-.3 1-.2 1-.2 1-.3 1-.3 1-.3 1-.1 1 .1 1 .3 1 .5 1 .6 1 1.2 1 1.5 1 1.5 1 1.8 1 2 .8 1.8V371.3H352.5Z"/>
<path fill="#b2df8a" d="M352.5 357l1 .3 1 .4 1 .3 1 .3 1 .3 1 .2 1 .3 1 .2 1 .2 1 .2 1 .2 1 .2 1 .2 1 .1 1 .2 1 .1 1 .1 1 .1 1 0 1 .1 1 0 1 .1 1 0 1 .1 1 0 1 .1 1 0 1 0 1 0 1 0 1 0 1 0 1 0 1 0 1 0 1 0 1 0 1 0 1 0 1 0 1 0 1 0 1 0 1 0 1 0 1 0 1 0 1-.1 1 0 1-.1 1-.1 1 0 1-.1 1-.1 1 0 1-.1 1-.1 1-.1 1-.1 1-.1 1-.1 1 0 1-.1 1-.1 1 0 1-.1 1 0 1-.1 1 0 1-.1 1 0 1-.2 1-.2 1-.3 1-.2 1-.2 1-.2 1-.1 1-.1 1-.1 1 0 1-.1 1 0 1 0 1 0 1 0 1 .1 1 .1 1 0 1 .1 1 0 1 .1 1 .1 1 0 1 .1 1 0 1 .1 1 0 1-.1 1-.1 1-.1 1-.1 1-.2 1-.1 1-.1 1 0 1-.1 1-.1 1 0 1-.1 1-.1 1-.1 1-.1 1-.2 1-.1 1-.1 1-.2 1-.1 1-.1 1-.2 1-.1 1-.1 1-.1 1-.2 1 0 1-.1 1-.1 1-.1 1-.1 1-.1 1 0 1 .1 1 .1 1 .1 1 .1 1 .2 1 .1 1 .3 1 .2 1 .2 1 .4 1 .5 1 .4 1 .3 1 .3 1 .4 1 .5 1 .2 1 0 1-.1 1-.3 1-.2 1-.4 1-.4 1-.4 1-.5 1-.7 1-.6 1-.6 1-.5 1-.4 1-.3 1-.4 1-.3 1-.2 1-.3 1-.2 1-.2 1-.1 1-.2 1-.1 1-.2 1-.1 1-.2 1-.2 1-.3 1-.2 1-.4 1-.3 1-.3 1-.3 1-.3 1-.3 1-.4 1-.3 1-.3 1-.4 1-.3 1-.5 1-.4 1-.5 1-.4 1-.3 1-.4 1-.3 1-.4 1-.4 1-.3 1-.4 1-.3 1-.2 1-.3 1-.2 1-.3 1-.2 1-.1 1-.1 1 0 1 .1 1 .1 1 .1 1 .2 1 .1 1 .2 1 .2 1 .3 1 .2 1 .3 1 .2 1 .2 1 .1 1 .1 1 0 1 0 1-.1 1-.1 1-.2 1-.2 1-.3 1-.4 1-.6 1-.6 1-.6 1-.6 1-.6 1-.7 1-.8 1-.6 1-.6 1-.5 1-.5 1-.4 1-.4 1-.3 1-.2 1-.2 1-.2 1-.2 1-.1 1-.1 1 0 1-.1 1 0 1 0 1 0 1 0 1 0 1 0 1 .1 1 0 1 .1 1 .1 1 .1 1 .1 1 .1 1 .1 1 .2 1 .2 1 .1 1 .1 1 0 1 0 1 0 1 0 1 0 1 0 1 0 1 0 1-.1 1-.2 1-.2 1-.3 1-.2 1-.3 1-.2 1-.3 1-.3 1-.3 1-.1 1 .1 1 .3 1 .5 1 .6 1 1.2 1 1.5 1 1.5 1 1.8 1 2 .8 1.8V371.3H352.5Z"/>
<path fill="#fb9a99" d="M352.5 357.2l1 .3 1 .3 1 .3 1 .3 1 .3 1 .3 1 .2 1 .2 1 .2 1 .2 1 .2 1 .2 1 .1 1 .2 1 .2 1 .1 1 .2 1 .1 1 .2 1 .2 1 .2 1 .1 1 .2 1 .2 1 .1 1 .2 1 .2 1 .2 1 .1 1 .2 1 .2 1 .1 1 .2 1 .1 1 .2 1 .2 1 .1 1 .2 1 .1 1 .2 1 .1 1 .1 1 .2 1 .1 1 .1 1 .2 1 .1 1 .1 1 .1 1 .1 1 .2 1 .1 1 .1 1 .1 1 .1 1 .1 1 .1 1 .1 1 .1 1 .1 1 .1 1 .1 1 .1 1 .1 1 .1 1 0 1 .1 1 .1 1 .1 1 0 1 .1 1 .1 1 0 1 .1 1 .1 1 0 1 0 1 0 1 0 1-.1 1 0 1-.1 1-.2 1-.2 1-.2 1-.4 1-.3 1-.3 1-.3 1-.4 1-.4 1-.3 1-.2 1-.2 1-.3 1-.1 1-.1 1 0 1 0 1 .1 1 .2 1 .1 1 .2 1 .2 1 .1 1 .2 1 .3 1 .2 1 .2 1 .2 1 .2 1 .1 1 .1 1 .2 1 .1 1 0 1 .1 1 0 1 0 1-.1 1 0 1-.1 1 0 1-.1 1-.1 1-.2 1-.3 1-.2 1-.3 1-.4 1-.2 1-.4 1-.4 1-.4 1-.3 1-.2 1-.1 1-.1 1 0 1-.1 1 0 1 .2 1 .5 1 .7 1 .8 1 .8 1 1.2 1 .3 1-.2 1-.4 1-.4 1-.5 1-.5 1-.4 1-.4 1-.4 1-.4 1-.3 1-.4 1-.4 1-.4 1-.3 1-.4 1-.4 1-.4 1-.4 1-.3 1-.4 1-.3 1-.3 1-.2 1-.3 1-.3 1-.3 1-.4 1-.4 1-.4 1-.4 1-.4 1-.4 1-.4 1-.4 1-.4 1-.4 1-.4 1-.3 1-.4 1-.4 1-.4 1-.4 1-.5 1-.4 1-.5 1-.3 1-.4 1-.3 1-.3 1-.3 1-.3 1-.3 1-.2 1-.3 1-.3 1-.2 1-.3 1-.1 1-.1 1 0 1 0 1 0 1 0 1 0 1 0 1 0 1 0 1 .2 1 .3 1 .3 1 .3 1 .1 1 .1 1 0 1-.1 1 0 1-.1 1-.1 1-.1 1-.2 1-.2 1-.3 1-.4 1-.4 1-.5 1-.5 1-.6 1-.7 1-.8 1-.8 1-.8 1-.6 1-.7 1-.6 1-.5 1-.3 1-.2 1-.1 1-.2 1-.1 1 0 1-.1 1 0 1 0 1 0 1 0 1 0 1 0 1 0 1 0 1 0 1 .1 1 0 1 .1 1 0 1 .1 1 .1 1 .1 1 .2 1 .1 1 .1 1 .2 1 .1 1 .1 1 .1 1 .1 1 .1 1 0 1 .1 1 0 1-.1 1 0 1-.1 1-.1 1-.1 1-.1 1-.1 1-.1 1-.2 1-.1 1 0 1 0 1 .1 1 .3 1 .2 1 .4 1 .6 1 .7 1 .8 1 1.1 .8 1.1V371.3H352.5Z"/>
</g>
<text x="492.5" y="297.5" font-size="10.2" fill="#000" text-anchor="middle" >UKR</text>
<text x="514.7" y="315" font-size="9.5" fill="#000" text-anchor="middle" >KGZ</text>
<text x="510.3" y="331.7" font-size="9.8" fill="#fff" text-anchor="middle" >MDA</text>
<text x="457.7" y="343.7" font-size="9.2" fill="#fff" text-anchor="middle" >BOL</text>
<text x="585.2" y="314.2" font-size="4.1" fill="#555" text-anchor="middle" >STP</text>
<text x="461.4" y="363.7" font-size="4.4" fill="#33471c" text-anchor="middle" >EGY</text>
<text x="432" y="358.7" font-size="4.5" fill="#c8e8a8" text-anchor="middle" >SWZ</text>
<!-- chart f -->
<clipPath id="cf"><path d="M661.7 339.2l1-.5 1-.4 1-.4 1-.4 1-.4 1-.3 1-.2 1-.3 1-.2 1-.2 1-.1 1-.2 1-.2 1-.1 1-.2 1-.1 1-.2 1-.1 1-.1 1-.1 1-.2 1-.1 1-.1 1-.1 1-.1 1-.1 1-.1 1-.1 1-.1 1-.1 1 0 1-.1 1-.1 1-.1 1-.1 1-.1 1-.1 1-.1 1-.1 1-.1 1-.1 1-.1 1-.1 1 0 1-.1 1-.1 1-.1 1-.1 1 0 1-.1 1 0 1 0 1-.1 1 0 1 0 1-.1 1 0 1 0 1 0 1-.1 1 0 1 0 1 0 1 0 1 0 1-.1 1 0 1 0 1 0 1 0 1 0 1 0 1 0 1 0 1 0 1 0 1 0 1 0 1 0 1 0 1 0 1 0 1 0 1 0 1-.2 1-.6 1-.9 1-1 1-1.5 1-1.7 1-1.5 1-1.4 1-1.4 1-1 1-.7 1-.6 1-.4 1-.1 1 0 1 .1 1 0 1 0 1 .1 1 0 1 .1 1 0 1 .1 1 0 1 0 1 0 1 0 1 0 1 0 1 0 1 0 1 0 1-.2 1-1.5 1-2.5 1-3.4 1-4.7 1-4.7 1-5.1 1-5.7 1-6.2 1-6.5 1-6.7 1-6.9 1-7.1 1-6.5 1-5.9 1-5.3 1-4.8 1-4.1 1-2.5 1-1.9 1-1.5 1-.8 1 .2 1 1 1 1.7 1 2.3 1 5 1 6.5 1 8.5 1 7 1 6 1 5.4 1 4.8 1 4.2 1 3.6 1 3.2 1 2.9 1 2.7 1 2.4 1 2.1 1 2.1 1 1.9 1 1.3 1 1 1 .8 1 .5 1 0 1 0 1 0 1 0 1 0 1 0 1 0 1 0 1 .1 1 .3 1 .4 1 .5 1 .4 1 .5 1 .6 1 .7 1 .6 1 .4 1 .4 1 .3 1 .3 1 .3 1 .4 1 .5 1 .4 1 .6 1 .5 1 .5 1 .5 1 .6 1 .5 1 .5 1 .4 1 .4 1 .3 1 .4 1 .3 1 .3 1 .3 1 .3 1 .3 1 .3 1 .3 1 .1 1 0 1 0 1 0 1 0 1 0 1 0 1 0 1 0 1-.3 1-.3 1-.5 1-.4 1-.4 1-.6 1-.5 1-.6 1-.4 1-.4 1-.3 1-.4 1-.2 1-.2 1 .1 1 .1 1 .2 1 .3 1 .2 1 .4 1 .5 1 .6 1 .7 1 .6 1 .6 1 .6 1 .6 1 .6 1 .5 1 .4 1 .3 1 .4 1 .2 1 .1 1 0 1 0 1 0 1-.1 1-.1 1 0 1-.1 1-.1 1-.1 1-.1 1-.1 1 0 1-.1 1 0 1 0 1 .1 1 .1 1 .1 1 .1 1 .1 1 .1 1 .1 1 0 1 .1 1 .1 1 .2 1 .1 1 .1 1 .1 1 .2 1 .1 1 .2 1 .2 1 .1 1 .2 1 .2 1 .2 1 .3 1 .4 1 .5 1 .7 1 .8 1 .8 1 1.1 1 1.2 1 1.2 1 1.3 1 1.3 1 1.5 1 1.6L959.7 333.8l-1 1.1-1 1.2-1 1.3-1 1.4-1 1.2-1 1.1-1 1.1-1 .8-1 .6-1 .6-1 .4-1 .4-1 .3-1 .2-1 .2-1 .2-1 .1-1 .1-1 .2-1 .1-1 .1-1 .1-1 .1-1 .1-1 .1-1 .1-1 .1-1 .1-1 .1-1 .1-1 .1-1 .1-1 .1-1 0-1 .1-1 .1-1 0-1 .1-1 0-1 0-1 0-1 0-1 0-1 0-1 0-1 0-1 0-1 0-1 .1-1 0-1 .1-1 .1-1 0-1 .1-1 .1-1 .2-1 .1-1 .2-1 .1-1 .1-1 .1-1 .1-1 .1-1 .1-1 0-1 .1-1 0-1-.1-1-.2-1-.1-1-.2-1-.2-1-.2-1-.3-1-.3-1-.3-1-.3-1-.3-1-.4-1-.2-1-.3-1-.2-1-.3-1-.2-1-.2-1-.1-1 0-1 0-1 0-1 0-1 0-1 .1-1 .2-1 .4-1 .4-1 .5-1 .3-1 .5-1 .4-1 .5-1 .4-1 .4-1 .5-1 .4-1 .4-1 .5-1 .4-1 .5-1 .5-1 .4-1 .5-1 .4-1 .5-1 .4-1 .4-1 .5-1 .4-1 .5-1 .4-1 .5-1 .6-1 .7-1 .9-1 .9-1 1.1-1 1-1 .9-1 1.1-1 1-1 .7-1 .4-1 .3-1 .2-1 .2-1 0-1 0-1-.1-1-.1-1-.2-1-.2-1-.2-1-.3-1-.5-1-.5-1-.6-1-1.1-1-1.4-1-1.4-1-1.5-1-1.5-1-1.5-1-1.5-1-1.6-1-1.5-1-1.4-1-1.4-1-1.3-1-.7-1-.2-1-.1-1-.1-1-.1-1-.1-1 0-1-.1-1 0-1 0-1 .1-1 .1-1 .1-1 .2-1 .1-1 .1-1 .1-1 .1-1 .1-1 .1-1 0-1 .1-1 0-1 0-1 0-1 0-1 0-1 0-1 0-1 0-1 .1-1 .1-1 .1-1 .1-1 .1-1 0-1 0-1 0-1 0-1-.1-1 0-1 0-1-.1-1-.3-1 0-1 .1-1 .1-1 .1-1 .2-1 .1-1 .2-1 .3-1 .3-1 .3-1 .4-1 .4-1 .2-1 .2-1 .1-1 .1-1 .1-1 .1-1 0-1 0-1 0-1-.1-1-.1-1-.2-1-.2-1-.3-1-.2-1-.4-1-.6-1-.6-1-.7-1-.7-1-.7-1-.8-1-.7-1-.7-1-.5-1-.3-1-.2-1-.3-1-.2-1-.2-1-.2-1-.1-1-.1-1-.1-1 0-1-.1-1-.1-1 0-1-.1-1 0-1-.1-1 0-1 0-1-.1-1 0-1 0-1 0-1-.1-1 0-1 0-1 0-1 0-1 0-1 0-1-.1-1 0-1 0-1 0-1 0-1 0-1 0-1 0-1 0-1 0-1 0-1-.1-1 0-1 0-1 0-1-.1-1 0-1 0-1-.1-1 0-1-.1-1 0-1-.1-1 0-1-.1-1-.1-1-.1-1-.1-1-.1-1-.1-1-.1Z"/></clipPath>
<path d="M661.7 339.2l1-.5 1-.4 1-.4 1-.4 1-.4 1-.3 1-.2 1-.3 1-.2 1-.2 1-.1 1-.2 1-.2 1-.1 1-.2 1-.1 1-.2 1-.1 1-.1 1-.1 1-.2 1-.1 1-.1 1-.1 1-.1 1-.1 1-.1 1-.1 1-.1 1-.1 1 0 1-.1 1-.1 1-.1 1-.1 1-.1 1-.1 1-.1 1-.1 1-.1 1-.1 1-.1 1-.1 1 0 1-.1 1-.1 1-.1 1-.1 1 0 1-.1 1 0 1 0 1-.1 1 0 1 0 1-.1 1 0 1 0 1 0 1-.1 1 0 1 0 1 0 1 0 1 0 1-.1 1 0 1 0 1 0 1 0 1 0 1 0 1 0 1 0 1 0 1 0 1 0 1 0 1 0 1 0 1 0 1 0 1 0 1 0 1-.2 1-.6 1-.9 1-1 1-1.5 1-1.7 1-1.5 1-1.4 1-1.4 1-1 1-.7 1-.6 1-.4 1-.1 1 0 1 .1 1 0 1 0 1 .1 1 0 1 .1 1 0 1 .1 1 0 1 0 1 0 1 0 1 0 1 0 1 0 1 0 1 0 1-.2 1-1.5 1-2.5 1-3.4 1-4.7 1-4.7 1-5.1 1-5.7 1-6.2 1-6.5 1-6.7 1-6.9 1-7.1 1-6.5 1-5.9 1-5.3 1-4.8 1-4.1 1-2.5 1-1.9 1-1.5 1-.8 1 .2 1 1 1 1.7 1 2.3 1 5 1 6.5 1 8.5 1 7 1 6 1 5.4 1 4.8 1 4.2 1 3.6 1 3.2 1 2.9 1 2.7 1 2.4 1 2.1 1 2.1 1 1.9 1 1.3 1 1 1 .8 1 .5 1 0 1 0 1 0 1 0 1 0 1 0 1 0 1 0 1 .1 1 .3 1 .4 1 .5 1 .4 1 .5 1 .6 1 .7 1 .6 1 .4 1 .4 1 .3 1 .3 1 .3 1 .4 1 .5 1 .4 1 .6 1 .5 1 .5 1 .5 1 .6 1 .5 1 .5 1 .4 1 .4 1 .3 1 .4 1 .3 1 .3 1 .3 1 .3 1 .3 1 .3 1 .3 1 .1 1 0 1 0 1 0 1 0 1 0 1 0 1 0 1 0 1-.3 1-.3 1-.5 1-.4 1-.4 1-.6 1-.5 1-.6 1-.4 1-.4 1-.3 1-.4 1-.2 1-.2 1 .1 1 .1 1 .2 1 .3 1 .2 1 .4 1 .5 1 .6 1 .7 1 .6 1 .6 1 .6 1 .6 1 .6 1 .5 1 .4 1 .3 1 .4 1 .2 1 .1 1 0 1 0 1 0 1-.1 1-.1 1 0 1-.1 1-.1 1-.1 1-.1 1-.1 1 0 1-.1 1 0 1 0 1 .1 1 .1 1 .1 1 .1 1 .1 1 .1 1 .1 1 0 1 .1 1 .1 1 .2 1 .1 1 .1 1 .1 1 .2 1 .1 1 .2 1 .2 1 .1 1 .2 1 .2 1 .2 1 .3 1 .4 1 .5 1 .7 1 .8 1 .8 1 1.1 1 1.2 1 1.2 1 1.3 1 1.3 1 1.5 1 1.6L959.7 333.8l-1 1.1-1 1.2-1 1.3-1 1.4-1 1.2-1 1.1-1 1.1-1 .8-1 .6-1 .6-1 .4-1 .4-1 .3-1 .2-1 .2-1 .2-1 .1-1 .1-1 .2-1 .1-1 .1-1 .1-1 .1-1 .1-1 .1-1 .1-1 .1-1 .1-1 .1-1 .1-1 .1-1 .1-1 .1-1 0-1 .1-1 .1-1 0-1 .1-1 0-1 0-1 0-1 0-1 0-1 0-1 0-1 0-1 0-1 0-1 .1-1 0-1 .1-1 .1-1 0-1 .1-1 .1-1 .2-1 .1-1 .2-1 .1-1 .1-1 .1-1 .1-1 .1-1 .1-1 0-1 .1-1 0-1-.1-1-.2-1-.1-1-.2-1-.2-1-.2-1-.3-1-.3-1-.3-1-.3-1-.3-1-.4-1-.2-1-.3-1-.2-1-.3-1-.2-1-.2-1-.1-1 0-1 0-1 0-1 0-1 0-1 .1-1 .2-1 .4-1 .4-1 .5-1 .3-1 .5-1 .4-1 .5-1 .4-1 .4-1 .5-1 .4-1 .4-1 .5-1 .4-1 .5-1 .5-1 .4-1 .5-1 .4-1 .5-1 .4-1 .4-1 .5-1 .4-1 .5-1 .4-1 .5-1 .6-1 .7-1 .9-1 .9-1 1.1-1 1-1 .9-1 1.1-1 1-1 .7-1 .4-1 .3-1 .2-1 .2-1 0-1 0-1-.1-1-.1-1-.2-1-.2-1-.2-1-.3-1-.5-1-.5-1-.6-1-1.1-1-1.4-1-1.4-1-1.5-1-1.5-1-1.5-1-1.5-1-1.6-1-1.5-1-1.4-1-1.4-1-1.3-1-.7-1-.2-1-.1-1-.1-1-.1-1-.1-1 0-1-.1-1 0-1 0-1 .1-1 .1-1 .1-1 .2-1 .1-1 .1-1 .1-1 .1-1 .1-1 .1-1 0-1 .1-1 0-1 0-1 0-1 0-1 0-1 0-1 0-1 0-1 .1-1 .1-1 .1-1 .1-1 .1-1 0-1 0-1 0-1 0-1-.1-1 0-1 0-1-.1-1-.3-1 0-1 .1-1 .1-1 .1-1 .2-1 .1-1 .2-1 .3-1 .3-1 .3-1 .4-1 .4-1 .2-1 .2-1 .1-1 .1-1 .1-1 .1-1 0-1 0-1 0-1-.1-1-.1-1-.2-1-.2-1-.3-1-.2-1-.4-1-.6-1-.6-1-.7-1-.7-1-.7-1-.8-1-.7-1-.7-1-.5-1-.3-1-.2-1-.3-1-.2-1-.2-1-.2-1-.1-1-.1-1-.1-1 0-1-.1-1-.1-1 0-1-.1-1 0-1-.1-1 0-1 0-1-.1-1 0-1 0-1 0-1-.1-1 0-1 0-1 0-1 0-1 0-1 0-1-.1-1 0-1 0-1 0-1 0-1 0-1 0-1 0-1 0-1 0-1 0-1-.1-1 0-1 0-1 0-1-.1-1 0-1 0-1-.1-1 0-1-.1-1 0-1-.1-1 0-1-.1-1-.1-1-.1-1-.1-1-.1-1-.1-1-.1Z" fill="#ff7f00" stroke="#c2a57c" stroke-opacity=".55" stroke-width="2.6" stroke-dasharray="3.5 2" stroke-linejoin="round" paint-order="stroke"/>
<g clip-path="url(#cf)">
<path fill="#1f78b4" d="M661.7 339.2l1-.5 1-.4 1-.4 1-.4 1-.4 1-.3 1-.2 1-.3 1-.2 1-.2 1-.1 1-.2 1-.2 1-.1 1-.2 1-.1 1-.2 1-.1 1-.1 1-.1 1-.2 1-.1 1-.1 1-.1 1-.1 1-.1 1-.1 1-.1 1-.1 1-.1 1 0 1-.1 1-.1 1-.1 1-.1 1-.1 1-.1 1-.1 1-.1 1-.1 1-.1 1-.1 1-.1 1 0 1-.1 1-.1 1-.1 1-.1 1 0 1-.1 1 0 1 0 1-.1 1 0 1 0 1-.1 1 0 1 0 1 0 1-.1 1 0 1 0 1 0 1 0 1 0 1-.1 1 0 1 0 1 0 1 0 1 0 1 0 1 0 1 0 1 0 1 0 1 0 1 0 1 0 1 0 1 0 1 0 1 0 1 0 1-.2 1-.6 1-.9 1-1 1-1.5 1-1.7 1-1.5 1-1.4 1-1.4 1-1 1-.7 1-.6 1-.4 1-.1 1 0 1 .1 1 0 1 0 1 .1 1 0 1 .1 1 0 1 .1 1 0 1 0 1 0 1 0 1 0 1 0 1 0 1 0 1 0 1 0 1 0 1 .2 1 .1 1 .2 1 .2 1 .3 1 .1 1 .2 1 .1 1 .2 1 .1 1 .1 1 .1 1 .2 1 .1 1 .2 1 .1 1 .2 1 .2 1 .1 1-.3 1-1.4 1-2 1-1.6 1-1.4 1-1.3 1-1.1 1-.9 1-.9 1-.7 1-.2 1-.1 1-.1 1 0 1 0 1 .3 1 .6 1 .6 1 .6 1 .5 1 .5 1 .5 1 .4 1 .3 1 .2 1 .3 1 .1 1 .1 1 0 1 0 1 0 1 0 1 0 1-.1 1-.1 1-.2 1-.1 1 0 1 0 1 .1 1 .1 1 .1 1 .2 1 .1 1 .3 1 .2 1 .3 1 .2 1 .3 1 .4 1 .3 1 .4 1 .3 1 .3 1 .4 1 .3 1 .3 1 .4 1 .3 1 .4 1 .4 1 .3 1 .2 1 .3 1 .2 1 .2 1 .2 1 .2 1 .1 1 0 1 0 1 0 1-.1 1-.1 1 0 1-.1 1-.1 1-.2 1-.3 1-.3 1-.4 1-.3 1-.5 1-.4 1-.4 1-.4 1-.2 1-.3 1-.2 1-.1 1-.1 1 0 1 .1 1 .2 1 .2 1 .3 1 .3 1 .4 1 .5 1 .6 1 .6 1 .5 1 .6 1 .7 1 .6 1 .5 1 .3 1 .4 1 .3 1 .3 1 .1 1 0 1 0 1 0 1 0 1 0 1 0 1 0 1 0 1 0 1 0 1 0 1 0 1 0 1 0 1 .1 1 .1 1 .1 1 .2 1 .1 1 .2 1 .1 1 .2 1 .2 1 .1 1 .2 1 .2 1 .2 1 .2 1 .3 1 .2 1 .3 1 .3 1 .2 1 .2 1 .3 1 .2 1 .2 1 .2 1 .1 1 .1 1 0 1 .1 1 .1 1 .2 1 .3 1 .3 1 .4 1 .4 1 .7 1 .9V370.5H661.7Z"/>
<path fill="#e31a1c" d="M661.7 339.2l1-.5 1-.4 1-.4 1-.4 1-.4 1-.3 1-.2 1-.3 1-.2 1-.2 1-.1 1-.2 1-.2 1-.1 1-.2 1-.1 1-.2 1-.1 1-.1 1-.1 1-.2 1-.1 1-.1 1-.1 1-.1 1-.1 1-.1 1-.1 1-.1 1-.1 1 0 1-.1 1-.1 1-.1 1-.1 1-.1 1-.1 1-.1 1-.1 1-.1 1-.1 1-.1 1-.1 1 0 1-.1 1-.1 1-.1 1-.1 1 0 1-.1 1 0 1 0 1-.1 1 0 1 0 1-.1 1 0 1 0 1 0 1-.1 1 0 1 0 1 0 1 0 1 0 1-.1 1 0 1 0 1 0 1 0 1 0 1 0 1 0 1 0 1 0 1 0 1 0 1 0 1 0 1 0 1 0 1 0 1 0 1 0 1-.2 1-.6 1-.9 1-1 1-1.5 1-1.7 1-1.5 1-1.4 1-1.4 1-1 1-.7 1-.6 1-.4 1-.1 1 0 1 .1 1 0 1 0 1 .1 1 0 1 .1 1 0 1 .1 1 0 1 0 1 0 1 0 1 0 1 0 1 0 1 0 1 0 1 0 1 0 1 .2 1 .1 1 .2 1 .2 1 .3 1 .1 1 .2 1 .1 1 .2 1 .1 1 .1 1 .1 1 .2 1 .1 1 .2 1 .1 1 .2 1 .2 1 .1 1 0 1 .2 1 .1 1 .2 1 .1 1 .2 1 .1 1 .2 1 .1 1 .2 1 .2 1 .2 1 .2 1 .2 1 .2 1 .2 1 .2 1 .2 1 .2 1 .2 1 .2 1 .2 1 .2 1 .2 1 .2 1 .2 1 .1 1 .2 1 .1 1 .1 1 .1 1 .1 1 0 1 0 1-.1 1 0 1-.1 1-.1 1-.2 1-.3 1-.3 1-.3 1-.3 1-.3 1-.3 1-.3 1-.2 1 0 1 0 1 .1 1 .1 1 .1 1 .2 1 .1 1 .1 1 .2 1 .1 1 .1 1 .2 1 .1 1 .2 1 .2 1 .1 1 .2 1 .1 1 .1 1 .1 1 .1 1 .1 1 .1 1 .1 1 .1 1 .1 1 .1 1 .1 1 0 1 .1 1 0 1 0 1 0 1 0 1 0 1 0 1 0 1 0 1 0 1 0 1 0 1 0 1 0 1 0 1 0 1 0 1 0 1 0 1 0 1 0 1 0 1 0 1 .1 1 .1 1 0 1 .1 1 .1 1 .1 1 .1 1 .2 1 .1 1 .1 1 .1 1 .1 1 0 1 0 1 0 1 0 1 0 1 0 1 0 1 0 1 0 1 0 1 0 1 0 1 0 1 0 1 0 1 .1 1 0 1 .1 1 .1 1 .1 1 .1 1 .1 1 .2 1 .1 1 .1 1 .2 1 .1 1 .1 1 .2 1 .2 1 .1 1 .1 1 .1 1 0 1 0 1 0 1 0 1 0 1 0 1 0 1-.1 1 0 1 0 1 .1 1 .2 1 .3 1 .3 1 .4 1 .6 1 .7V370.5H661.7Z"/>
<path fill="#cab2d6" d="M661.7 339.2l1-.5 1-.4 1-.4 1-.4 1-.4 1-.3 1-.2 1-.3 1-.2 1-.2 1-.1 1-.2 1-.2 1-.1 1-.2 1-.1 1-.2 1-.1 1-.1 1-.1 1-.2 1-.1 1-.1 1-.1 1-.1 1-.1 1-.1 1-.1 1-.1 1-.1 1 0 1-.1 1-.1 1-.1 1-.1 1-.1 1-.1 1-.1 1-.1 1-.1 1-.1 1-.1 1-.1 1 0 1-.1 1-.1 1-.1 1-.1 1 0 1-.1 1 0 1 0 1-.1 1 0 1 0 1-.1 1 0 1 0 1 0 1-.1 1 0 1 0 1 0 1 0 1 0 1-.1 1 0 1 0 1 0 1 0 1 0 1 0 1 0 1 0 1 0 1 0 1 0 1 0 1 0 1 0 1 0 1 0 1 0 1 0 1 .2 1 .2 1 .2 1 .1 1 .2 1 .1 1 .1 1 .1 1 0 1 0 1 0 1 0 1 0 1 0 1 0 1 0 1 0 1 0 1 0 1 0 1 0 1 0 1 0 1 0 1 0 1 0 1-.1 1-.1 1 0 1-.1 1-.1 1 0 1-.1 1 0 1 0 1 0 1 0 1 0 1 0 1 0 1 0 1 0 1 0 1 0 1 0 1 0 1 .1 1 0 1 .1 1 0 1 .1 1 .1 1 0 1 .1 1 0 1 .1 1 0 1 .1 1 0 1 .1 1 0 1 .1 1 0 1 .1 1 0 1 .1 1 0 1 .1 1 0 1 0 1 .1 1 0 1 0 1 0 1 0 1 0 1 0 1 0 1 0 1 0 1 0 1 0 1 0 1 0 1 0 1 0 1 0 1 0 1 0 1 0 1 0 1 0 1 0 1-.7 1-1 1-.8 1-.5 1-.4 1-.4 1-.2 1-.1 1 0 1 0 1 0 1 0 1 0 1 0 1 0 1 0 1 .1 1 .1 1 .1 1 .1 1 .1 1 0 1 0 1 0 1 0 1 0 1 0 1 0 1 0 1 0 1 0 1 0 1 0 1 0 1 0 1-.1 1 0 1-.1 1 0 1-.1 1-.1 1 0 1 0 1-.1 1 0 1 0 1 0 1 0 1 0 1 0 1 0 1 0 1 0 1 0 1 0 1 0 1 0 1 0 1 0 1 0 1 0 1 0 1 0 1 0 1 0 1 .1 1 0 1 0 1 .1 1 0 1 0 1 .1 1 0 1 0 1 0 1 0 1 0 1 0 1 0 1 0 1 0 1 0 1 0 1 0 1 .1 1 0 1 0 1 .1 1 0 1 .1 1 .1 1 .1 1 .1 1 .2 1 .1 1 .1 1 .2 1 .1 1 .2 1 .1 1 .1 1 0 1 0 1 .1 1 0 1 0 1 0 1 0 1 0 1 0 1 0 1 0 1 0 1 0 1 .1 1 .2 1 .2 1 .3 1 .3 1 .4 1 .5V370.5H661.7Z"/>
<path fill="#b2df8a" d="M661.7 339.2l1-.5 1-.4 1-.4 1-.4 1-.4 1-.3 1-.2 1-.3 1-.2 1-.2 1-.1 1-.2 1-.2 1-.1 1-.2 1-.1 1-.2 1-.1 1-.1 1-.1 1-.2 1-.1 1-.1 1-.1 1-.1 1-.1 1-.1 1-.1 1-.1 1-.1 1 0 1-.1 1-.1 1-.1 1-.1 1-.1 1-.1 1-.1 1-.1 1-.1 1-.1 1-.1 1-.1 1 0 1-.1 1-.1 1-.1 1-.1 1 0 1-.1 1 0 1 0 1-.1 1 0 1 0 1-.1 1 0 1 0 1 0 1-.1 1 0 1 0 1 0 1 0 1 0 1-.1 1 0 1 0 1 0 1 0 1 0 1 0 1 0 1 0 1 0 1 0 1 0 1 0 1 0 1 0 1 0 1 0 1 0 1 0 1 .2 1 .2 1 .2 1 .1 1 .2 1 .1 1 .1 1 .1 1 0 1 0 1 0 1 0 1 0 1 0 1 0 1 0 1 0 1 0 1 0 1 0 1 0 1 0 1 0 1 0 1 0 1 0 1-.1 1-.1 1 0 1-.1 1-.1 1 0 1-.1 1 0 1 0 1 0 1 0 1 0 1 0 1 0 1 0 1 0 1 0 1 0 1 0 1 0 1 .1 1 0 1 .1 1 0 1 .1 1 .1 1 0 1 .1 1 0 1 .1 1 0 1 .1 1 0 1 .1 1 0 1 .1 1 0 1 .1 1 0 1 .1 1 0 1 .1 1 0 1 0 1 .1 1 0 1 0 1 0 1 0 1 0 1 0 1 0 1 0 1 0 1 0 1 0 1 0 1 0 1 0 1 0 1 0 1 0 1 0 1 0 1 0 1 0 1 .1 1-.1 1 0 1 .3 1 .6 1 .3 1 .2 1 .4 1 .4 1 .3 1 0 1 0 1-.1 1-.2 1-.1 1-.1 1-.1 1 0 1-.1 1 0 1 0 1-.1 1-.1 1 0 1-.1 1 0 1-.1 1 0 1 0 1 0 1 0 1 0 1 0 1 0 1 0 1 0 1 0 1 0 1 0 1 0 1 0 1 0 1 0 1 0 1 0 1 0 1 0 1 0 1 0 1 0 1 0 1 0 1 0 1 0 1 0 1 0 1 0 1 0 1 .1 1 .1 1 0 1 .1 1 0 1 .1 1 0 1 .1 1 .1 1 0 1 0 1 .1 1 0 1 0 1 0 1 0 1 0 1-.1 1 0 1-.1 1 0 1-.1 1 0 1-.1 1 0 1-.1 1 0 1-.1 1 0 1-.1 1 0 1-.1 1-.1 1-.1 1 0 1-.1 1-.1 1-.1 1 0 1-.1 1-.1 1-.1 1 0 1-.1 1-.1 1 0 1-.1 1 0 1-.1 1 0 1-.1 1 0 1-.1 1 0 1-.1 1 0 1-.1 1-.1 1 .1 1 0 1 .1 1 .1 1 .2 1 .1V370.5H661.7Z"/>
<path fill="#33a02c" d="M661.7 339.3l1-.1 1-.2 1-.1 1-.2 1-.1 1-.2 1-.1 1-.2 1-.1 1-.1 1-.2 1-.1 1-.1 1-.2 1-.1 1-.1 1 0 1-.1 1 0 1-.1 1 0 1 0 1-.1 1 0 1 0 1 0 1 0 1-.1 1 0 1 0 1 0 1 0 1 0 1 0 1 0 1 0 1 0 1 0 1 0 1 0 1 0 1 0 1 .1 1 0 1 0 1 0 1 .1 1 0 1 0 1 .1 1 0 1 0 1 0 1 .1 1 0 1 .1 1 .1 1 0 1 .1 1 .1 1 0 1 .1 1 .1 1 0 1 .1 1 .1 1 0 1 .1 1 0 1 .1 1 0 1 .1 1 0 1 .1 1 0 1 .1 1 0 1 .1 1 0 1 0 1 .1 1 0 1 0 1 0 1 .1 1 0 1 0 1 0 1 0 1 .1 1 0 1 0 1 0 1 0 1 0 1 0 1 0 1 0 1 0 1 0 1 0 1 0 1 0 1 0 1-.1 1 0 1 0 1 0 1-.1 1 0 1 0 1-.1 1 0 1-.1 1 0 1 0 1-.1 1 0 1 0 1 0 1 .1 1 0 1 0 1 .1 1 0 1 .1 1 0 1 .1 1 0 1 .1 1 0 1 .1 1 0 1 .1 1 .1 1 0 1 0 1 .1 1 0 1 0 1 0 1 0 1 0 1 0 1 0 1 0 1 0 1 0 1 0 1 0 1 0 1 0 1 0 1 0 1 0 1 0 1 0 1 0 1 0 1-.1 1 0 1-.1 1-.1 1 0 1-.1 1-.1 1 0 1 0 1 0 1 0 1 0 1 0 1 0 1 0 1 0 1 0 1 0 1 .1 1 .2 1 .3 1 .3 1 .2 1 .2 1 .1 1 0 1 .1 1 .1 1 0 1 0 1 0 1 0 1-.1 1-.1 1-.1 1-.2 1-.1 1-.1 1 0 1-.1 1-.1 1 0 1-.1 1 0 1-.1 1 0 1-.1 1-.1 1 0 1-.1 1-.1 1 0 1-.1 1 0 1 0 1 0 1 0 1 0 1 0 1 0 1 0 1 0 1 0 1 0 1 0 1 0 1 0 1 0 1 .1 1 0 1 .1 1 .1 1 .1 1 0 1 .1 1 0 1 0 1 0 1 0 1 0 1 0 1 0 1 0 1 0 1 0 1 0 1 0 1 0 1 0 1 0 1 .1 1 0 1 0 1 0 1 0 1 0 1 0 1 0 1 0 1 0 1-.1 1 0 1 0 1 0 1 0 1 0 1 0 1 0 1 0 1 0 1 0 1 0 1 0 1 0 1 0 1 0 1 0 1 0 1 0 1 0 1 0 1 0 1 0 1 0 1 0 1-.1 1-.1 1-.1 1-.2 1-.2 1-.3 1-.5 1-.5 1-.5 1-.6 1-.6 1-.6 1-.6 1-.6V370.5H661.7Z"/>
<path fill="#fdbf6f" d="M661.7 339.7l1 .1 1 .1 1 .1 1 .1 1 .1 1 .1 1 .1 1 0 1 .1 1 0 1 .1 1 0 1 .1 1 0 1 0 1 .1 1 0 1 0 1 0 1 .1 1 0 1 0 1 0 1 0 1 0 1 0 1 0 1 0 1 0 1 0 1 .1 1 0 1 0 1 0 1 0 1 0 1 0 1 .1 1 0 1 0 1 0 1 .1 1 0 1 0 1 .1 1 0 1 .1 1 0 1 .1 1 .1 1 0 1 .1 1 .1 1 .1 1 .2 1 .2 1 .2 1 .2 1 .1 1 .2 1 .2 1 .1 1 .2 1 .1 1 .2 1 .1 1 .1 1 .1 1 .1 1 .1 1 .1 1 .1 1 0 1 .1 1 0 1 .1 1 0 1-.1 1 0 1-.1 1-.1 1-.1 1-.1 1-.1 1-.3 1-.3 1-.3 1-.3 1-.2 1-.2 1-.1 1-.1 1-.1 1-.1 1-.1 1 0 1 .1 1 .5 1 .2 1 .1 1 .2 1 .1 1 .1 1 0 1 0 1 0 1 0 1 0 1 0 1 0 1 0 1 0 1 .1 1 0 1 .1 1 .1 1 0 1 .1 1 0 1 0 1 0 1 0 1 0 1 0 1 0 1-.1 1 0 1-.1 1-.1 1 0 1-.1 1 0 1 .1 1 0 1 .1 1 .1 1 0 1 .1 1 0 1 0 1 0 1 0 1 0 1 0 1 0 1 0 1 0 1 0 1 0 1 0 1 0 1 0 1-.1 1 0 1-.1 1 0 1-.1 1-.1 1 0 1 0 1-.1 1 0 1-.1 1 0 1-.1 1-.1 1-.1 1-.1 1-.1 1 0 1-.1 1 0 1 0 1 0 1 0 1 0 1 0 1 .2 1 .4 1 .5 1 .4 1 .2 1 .3 1 .2 1 .2 1 .1 1 0 1-.1 1-.2 1-.2 1-.2 1-.2 1-.2 1-.2 1-.1 1-.2 1-.2 1-.2 1-.1 1-.2 1-.1 1-.2 1-.1 1-.2 1-.1 1-.1 1-.1 1-.1 1-.1 1-.1 1-.1 1-.1 1-.1 1-.1 1-.1 1-.1 1 0 1-.1 1 0 1 0 1 0 1 0 1 0 1 0 1 0 1 0 1 0 1 0 1 0 1 0 1 0 1 0 1 0 1 0 1 0 1 0 1 0 1 0 1 0 1 0 1 0 1 0 1 0 1 0 1 0 1 0 1 0 1 0 1 0 1 0 1 0 1 0 1 0 1 0 1 0 1 0 1 0 1 0 1 0 1 0 1 0 1 0 1 0 1 0 1 0 1 0 1 0 1 0 1 0 1 0 1 0 1 0 1 0 1 0 1 0 1 0 1 0 1 0 1 0 1 0 1 0 1 0 1 0 1 0 1 0 1-.1 1-.2 1-.1 1-.3 1-.4 1-.7 1-.7 1-.7 1-.8 1-.8 1-.8 1-.8 1-.7V370.5H661.7Z"/>
<path fill="#6a3d9a" d="M661.7 339.7l1 .1 1 .1 1 .1 1 .1 1 .1 1 .1 1 .1 1 0 1 .1 1 0 1 .1 1 0 1 .1 1 0 1 0 1 .1 1 0 1 0 1 0 1 .1 1 0 1 0 1 0 1 0 1 0 1 0 1 0 1 0 1 0 1 0 1 .1 1 0 1 0 1 0 1 0 1 0 1 0 1 .1 1 0 1 0 1 0 1 .1 1 0 1 0 1 .1 1 0 1 .1 1 0 1 .1 1 .1 1 0 1 .1 1 .1 1 .1 1 .2 1 .2 1 .2 1 .3 1 .2 1 .3 1 .5 1 .7 1 .7 1 .8 1 .7 1 .7 1 .7 1 .6 1 .6 1 .4 1 .2 1 .3 1 .2 1 .2 1 .1 1 .1 1 0 1 0 1 0 1-.1 1-.1 1-.1 1-.1 1-.2 1-.2 1-.4 1-.4 1-.3 1-.3 1-.3 1-.2 1-.1 1-.2 1-.1 1-.1 1-.1 1 0 1 .3 1 .1 1 0 1 0 1 .1 1 0 1 0 1 0 1 0 1-.1 1-.1 1-.1 1-.1 1-.1 1 0 1 0 1 0 1 0 1 0 1 0 1 0 1 0 1-.1 1 0 1-.1 1-.1 1-.1 1-.1 1-.1 1-.1 1-.2 1-.1 1-.1 1-.1 1 0 1 0 1 .1 1 0 1 .1 1 .1 1 .1 1 .1 1 .2 1 .5 1 0 1 0 1 0 1 0 1 0 1-.1 1-.1 1-.1 1-.1 1-.1 1 0 1 0 1 0 1 0 1 0 1 0 1 0 1 0 1 0 1-.1 1 0 1-.1 1-.1 1 0 1-.1 1-.1 1 0 1-.1 1 0 1-.1 1 0 1 0 1 0 1 0 1 0 1 0 1 0 1 0 1 .1 1 .1 1 0 1 .1 1 0 1 .1 1-.1 1-.1 1-.1 1-.1 1-.2 1-.2 1-.1 1-.2 1-.1 1-.2 1-.2 1-.2 1-.2 1-.2 1-.2 1-.2 1-.2 1-.2 1-.2 1-.2 1-.1 1-.1 1-.2 1-.1 1-.1 1-.1 1-.1 1-.2 1-.1 1-.1 1-.2 1-.1 1-.1 1-.1 1-.1 1-.1 1-.1 1-.1 1 0 1-.1 1 0 1 0 1 0 1 0 1 0 1 0 1 0 1 0 1 0 1 0 1 0 1 0 1 0 1 0 1 0 1 0 1 0 1 0 1 0 1 0 1 0 1 0 1 0 1 0 1 0 1 0 1 0 1 0 1 0 1 0 1 0 1 0 1 0 1 0 1 0 1 0 1 0 1 0 1 0 1 0 1 0 1 0 1 0 1 0 1 0 1 0 1 0 1 0 1 0 1 0 1 0 1 0 1 0 1 0 1 0 1 0 1 0 1 0 1 0 1 0 1-.1 1-.2 1-.1 1-.3 1-.4 1-.7 1-.7 1-.7 1-.8 1-.8 1-.8 1-.8 1-.9V370.5H661.7Z"/>
<path fill="#fb9a99" d="M661.7 339.7l1 .1 1 .1 1 .1 1 .1 1 .1 1 .1 1 .1 1 0 1 .1 1 0 1 .1 1 0 1 .1 1 0 1 0 1 .1 1 0 1 0 1 0 1 .1 1 0 1 0 1 0 1 0 1 0 1 0 1 0 1 0 1 0 1 0 1 .1 1 0 1 0 1 0 1 0 1 0 1 0 1 .1 1 0 1 0 1 0 1 .1 1 0 1 0 1 .1 1 0 1 .1 1 0 1 .1 1 .1 1 0 1 .1 1 .1 1 .1 1 .2 1 .2 1 .2 1 .3 1 .2 1 .3 1 .5 1 .7 1 .7 1 .8 1 .7 1 .7 1 .7 1 .6 1 .6 1 .4 1 .2 1 .3 1 .2 1 .2 1 .1 1 .1 1 0 1 0 1 0 1-.1 1-.1 1-.1 1-.1 1-.2 1-.2 1-.4 1-.4 1-.3 1-.3 1-.3 1-.2 1-.1 1-.2 1-.1 1-.1 1-.1 1 0 1 .3 1 .1 1 0 1 0 1 .1 1 0 1 0 1 0 1 0 1-.1 1-.1 1-.1 1-.1 1-.1 1 0 1 0 1 0 1 0 1 0 1 0 1 0 1 0 1-.1 1 0 1-.1 1-.1 1-.1 1-.1 1-.1 1-.1 1-.2 1-.1 1-.1 1-.1 1 0 1 0 1 .1 1 0 1 .1 1 .1 1 .1 1 .1 1 .2 1 .7 1 .5 1 .6 1 .5 1 .4 1 .1 1 .1 1 .1 1 0 1 0 1 0 1 0 1-.1 1-.1 1-.1 1-.2 1-.2 1-.1 1-.1 1-.1 1-.2 1-.1 1-.2 1-.1 1-.1 1 0 1-.1 1-.1 1 0 1-.1 1 0 1 0 1 0 1 0 1 0 1 0 1 0 1 0 1 0 1 0 1 0 1 0 1 0 1 0 1 0 1-.1 1-.1 1-.1 1-.2 1-.2 1-.2 1-.2 1-.2 1-.2 1-.3 1-.3 1-.2 1-.3 1-.2 1-.3 1-.3 1-.2 1-.3 1-.2 1-.2 1-.2 1-.2 1-.1 1-.2 1-.1 1-.2 1-.1 1-.1 1 0 1-.1 1 0 1 .1 1 0 1 .1 1 .1 1 .3 1 .2 1 .2 1 .2 1 0 1 0 1 0 1 0 1 0 1 0 1 0 1 0 1-.1 1-.1 1-.2 1-.2 1-.3 1-.2 1-.2 1-.2 1-.2 1-.1 1-.1 1-.1 1-.1 1 0 1 0 1-.1 1 0 1 0 1 0 1-.1 1 0 1 0 1 0 1 0 1 0 1 0 1 0 1 0 1 0 1-.1 1 0 1 0 1 0 1 0 1 0 1 0 1 0 1 0 1 0 1 0 1 0 1 0 1 0 1 0 1 0 1 0 1 0 1 0 1 0 1 0 1 0 1-.1 1 0 1-.1 1-.1 1-.2 1-.3 1-.4 1-.7 1-.7 1-.7 1-.8 1-.8 1-.8 1-.8 1-.9V370.5H661.7Z"/>
<path fill="#a6cee3" d="M661.7 339.7l1 .1 1 .1 1 .1 1 .1 1 .1 1 .1 1 .1 1 0 1 .1 1 0 1 .1 1 0 1 .1 1 0 1 0 1 .1 1 0 1 0 1 0 1 .1 1 0 1 0 1 0 1 0 1 0 1 0 1 0 1 0 1 0 1 0 1 .1 1 0 1 0 1 0 1 0 1 0 1 0 1 .1 1 0 1 0 1 0 1 .1 1 0 1 0 1 .1 1 0 1 .1 1 0 1 .1 1 .1 1 0 1 .1 1 .1 1 .1 1 .2 1 .2 1 .2 1 .3 1 .2 1 .3 1 .5 1 .7 1 .7 1 .8 1 .7 1 .7 1 .7 1 .6 1 .6 1 .4 1 .2 1 .3 1 .2 1 .2 1 .1 1 .1 1 0 1 0 1 0 1-.1 1-.1 1-.1 1-.1 1-.2 1-.2 1-.4 1-.4 1-.3 1-.3 1-.3 1-.2 1-.1 1-.2 1-.1 1-.1 1-.1 1 0 1 .3 1 .1 1 0 1 0 1 .1 1 0 1 0 1 0 1 0 1-.1 1-.1 1-.1 1-.1 1-.1 1 0 1 0 1 0 1 0 1 0 1 0 1 0 1 0 1-.1 1 0 1-.1 1-.1 1-.1 1-.1 1-.1 1-.1 1-.2 1-.1 1-.1 1-.1 1 0 1 0 1 .1 1 0 1 .1 1 .1 1 .1 1 .1 1 .2 1 .7 1 .5 1 .6 1 .5 1 .4 1 .1 1 .1 1 .1 1 0 1 0 1 0 1 0 1-.1 1-.1 1-.1 1-.2 1-.2 1-.1 1-.1 1-.1 1-.2 1-.1 1-.2 1-.1 1-.1 1 0 1-.1 1-.1 1 0 1-.1 1 0 1 0 1 0 1 0 1 0 1 0 1 0 1 0 1 0 1 0 1 0 1 0 1 0 1 0 1 0 1-.1 1-.1 1-.1 1-.2 1-.2 1-.2 1-.2 1-.2 1-.2 1-.3 1-.3 1-.2 1-.3 1-.2 1-.3 1-.3 1-.2 1-.3 1-.2 1-.2 1 .1 1 .1 1 .2 1 .3 1 .3 1 .2 1 .1 1 .1 1 .2 1 .1 1 .1 1 .1 1 .2 1 .2 1 .2 1 .3 1 .3 1 .3 1 .2 1 .2 1 0 1 .1 1 .1 1 .1 1 0 1 .1 1 .1 1 0 1 0 1-.1 1-.1 1-.1 1-.2 1-.2 1-.2 1-.2 1-.1 1-.1 1-.1 1-.1 1 0 1 0 1-.1 1 0 1 0 1 0 1-.1 1 0 1 0 1 0 1 0 1 0 1 0 1 0 1-.1 1 0 1-.1 1-.1 1 0 1-.1 1-.1 1 0 1-.1 1-.1 1-.1 1-.1 1-.1 1-.1 1-.1 1-.1 1-.1 1-.1 1-.1 1-.1 1-.2 1-.1 1-.1 1-.2 1-.2 1-.2 1-.3 1-.4 1-.4 1-.5 1-.7 1-.9 1-.9 1-.9 1-.9 1-1 1-1 1-.9 1-1V370.5H661.7Z"/>
</g>
<text x="802.1" y="301.3" font-size="11.4" fill="#000" text-anchor="middle" >UKR</text>
<text x="831.7" y="322.5" font-size="7.9" fill="#fff" text-anchor="middle" >MDA</text>
<text x="825" y="360" font-size="8.9" fill="#000" text-anchor="middle" >KGZ</text>
<text x="767" y="330" font-size="8.3" fill="#fff" text-anchor="middle" >BOL</text>
<text x="849.5" y="335" font-size="4.1" fill="#555" text-anchor="middle" >STP</text>
<text x="785" y="337.5" font-size="4.4" fill="#33471c" text-anchor="middle" >EGY</text>
<text x="740" y="343.7" font-size="4.5" fill="#c8e8a8" text-anchor="middle" >SWZ</text>
<!-- chart g -->
<clipPath id="cg"><path d="M43.7 472.2l1-.1 1 0 1 0 1 0 1 0 1 0 1-.1 1 0 1 0 1 0 1 0 1 0 1 0 1 0 1 0 1 0 1 0 1 0 1 0 1 0 1 0 1 0 1 0 1 0 1 0 1 0 1 0 1 0 1 0 1 0 1 0 1 0 1 0 1 0 1 0 1 0 1 0 1 0 1 0 1 0 1 0 1 0 1 0 1 0 1 0 1 0 1 0 1 0 1 0 1 0 1 0 1 0 1 0 1 0 1 0 1 0 1 0 1 0 1 0 1 0 1-.1 1-.1 1-.1 1-.2 1-.2 1-.2 1-.3 1-.3 1-.3 1-.4 1-.5 1-.5 1-.8 1-.8 1-.7 1-.6 1-.3 1-.2 1-.2 1-.2 1-.1 1-.1 1-.1 1-.1 1-.1 1 0 1-.1 1-.1 1-.1 1-.1 1-.2 1-.4 1-.3 1-.5 1-.3 1-.5 1-.5 1-.4 1-.5 1-.3 1-.3 1-.3 1-.3 1-.1 1 0 1 .1 1 .2 1 .3 1 .3 1 .3 1 .4 1 .3 1 .4 1 .3 1 .3 1 .3 1 .2 1 .2 1 .2 1 0 1 0 1-.1 1-.1 1-.1 1-.1 1-.1 1-.1 1-.1 1-.2 1-.2 1-.2 1-.2 1-.2 1-.1 1-.2 1-.1 1-.1 1-.2 1-.1 1-.2 1-.3 1-.3 1-.3 1-.4 1-.4 1-.5 1-.5 1-.6 1-.8 1-.8 1-.9 1-1.1 1-1.1 1-1 1-.7 1-.5 1-.5 1-.3 1-.1 1 .3 1 .6 1 .8 1 .8 1 .9 1 1.2 1 1.1 1 .9 1 .5 1 .6 1 .4 1 .2 1-.1 1-.5 1-.6 1-.4 1 0 1 .2 1 .3 1 .4 1 .3 1 .5 1 .4 1 .5 1 .4 1 .4 1 .3 1 .3 1 .2 1 .3 1 .2 1 .2 1 .1 1 .2 1 .1 1 .1 1 .1 1 .2 1 .1 1 .1 1 .2 1 .1 1 .2 1 .1 1 .1 1 0 1-.1 1-.1 1-.1 1-.2 1-.2 1-.3 1-.4 1-.5 1-.5 1-.7 1-.7 1-.9 1-1.1 1-1.1 1-1.3 1-1.5 1-1.8 1-1.9 1-2.3 1-2.6 1-3.2 1-3.8 1-4.8 1-5.2 1-6.1 1-3.3 1-2 1-.8 1 .4 1 .8 1 1 1 1.1 1 1.3 1 1 1 .2 1-.6 1-.9 1-1 1-1.2 1-1.2 1-.8 1 0 1 .5 1 .6 1 .8 1 1 1 1.2 1 .8 1 .6 1 .5 1 .2 1-.1 1-.4 1-.7 1-.6 1-.7 1-.9 1-.8 1-.6 1-.2 1 .2 1 .1 1 .1 1-.5 1-1.1 1-1.4 1-1.4 1-1.9 1-1.9 1-1.5 1-1.3 1-1.1 1-.4 1 .3 1 .8 1 1.1 1 1.3 1 1.9 1 1.7 1 .4 1-.2 1-.3 1-.4 1-.7 1-.9 1-1 1-.6 1-.7 1-.5 1-.4 1-.3 1-.3 1-.2 1-.2 .3 0L343 547.5l-.3 0-1 0-1 0-1 0-1 0-1 0-1-.3-1-.3-1-.4-1-.5-1-.8-1-.8-1-.5-1-.6-1-.4-1 .1-1 .4-1 .6-1 .8-1 1.3-1 .9-1 .3-1 .2-1-.1-1-.7-1-1.3-1-1.2-1-1-1-1.1-1-.7-1-.3-1-.1-1-.1-1 0-1 .4-1 .5-1 .3-1-.2-1-.6-1-.6-1-.8-1-1-1-.8-1-.5-1-.4-1-.1-1 .6-1 .9-1 .8-1 1-1 .9-1 .4-1 0-1 0-1 0-1-.1-1-.4-1-.6-1-.1-1 .7-1 1.1-1 1.3-1 1.5-1 1-1 .6-1 .4-1-.6-1-1.7-1-3.6-1-5.6-1-6.3-1-4.3-1-.5-1-.7-1-3-1-3.6-1-2.4-1-2.2-1-2-1-1.7-1-1.6-1-1.4-1-1.4-1-1.2-1-1.2-1-1.1-1-1.1-1-.8-1-.9-1-.8-1-.7-1-.4-1-.1-1-.1-1-.1-1-.1-1 0-1-.1-1 0-1 .1-1 0-1 .1-1 .1-1 .1-1 .1-1 .1-1 .1-1 0-1 .1-1 .1-1 .1-1 .2-1 .2-1 .5-1 .5-1 .5-1 .6-1 .4-1 .4-1 .4-1 .3-1 .3-1 .2-1 0-1-.1-1-.1-1-.1-1-.1-1-.1-1 .1-1 .1-1 .1-1 .1-1 .2-1 .3-1 .5-1 .4-1 .3-1 .1-1 0-1 0-1 0-1 0-1 0-1-.4-1-.6-1-.8-1-.7-1-.7-1-.6-1-.7-1-.6-1-.6-1-.4-1-.4-1-.2-1-.3-1-.3-1-.3-1-.3-1-.4-1-.4-1-.4-1-.4-1-.4-1-.4-1-.5-1-.4-1-.4-1-.4-1-.4-1-.4-1-.3-1-.1-1-.1-1-.1-1-.1-1 0-1 0-1 .1-1 .2-1 .2-1 .2-1 .2-1 .2-1 .2-1 .3-1 .2-1 .3-1 .4-1 .4-1 .4-1 .3-1 .1-1-.1-1-.1-1-.2-1-.2-1-.2-1-.3-1-.5-1-.5-1-.5-1-.4-1-.4-1-.4-1-.4-1-.4-1-.3-1-.4-1-.3-1-.2-1-.3-1-.2-1-.3-1-.2-1-.2-1-.2-1-.2-1-.2-1-.2-1-.2-1-.2-1-.3-1-.3-1-.4-1-.4-1-.5-1-.4-1-.4-1-.5-1-.4-1-.4-1-.2-1-.3-1-.2-1-.1-1-.2-1-.1-1-.1-1 0-1 0-1 0-1 0-1 0-1 0-1 0-1 0-1 0-1 0-1 0-1 0-1 0-1 0-1 0-1 0-1 0-1 0-1 0-1-.1-1 0-1 0-1-.1-1 0-1 0-1 0-1-.1-1 0-1 0-1 0-1 0-1 0-1 0-1 0-1 0-1 0-1 0-1 0-1 0-1 0-1 0-1 0-1 0-1 0-1 0-1 0-1 0-1 0-1 0-1 0-1-.1-1 0-1 0-1-.1-1 0-1-.1-1 0-1-.1-1 0-1-.1Z"/></clipPath>
<path d="M43.7 472.2l1-.1 1 0 1 0 1 0 1 0 1 0 1-.1 1 0 1 0 1 0 1 0 1 0 1 0 1 0 1 0 1 0 1 0 1 0 1 0 1 0 1 0 1 0 1 0 1 0 1 0 1 0 1 0 1 0 1 0 1 0 1 0 1 0 1 0 1 0 1 0 1 0 1 0 1 0 1 0 1 0 1 0 1 0 1 0 1 0 1 0 1 0 1 0 1 0 1 0 1 0 1 0 1 0 1 0 1 0 1 0 1 0 1 0 1 0 1 0 1 0 1-.1 1-.1 1-.1 1-.2 1-.2 1-.2 1-.3 1-.3 1-.3 1-.4 1-.5 1-.5 1-.8 1-.8 1-.7 1-.6 1-.3 1-.2 1-.2 1-.2 1-.1 1-.1 1-.1 1-.1 1-.1 1 0 1-.1 1-.1 1-.1 1-.1 1-.2 1-.4 1-.3 1-.5 1-.3 1-.5 1-.5 1-.4 1-.5 1-.3 1-.3 1-.3 1-.3 1-.1 1 0 1 .1 1 .2 1 .3 1 .3 1 .3 1 .4 1 .3 1 .4 1 .3 1 .3 1 .3 1 .2 1 .2 1 .2 1 0 1 0 1-.1 1-.1 1-.1 1-.1 1-.1 1-.1 1-.1 1-.2 1-.2 1-.2 1-.2 1-.2 1-.1 1-.2 1-.1 1-.1 1-.2 1-.1 1-.2 1-.3 1-.3 1-.3 1-.4 1-.4 1-.5 1-.5 1-.6 1-.8 1-.8 1-.9 1-1.1 1-1.1 1-1 1-.7 1-.5 1-.5 1-.3 1-.1 1 .3 1 .6 1 .8 1 .8 1 .9 1 1.2 1 1.1 1 .9 1 .5 1 .6 1 .4 1 .2 1-.1 1-.5 1-.6 1-.4 1 0 1 .2 1 .3 1 .4 1 .3 1 .5 1 .4 1 .5 1 .4 1 .4 1 .3 1 .3 1 .2 1 .3 1 .2 1 .2 1 .1 1 .2 1 .1 1 .1 1 .1 1 .2 1 .1 1 .1 1 .2 1 .1 1 .2 1 .1 1 .1 1 0 1-.1 1-.1 1-.1 1-.2 1-.2 1-.3 1-.4 1-.5 1-.5 1-.7 1-.7 1-.9 1-1.1 1-1.1 1-1.3 1-1.5 1-1.8 1-1.9 1-2.3 1-2.6 1-3.2 1-3.8 1-4.8 1-5.2 1-6.1 1-3.3 1-2 1-.8 1 .4 1 .8 1 1 1 1.1 1 1.3 1 1 1 .2 1-.6 1-.9 1-1 1-1.2 1-1.2 1-.8 1 0 1 .5 1 .6 1 .8 1 1 1 1.2 1 .8 1 .6 1 .5 1 .2 1-.1 1-.4 1-.7 1-.6 1-.7 1-.9 1-.8 1-.6 1-.2 1 .2 1 .1 1 .1 1-.5 1-1.1 1-1.4 1-1.4 1-1.9 1-1.9 1-1.5 1-1.3 1-1.1 1-.4 1 .3 1 .8 1 1.1 1 1.3 1 1.9 1 1.7 1 .4 1-.2 1-.3 1-.4 1-.7 1-.9 1-1 1-.6 1-.7 1-.5 1-.4 1-.3 1-.3 1-.2 1-.2 .3 0L343 547.5l-.3 0-1 0-1 0-1 0-1 0-1 0-1-.3-1-.3-1-.4-1-.5-1-.8-1-.8-1-.5-1-.6-1-.4-1 .1-1 .4-1 .6-1 .8-1 1.3-1 .9-1 .3-1 .2-1-.1-1-.7-1-1.3-1-1.2-1-1-1-1.1-1-.7-1-.3-1-.1-1-.1-1 0-1 .4-1 .5-1 .3-1-.2-1-.6-1-.6-1-.8-1-1-1-.8-1-.5-1-.4-1-.1-1 .6-1 .9-1 .8-1 1-1 .9-1 .4-1 0-1 0-1 0-1-.1-1-.4-1-.6-1-.1-1 .7-1 1.1-1 1.3-1 1.5-1 1-1 .6-1 .4-1-.6-1-1.7-1-3.6-1-5.6-1-6.3-1-4.3-1-.5-1-.7-1-3-1-3.6-1-2.4-1-2.2-1-2-1-1.7-1-1.6-1-1.4-1-1.4-1-1.2-1-1.2-1-1.1-1-1.1-1-.8-1-.9-1-.8-1-.7-1-.4-1-.1-1-.1-1-.1-1-.1-1 0-1-.1-1 0-1 .1-1 0-1 .1-1 .1-1 .1-1 .1-1 .1-1 .1-1 0-1 .1-1 .1-1 .1-1 .2-1 .2-1 .5-1 .5-1 .5-1 .6-1 .4-1 .4-1 .4-1 .3-1 .3-1 .2-1 0-1-.1-1-.1-1-.1-1-.1-1-.1-1 .1-1 .1-1 .1-1 .1-1 .2-1 .3-1 .5-1 .4-1 .3-1 .1-1 0-1 0-1 0-1 0-1 0-1-.4-1-.6-1-.8-1-.7-1-.7-1-.6-1-.7-1-.6-1-.6-1-.4-1-.4-1-.2-1-.3-1-.3-1-.3-1-.3-1-.4-1-.4-1-.4-1-.4-1-.4-1-.4-1-.5-1-.4-1-.4-1-.4-1-.4-1-.4-1-.3-1-.1-1-.1-1-.1-1-.1-1 0-1 0-1 .1-1 .2-1 .2-1 .2-1 .2-1 .2-1 .2-1 .3-1 .2-1 .3-1 .4-1 .4-1 .4-1 .3-1 .1-1-.1-1-.1-1-.2-1-.2-1-.2-1-.3-1-.5-1-.5-1-.5-1-.4-1-.4-1-.4-1-.4-1-.4-1-.3-1-.4-1-.3-1-.2-1-.3-1-.2-1-.3-1-.2-1-.2-1-.2-1-.2-1-.2-1-.2-1-.2-1-.2-1-.3-1-.3-1-.4-1-.4-1-.5-1-.4-1-.4-1-.5-1-.4-1-.4-1-.2-1-.3-1-.2-1-.1-1-.2-1-.1-1-.1-1 0-1 0-1 0-1 0-1 0-1 0-1 0-1 0-1 0-1 0-1 0-1 0-1 0-1 0-1 0-1 0-1 0-1 0-1 0-1-.1-1 0-1 0-1-.1-1 0-1 0-1 0-1-.1-1 0-1 0-1 0-1 0-1 0-1 0-1 0-1 0-1 0-1 0-1 0-1 0-1 0-1 0-1 0-1 0-1 0-1 0-1 0-1 0-1 0-1 0-1 0-1-.1-1 0-1 0-1-.1-1 0-1-.1-1 0-1-.1-1 0-1-.1Z" fill="#e31a1c" stroke="#c2a57c" stroke-opacity=".55" stroke-width="2.6" stroke-dasharray="3.5 2" stroke-linejoin="round" paint-order="stroke"/>
<g clip-path="url(#cg)">
<path fill="#ffff99" d="M43.7 472.2l1-.1 1 0 1 0 1 0 1 0 1 0 1-.1 1 0 1 0 1 0 1 0 1 0 1 0 1 0 1 0 1 0 1 0 1 0 1 0 1 0 1 0 1 0 1 0 1 0 1 0 1 0 1 0 1 0 1 0 1 0 1 0 1 0 1 0 1 0 1 0 1 0 1 0 1 0 1 0 1 0 1 0 1 0 1 0 1 0 1 0 1 0 1 0 1 0 1 0 1 0 1 0 1 0 1 0 1 0 1 0 1 0 1 0 1 0 1 0 1 0 1-.1 1-.1 1-.1 1-.2 1-.2 1-.2 1-.3 1-.3 1-.3 1-.4 1-.5 1-.5 1-.8 1-.8 1-.7 1-.6 1-.3 1-.2 1-.2 1-.2 1-.1 1-.1 1-.1 1-.1 1-.1 1 0 1-.1 1-.1 1-.1 1-.1 1-.2 1-.4 1-.3 1-.5 1-.3 1-.5 1-.5 1-.4 1-.5 1-.3 1-.3 1-.3 1-.3 1-.1 1 0 1 .1 1 .2 1 .3 1 .4 1 .3 1 .3 1 .4 1 .3 1 .4 1 .3 1 .2 1 .3 1 .3 1 .1 1 .1 1 0 1-.1 1 0 1-.1 1-.1 1-.1 1-.1 1-.1 1-.1 1-.2 1-.2 1-.1 1-.2 1-.1 1-.1 1-.1 1-.1 1-.2 1-.1 1-.2 1-.2 1-.3 1-.3 1-.3 1-.4 1-.5 1-.5 1-.6 1-.7 1-.8 1-.9 1-1.1 1-1.1 1-1 1-.6 1-.6 1-.4 1-.3 1-.1 1 .3 1 .7 1 .8 1 .8 1 1 1 1.1 1 1.2 1 .8 1 .6 1 .6 1 .4 1 .2 1-.1 1-.4 1-.6 1-.4 1 0 1 .2 1 .4 1 .3 1 .4 1 .5 1 .4 1 .5 1 .5 1 .3 1 .3 1 .3 1 .3 1 .3 1 .2 1 .2 1 .2 1 .1 1 .1 1 .2 1 .1 1 .1 1 .1 1 .2 1 .2 1 .1 1 .2 1 .1 1 .1 1 0 1 0 1-.1 1-.2 1-.2 1-.2 1-.2 1-.4 1-.5 1-.6 1-.6 1-.7 1-.9 1-1.1 1-1.1 1-1.3 1-1.5 1-1.7 1-2 1-2.2 1-2.7 1-3.1 1-3.8 1-4.8 1-5.2 1-6.2 1-3.2 1-2.1 1-.7 1 .4 1 .8 1 1 1 1 1 1.3 1 1.1 1 .2 1-.6 1-.9 1-1 1-1.1 1-1.3 1-.8 1 0 1 .5 1 .6 1 .8 1 1 1 1.2 1 .8 1 .6 1 .5 1 .3 1-.1 1-.5 1-.6 1-.7 1-.6 1-.9 1-.9 1-.6 1-.1 1 .1 1 .2 1 0 1-.4 1-1.2 1-1.3 1-1.5 1-1.9 1-1.9 1-1.4 1-1.3 1-1.1 1-.4 1 .3 1 .8 1 1 1 1.4 1 1.9 1 1.7 1 .3 1-.1 1-.3 1-.4 1-.7 1-1 1-.9 1-.7 1-.6 1-.5 1-.4 1-.3 1-.3 1-.2 1-.2 .3 0V550.5H43.7Z"/>
<path fill="#ff7f00" d="M43.7 472.2l1-.1 1 0 1 0 1 0 1 0 1 0 1-.1 1 0 1 0 1 0 1 0 1 0 1 0 1 0 1 0 1 0 1 0 1 0 1 0 1 0 1 0 1 0 1 0 1 0 1 0 1 0 1 0 1 0 1 0 1 0 1 0 1 0 1 0 1 0 1 0 1 0 1 0 1 0 1 0 1 0 1 0 1 0 1 0 1 0 1 0 1 0 1 0 1 0 1 0 1 0 1 0 1 0 1 0 1 0 1 0 1 0 1 0 1 0 1 0 1 0 1-.1 1-.1 1-.1 1-.2 1-.2 1-.2 1-.3 1-.3 1-.3 1-.4 1-.5 1-.5 1-.8 1-.8 1-.7 1-.6 1-.3 1-.2 1-.2 1-.2 1-.1 1-.1 1-.1 1-.1 1-.1 1 0 1-.1 1-.1 1-.1 1-.1 1-.2 1-.4 1-.3 1-.5 1-.3 1-.5 1-.5 1-.4 1-.5 1-.3 1-.3 1-.3 1-.3 1-.1 1 0 1 .1 1 .2 1 .3 1 .4 1 .3 1 .3 1 .4 1 .4 1 .3 1 .3 1 .3 1 .3 1 .3 1 .1 1 .1 1 0 1 0 1-.1 1 0 1-.1 1 0 1-.1 1-.1 1-.2 1-.1 1-.2 1-.1 1-.1 1-.1 1-.1 1-.1 1-.1 1-.1 1-.2 1-.1 1-.2 1-.3 1-.3 1-.3 1-.4 1-.5 1-.5 1-.6 1-.7 1-.8 1-.9 1-1.1 1-1.1 1-1 1-.6 1-.5 1-.5 1-.3 1-.1 1 .4 1 .6 1 .8 1 .8 1 1 1 1.2 1 1.1 1 .9 1 .6 1 .5 1 .5 1 .2 1-.1 1-.5 1-.5 1-.4 1-.1 1 .3 1 .3 1 .4 1 .4 1 .4 1 .5 1 .5 1 .4 1 .4 1 .3 1 .3 1 .3 1 .2 1 .2 1 .2 1 .2 1 .2 1 .1 1 .1 1 .2 1 .1 1 .1 1 .2 1 .1 1 .2 1 .2 1 .1 1 .1 1 0 1 0 1-.1 1-.2 1-.2 1-.2 1-.2 1-.4 1-.5 1-.5 1-.6 1-.8 1-.9 1-1 1-1.1 1-1.2 1-1.5 1-1.7 1-1.9 1-2.3 1-2.6 1-3.2 1-3.8 1-4.7 1-5.2 1-6.2 1-3.2 1-2 1-.8 1 .4 1 .8 1 1 1 1.1 1 1.3 1 1 1 .2 1-.6 1-.9 1-1 1-1.1 1-1.3 1-.8 1 .1 1 .4 1 .7 1 .7 1 1.1 1 1.2 1 .8 1 .6 1 .5 1 .2 1-.1 1-.4 1-.6 1-.7 1-.7 1-.8 1-.9 1-.6 1-.1 1 .1 1 .1 1 .1 1-.5 1-1.1 1-1.3 1-1.5 1-1.9 1-1.9 1-1.4 1-1.4 1-1 1-.5 1 .4 1 .8 1 1 1 1.4 1 1.9 1 1.7 1 .3 1-.1 1-.3 1-.4 1-.7 1-1 1-.9 1-.7 1-.6 1-.5 1-.4 1-.3 1-.3 1-.2 1-.2 .3 0V550.5H43.7Z"/>
<path fill="#fdbf6f" d="M43.7 475.3l1 0 1 0 1 0 1 0 1 0 1 0 1 0 1 0 1 0 1 0 1 0 1 0 1 0 1 0 1 0 1 0 1 0 1 0 1 0 1 0 1 0 1 0 1 0 1 0 1 0 1 0 1 0 1 0 1 0 1 0 1 0 1 0 1 0 1 0 1 0 1 0 1 0 1 0 1 0 1 0 1 0 1 0 1 0 1 0 1 0 1 0 1 0 1 0 1 0 1 0 1-.1 1 0 1-.1 1 0 1-.1 1-.1 1 0 1-.1 1-.1 1-.1 1-.1 1-.1 1-.1 1-.2 1-.2 1-.2 1-.2 1-.2 1-.3 1-.3 1-.3 1-.2 1-.2 1-.1 1-.2 1-.1 1 0 1-.1 1-.1 1-.1 1-.1 1 0 1-.1 1-.1 1-.1 1 0 1-.1 1-.1 1-.2 1-.1 1-.1 1-.2 1-.1 1-.1 1-.2 1-.1 1-.1 1-.2 1-.1 1-.1 1-.1 1-.1 1-.1 1 0 1-.1 1 0 1 0 1 0 1 .1 1 .1 1 .1 1 .1 1 .1 1 .1 1 .2 1 .2 1 .2 1 .2 1 .2 1 .1 1 .1 1 .1 1 .1 1 .1 1 0 1 0 1 0 1 0 1-.1 1-.1 1-.1 1-.1 1-.1 1 0 1-.1 1 0 1 0 1-.1 1 0 1-.1 1-.2 1-.3 1-.4 1-.5 1-.4 1-.5 1-.5 1-.6 1-.6 1-.7 1-.6 1-.8 1-.7 1-.7 1-.5 1-.4 1-.4 1-.3 1 0 1 .2 1 .5 1 .7 1 .6 1 .6 1 .7 1 .7 1 .6 1 .4 1 .3 1 .3 1 .2 1 0 1-.1 1-.2 1-.1 1-.1 1 0 1 .1 1 .1 1 .1 1 .2 1 .1 1 .2 1 .1 1 .2 1 .2 1 .2 1 .2 1 .1 1 .2 1 .1 1 .1 1 .2 1 .1 1 .1 1 0 1 .1 1 .1 1 0 1 .1 1 0 1 .1 1 0 1 0 1 0 1 0 1 0 1-.1 1 0 1-.1 1-.1 1-.1 1-.4 1-.4 1-.5 1-.6 1-.7 1-.8 1-.9 1-1.2 1-1.2 1-1.4 1-1.7 1-2.1 1-2.3 1-2.8 1-3.9 1-4.1 1-3.6 1-3.6 1-2.8 1-1.1 1-.8 1-.2 1 1 1 1.6 1 1.4 1 1.1 1 1 1 .9 1 .5 1-.2 1-.8 1-1 1-.7 1-.6 1-.4 1 .4 1 1.2 1 1.5 1 1.3 1 1.7 1 1.6 1 1.2 1 1 1 .9 1 .4 1-.1 1-.4 1-.6 1-.4 1-.4 1-.3 1-.3 1-.3 1-.4 1-.6 1-.9 1-1.1 1-1.1 1-1.3 1-1.5 1-1.7 1-1.3 1-.9 1-.7 1-.5 1-.2 1 .5 1 1.2 1 1.3 1 1.1 1 1.4 1 .9 1 .2 1-.6 1-.9 1-1 1-.7 1-.8 1-.9 1-.8 1-.8 1-.8 1-.8 1-.8 1-.7 1-.7 1-.6 .3-.2V550.5H43.7Z"/>
<path fill="#1f78b4" d="M43.7 475.6l1 0 1 0 1 0 1 0 1 0 1 0 1 0 1 0 1 0 1 0 1 0 1 0 1 0 1 0 1 .1 1 0 1 0 1 0 1 0 1 0 1 0 1 0 1 0 1 0 1 0 1 0 1 0 1 0 1 0 1 0 1 0 1 0 1 0 1 0 1 0 1 0 1 0 1 0 1 0 1 0 1 0 1 0 1 0 1 0 1 0 1 0 1 0 1 0 1 0 1 0 1-.1 1 0 1-.1 1 0 1-.1 1 0 1-.1 1-.1 1-.1 1 0 1-.1 1-.2 1-.1 1-.2 1-.2 1-.1 1-.2 1-.3 1-.3 1-.3 1-.2 1-.3 1-.1 1-.2 1-.1 1-.1 1-.1 1-.1 1 0 1-.1 1-.1 1-.1 1 0 1-.1 1-.1 1-.1 1 0 1-.2 1-.1 1-.1 1-.1 1-.2 1-.1 1-.1 1-.2 1-.1 1-.1 1-.1 1-.2 1-.1 1-.1 1-.1 1 0 1-.1 1-.1 1 0 1 0 1 0 1 .1 1 .1 1 .1 1 .1 1 .1 1 .1 1 .2 1 .2 1 .2 1 .2 1 .2 1 .1 1 .1 1 .1 1 .1 1 .1 1 .1 1 0 1 0 1-.1 1 0 1-.1 1-.1 1-.1 1-.1 1 0 1-.1 1 0 1-.1 1 0 1-.1 1-.1 1-.1 1-.4 1-.3 1-.5 1-.4 1-.5 1-.5 1-.6 1-.6 1-.7 1-.6 1-.8 1-.7 1-.7 1-.5 1-.4 1-.4 1-.2 1-.1 1 .3 1 .5 1 .6 1 .6 1 .6 1 .8 1 .7 1 .5 1 .4 1 .4 1 .3 1 .1 1 0 1-.1 1-.2 1-.1 1-.1 1 0 1 .1 1 .1 1 .2 1 .1 1 .1 1 .2 1 .2 1 .2 1 .2 1 .1 1 .2 1 .2 1 .1 1 .1 1 .2 1 .1 1 .1 1 .1 1 .1 1 .1 1 0 1 .1 1 0 1 .1 1 0 1 0 1 .1 1 0 1-.1 1 0 1 0 1-.1 1-.1 1 0 1-.2 1-.3 1-.4 1-.5 1-.6 1-.7 1-.8 1-.9 1-1.2 1-1.2 1-1.4 1-1.7 1-1.9 1-2.3 1-2.6 1-3.7 1-4 1-3.5 1-3.5 1-2.8 1-1.1 1-.8 1-.2 1 1 1 1.6 1 1.4 1 1.1 1 1 1 .9 1 .5 1-.2 1-.8 1-1 1-.7 1-.6 1-.4 1 .4 1 1.2 1 1.5 1 1.3 1 1.7 1 1.6 1 1.2 1 1 1 .9 1 .4 1-.1 1-.4 1-.6 1-.4 1-.4 1-.3 1-.3 1-.3 1-.4 1-.6 1-.9 1-1.1 1-1.2 1-1.3 1-1.6 1-1.7 1-1.4 1-.9 1-.7 1-.5 1-.2 1 .5 1 1.2 1 1.3 1 1.1 1 1.3 1 1 1 .1 1-.6 1-.9 1-.9 1-.8 1-.8 1-.8 1-.8 1-.9 1-.8 1-.8 1-.8 1-.7 1-.7 1-.6 .3-.2V550.5H43.7Z"/>
<path fill="#33a02c" d="M43.7 477l1 0 1-.1 1 0 1 0 1-.1 1 0 1 0 1-.1 1 0 1 0 1 0 1 0 1 0 1 0 1 0 1 0 1 0 1 0 1 0 1 0 1 0 1 0 1 0 1 0 1 0 1 0 1 0 1 0 1 0 1 0 1 0 1-.1 1 0 1 0 1 0 1 0 1-.1 1 0 1 0 1-.1 1 0 1 0 1 0 1 0 1-.1 1 0 1 0 1 0 1 0 1 0 1 0 1 0 1 0 1 0 1 0 1 0 1 0 1 0 1 0 1 0 1 .1 1 .1 1 .1 1 .1 1 .1 1 .2 1 .1 1 .1 1 .2 1 .2 1 .1 1 .2 1 .1 1 .1 1 .1 1 .1 1 .1 1 .1 1 .1 1 .1 1 .1 1 .1 1 0 1 .1 1 .1 1 0 1 .1 1 .1 1 0 1 0 1 .1 1 0 1 .1 1 .1 1 .1 1 .1 1 .1 1 0 1 .1 1 0 1 0 1 0 1 0 1 0 1 0 1 0 1 0 1 0 1-.1 1 0 1-.1 1-.1 1 0 1-.1 1-.1 1 0 1-.1 1-.1 1-.1 1-.1 1 0 1-.1 1-.1 1-.1 1 0 1-.1 1-.1 1 0 1-.1 1 0 1-.1 1 0 1-.1 1-.1 1-.1 1-.1 1-.1 1-.2 1-.1 1-.1 1-.2 1-.2 1-.1 1-.2 1-.1 1 0 1 0 1 .3 1 .5 1 .4 1 .4 1 .2 1 .2 1 .2 1 .2 1 .1 1-.1 1-.1 1-.2 1-.2 1-.2 1-.2 1-.2 1-.2 1-.1 1-.2 1-.1 1-.1 1 0 1-.1 1-.1 1 0 1-.1 1-.1 1 0 1-.1 1-.1 1 0 1 0 1 0 1 0 1 0 1 0 1 .1 1 0 1 .1 1 .1 1 0 1 .1 1 0 1 .1 1 .1 1 .1 1 0 1 .1 1 0 1 0 1 0 1 0 1 0 1 0 1 0 1 0 1 0 1 0 1 0 1-.1 1-.1 1-.1 1-.1 1-.1 1-.2 1-.1 1-.2 1-.3 1-.3 1-.3 1-.4 1-.3 1-.3 1-.3 1-.3 1-.3 1-.4 1-.3 1-.4 1-.4 1-.6 1-.7 1-.6 1-.5 1-.4 1-.4 1-.3 1-.2 1-.2 1 .1 1 .2 1 .3 1 .3 1 .4 1 .3 1 .5 1 .6 1 .4 1 .3 1-.1 1-.1 1-.2 1-.2 1-.2 1-.2 1-.3 1-.3 1-.2 1-.2 1-.1 1-.1 1-.1 1-.1 1-.1 1 0 1 0 1 0 1 .1 1 .1 1 .1 1 .2 1 .4 1 .6 1 .9 1 .8 1 .9 1 1.1 1 1.1 1 .7 1 .3 1 .3 1 .2 1 0 1-.5 1-.7 1-.6 1-.2 1 0 1 .1 1 .1 1 .1 1 .2 1 .4 1 .3 1 .3 1 .2 1 .1 1 0 1 .1 1 0 1 .1 1 0 .3 0V550.5H43.7Z"/>
<path fill="#b2df8a" d="M43.7 478l1 0 1 .1 1 0 1 0 1 .1 1 0 1 0 1 .1 1 0 1 0 1 0 1 0 1 0 1 0 1 0 1 0 1 0 1 0 1 0 1 0 1 0 1 0 1 0 1 0 1 0 1 0 1 0 1 0 1 0 1 0 1 0 1 .1 1 0 1 0 1 0 1 0 1 .1 1 0 1 0 1 .1 1 0 1 0 1 0 1 0 1 .1 1 0 1 0 1 0 1 0 1 0 1 0 1 0 1 0 1 0 1 0 1 0 1 0 1 0 1 0 1 0 1 0 1 .1 1 .2 1 .2 1 .2 1 .2 1 .3 1 .3 1 .4 1 .5 1 .4 1 .5 1 .4 1 .4 1 .4 1 .4 1 .2 1 .3 1 .2 1 .1 1 .2 1 .2 1 .2 1 .2 1 .3 1 .2 1 .2 1 .3 1 .3 1 .3 1 .3 1 .4 1 .3 1 .4 1 .4 1 .4 1 .5 1 .5 1 .5 1 .4 1 .4 1 .2 1 .2 1 .1 1 .1 1 .1 1-.1 1-.2 1-.4 1-.5 1-.4 1-.3 1-.2 1-.2 1-.3 1-.2 1-.2 1-.2 1-.2 1-.2 1-.1 1 0 1 .1 1 0 1 .1 1 .1 1 .2 1 .3 1 .3 1 .4 1 .4 1 .4 1 .4 1 .5 1 .5 1 .4 1 .4 1 .3 1 .4 1 .3 1 .3 1 .2 1 .3 1 .2 1 .2 1 .2 1 .4 1 .5 1 .5 1 .6 1 .6 1 .6 1 .8 1 .7 1 .6 1 .3 1 0 1 0 1 0 1 0 1 0 1-.1 1-.3 1-.5 1-.5 1-.2 1 0 1 0 1 0 1 0 1 0 1 0 1 0 1 0 1 0 1 0 1-.1 1-.2 1-.4 1-.5 1-.4 1-.4 1-.4 1-.4 1-.4 1-.4 1-.4 1-.2 1-.2 1-.1 1-.2 1-.1 1-.1 1-.1 1-.1 1-.1 1-.1 1-.1 1 0 1-.1 1 0 1 0 1 0 1 .1 1 0 1 .1 1 .1 1 .2 1 .3 1 .6 1 .7 1 .8 1 .8 1 .9 1 1.1 1 1.1 1 1.2 1 1.3 1 1.4 1 1.5 1 1.7 1 1.9 1 2 1 2.3 1 3 1 2.7 1 1.2 1 1 1 2.7 1 3.8 1 3.9 1 4.2 1 2.6 1 1.5 1-.3 1-1 1-1.1 1-.9 1-.9 1-.8 1-.4 1-.4 1 .1 1 .4 1 .3 1 0 1 0 1 0 1-.5 1-1 1-1.1 1-1 1-1.2 1-.8 1-.2 1 0 1 0 1 .3 1 .7 1 .8 1 .5 1 .3 1 .2 1 .1 1 0 1 0 1 0 1 .1 1 .4 1 .5 1 .7 1 .9 1 .8 1 .7 1 .8 1 .5 1 0 1-.2 1-.3 1-.9 1-1.4 1-1.3 1-1.3 1-1 1-.2 1 .1 1 .2 1 .6 1 1.1 1 1.2 1 1 1 1 1 1 1 .9 1 .5 1 .5 1 .5 1 .3 1 .2 .3 0V550.5H43.7Z"/>
<path fill="#6a3d9a" d="M43.7 478l1 0 1 .1 1 0 1 0 1 .1 1 0 1 0 1 .1 1 0 1 0 1 0 1 0 1 0 1 0 1 0 1 0 1 0 1 0 1 0 1 0 1 0 1 0 1 0 1 0 1 0 1 0 1 0 1 0 1 0 1 0 1 0 1 .1 1 0 1 0 1 0 1 0 1 .1 1 0 1 0 1 .1 1 0 1 0 1 0 1 0 1 .1 1 0 1 0 1 0 1 0 1 0 1 0 1 0 1 0 1 0 1 0 1 0 1 0 1 0 1 0 1 0 1 0 1 .1 1 .2 1 .2 1 .2 1 .2 1 .3 1 .3 1 .4 1 .5 1 .4 1 .5 1 .4 1 .4 1 .4 1 .4 1 .2 1 .3 1 .2 1 .1 1 .2 1 .2 1 .2 1 .2 1 .3 1 .2 1 .2 1 .3 1 .3 1 .3 1 .3 1 .4 1 .3 1 .4 1 .4 1 .4 1 .5 1 .5 1 .5 1 .4 1 .4 1 .2 1 .2 1 .1 1 .1 1 .1 1-.1 1-.2 1-.4 1-.5 1-.4 1-.3 1-.2 1-.2 1-.3 1-.2 1-.2 1-.2 1-.2 1-.2 1-.1 1 0 1 .1 1 0 1 .1 1 .1 1 .2 1 .3 1 .3 1 .4 1 .4 1 .4 1 .4 1 .5 1 .5 1 .4 1 .4 1 .3 1 .4 1 .3 1 .3 1 .2 1 .3 1 .2 1 .2 1 .2 1 .4 1 .5 1 .5 1 .6 1 .6 1 .6 1 .8 1 .7 1 .6 1 .3 1 0 1 0 1 0 1 0 1 0 1-.1 1-.3 1-.5 1-.5 1-.2 1 0 1 0 1 0 1 0 1 0 1 0 1 0 1 0 1 0 1 0 1-.1 1-.2 1-.4 1-.5 1-.4 1-.4 1-.4 1-.4 1-.4 1-.4 1-.4 1-.2 1-.2 1-.1 1-.2 1-.1 1-.1 1-.1 1-.1 1-.1 1-.1 1-.1 1 0 1-.1 1 0 1 0 1 0 1 .1 1 0 1 .1 1 .1 1 .2 1 .3 1 .6 1 .7 1 .8 1 .8 1 .9 1 1.1 1 1.1 1 1.2 1 1.3 1 1.4 1 1.5 1 1.7 1 1.9 1 2.1 1 2.3 1 3 1 2.7 1 1.3 1 1.1 1 2.7 1 3.9 1 3.9 1 4.2 1 2.5 1 1.5 1-.2 1-1 1-1.1 1-.9 1-1 1-.7 1-.5 1-.3 1 0 1 .5 1 .3 1 0 1 0 1 0 1-.5 1-1 1-1.1 1-1 1-1.2 1-.8 1-.2 1 0 1 0 1 .3 1 .7 1 .8 1 .4 1 .4 1 .2 1 .1 1 0 1 0 1 0 1 .1 1 .4 1 .5 1 .7 1 .9 1 .8 1 .7 1 .8 1 .5 1 0 1-.2 1-.3 1-.9 1-1.4 1-1.3 1-1.3 1-1 1-.2 1 .1 1 .2 1 .6 1 1.1 1 1.2 1 1 1 1 1 1 1 .9 1 .5 1 .5 1 .5 1 .3 1 .2 .3 0V550.5H43.7Z"/>
<path fill="#cab2d6" d="M43.7 478l1 .1 1 0 1 0 1 .1 1 0 1 0 1 .1 1 0 1 0 1 0 1 0 1 .1 1 0 1 0 1 0 1 0 1 0 1 0 1 0 1 0 1 0 1 0 1 0 1 0 1 0 1 0 1 0 1 0 1 0 1 0 1 0 1 0 1 0 1 0 1 .1 1 0 1 0 1 .1 1 0 1 0 1 0 1 .1 1 0 1 0 1 0 1 0 1 0 1 0 1 0 1 0 1 0 1 0 1 0 1 0 1 0 1 0 1 0 1 0 1 0 1 .1 1 0 1 .1 1 .2 1 .2 1 .2 1 .2 1 .3 1 .3 1 .4 1 .5 1 .4 1 .5 1 .4 1 .4 1 .5 1 .3 1 .3 1 .2 1 .2 1 .2 1 .1 1 .2 1 .2 1 .3 1 .2 1 .2 1 .3 1 .2 1 .3 1 .3 1 .4 1 .3 1 .4 1 .4 1 .4 1 .4 1 .4 1 .5 1 .5 1 .5 1 .3 1 .2 1 .2 1 .2 1 .1 1 .1 1-.1 1-.3 1-.4 1-.4 1-.4 1-.3 1-.2 1-.2 1-.3 1-.2 1-.2 1-.2 1-.2 1-.2 1 0 1 0 1 0 1 .1 1 .1 1 .1 1 .1 1 .3 1 .4 1 .4 1 .4 1 .4 1 .4 1 .5 1 .4 1 .5 1 .3 1 .4 1 .3 1 .4 1 .3 1 .2 1 .2 1 .3 1 .2 1 .2 1 .4 1 .5 1 .6 1 .6 1 .6 1 .6 1 .7 1 .7 1 .6 1 .4 1 0 1 0 1 0 1 0 1 0 1 0 1-.4 1-.5 1-.4 1-.2 1 0 1 0 1 0 1 0 1 0 1 0 1 0 1 .1 1 0 1 0 1-.1 1-.2 1-.4 1-.4 1-.4 1-.4 1-.3 1-.5 1-.4 1-.3 1-.3 1-.2 1-.2 1-.1 1-.1 1-.1 1-.1 1-.1 1-.1 1-.1 1-.1 1-.1 1 0 1-.1 1 0 1 0 1 0 1 .1 1 0 1 .1 1 .1 1 .2 1 .3 1 .6 1 .7 1 .7 1 .7 1 .9 1 1 1 1.1 1 1.1 1 1.3 1 1.4 1 1.5 1 1.6 1 1.9 1 2.1 1 2.3 1 3 1 2.7 1 1.4 1 1.2 1 3 1 4.2 1 4.2 1 4.5 1 2.8 1 1.8 1-.2 1-1 1-1.1 1-1 1-1.2 1-.8 1-.5 1-.3 1 0 1 .5 1 .3 1 .1 1 .2 1 .1 1-.5 1-1 1-1.1 1-1 1-1 1-.7 1-.1 1 0 1 0 1 .3 1 .8 1 .7 1 .5 1 .5 1 .4 1 .1 1-.1 1-.2 1-.1 1 .2 1 .3 1 .5 1 .8 1 .8 1 .8 1 .9 1 .9 1 .6 1 0 1-.2 1-.2 1-.9 1-1.2 1-1 1-.9 1-.5 1 0 1 .4 1 .3 1 .6 1 1.1 1 1.2 1 1 1 .9 1 .7 1 .5 1 .5 1 .4 1 .3 1 .2 1 .2 .3 0V550.5H43.7Z"/>
</g>
<text x="304.8" y="435" font-size="10.1" fill="#000" text-anchor="middle" >SAS</text>
<text x="320.8" y="462" font-size="14.3" fill="#fff" text-anchor="middle" >MNA</text>
<text x="309.8" y="510.8" font-size="22.1" fill="#fff" text-anchor="middle" >PRE</text>
<!-- chart h -->
<clipPath id="ch"><path d="M352.5 462.7l1-.1 1 0 1-.1 1 0 1-.1 1 0 1-.1 1 0 1 0 1-.1 1 0 1 0 1 0 1 0 1 0 1 0 1 0 1 0 1 0 1 0 1 0 1 0 1 0 1 0 1 0 1 0 1 0 1 0 1 0 1 0 1 0 1 0 1 0 1 0 1 0 1-.1 1 0 1 0 1 0 1 0 1 0 1 0 1 0 1 0 1-.1 1 0 1 0 1 0 1 0 1-.1 1 0 1 0 1 0 1-.1 1 0 1-.1 1-.1 1 0 1-.1 1-.1 1-.1 1-.2 1-.3 1-.4 1-.4 1-.4 1-.5 1-.6 1-.7 1-.6 1-.6 1-.6 1-.6 1-.5 1-.5 1-.3 1-.2 1-.2 1-.2 1-.1 1-.1 1-.2 1-.1 1-.1 1-.2 1-.1 1-.1 1-.2 1-.1 1-.2 1-.1 1-.2 1-.1 1-.2 1-.2 1-.1 1-.3 1-.3 1-.3 1-.2 1 0 1 0 1 0 1 0 1 0 1 .1 1 .1 1 .2 1 .3 1 .4 1 .3 1 .3 1 .5 1 .3 1 .4 1 .2 1 .1 1 .1 1 .1 1 .1 1 0 1 .1 1 0 1-.1 1-.1 1 0 1-.1 1-.1 1-.1 1-.1 1-.1 1-.1 1 0 1-.1 1-.1 1 0 1-.1 1 0 1-.1 1 0 1 0 1-.1 1-.1 1-.4 1-.6 1-.8 1-.8 1-.9 1-1.2 1-1.3 1-1.3 1-1.2 1-1.3 1-1.2 1-.8 1-.5 1-.4 1-.2 1 .2 1 .7 1 .9 1 .9 1 .9 1 1 1 .9 1 .6 1 .3 1 .2 1 .1 1 .2 1 .1 1 .1 1 .1 1 .2 1 .2 1 .1 1 .2 1 .2 1 .2 1 .2 1 .3 1 .3 1 .2 1 .3 1 .2 1 .2 1 .2 1 .3 1 .1 1 .2 1 .1 1 .1 1 0 1 0 1 0 1 0 1 0 1 0 1 0 1 0 1 .1 1 .1 1 0 1 .1 1 .1 1 .1 1-.2 1-.4 1-.5 1-.6 1-.7 1-1 1-1.1 1-1.2 1-1.2 1-1.1 1-1.1 1-1.1 1-1.2 1-1.2 1-1.1 1-1 1-1.1 1-1.5 1-2.1 1-3.2 1-3.3 1-3.6 1-3.3 1-2.3 1-1.8 1-.9 1-.5 1 .9 1 1.5 1 1.8 1 1.9 1 1.2 1 .5 1-.1 1-.4 1-.7 1-.6 1-.8 1-1 1-.6 1 .3 1 .6 1 1.8 1 2.2 1 1.7 1 1.6 1 1.5 1 .9 1 .2 1 0 1-.1 1-.1 1-.2 1-.3 1-.7 1-.8 1-.2 1 .4 1 .3 1 .1 1-.5 1-1.5 1-2.1 1-2.3 1-3 1-3 1-2.3 1-2.1 1-1.8 1-1.1 1-.7 1 .3 1 1.1 1 1.8 1 2.2 1 1.9 1 2 1 1.2 1 .4 1-.2 1-.6 1-.8 1-.8 1-.8 1-.8 1-.9 1-.7 1-.7 1-.6 1-.6 1-.6 1-.5 1-.5 .5-.2L652 545.4l-.5 .5-1 .9-1 .6-1 .4-1 .2-1-.3-1-.5-1-.7-1-.7-1-.9-1-.8-1-.7-1-.4-1-.1-1 .2-1 .2-1 .3-1 .3-1 .2-1 .2-1 .2-1 .2-1 .1-1 0-1-.1-1-.1-1-.1-1-.1-1 .1-1 0-1 .1-1 .3-1 .6-1 .5-1 .7-1 .4-1 .1-1 .1-1 0-1-.3-1-.5-1-.6-1-.6-1-.8-1-.8-1-.7-1-.6-1-.6-1-.5-1-.3-1-.4-1-.3-1-.3-1-.4-1-.5-1-.4-1 0-1 0-1 0-1 0-1 .3-1 .6-1 .7-1 .6-1 .7-1 .5-1-.7-1-1.9-1-2.6-1-4-1-4.4-1-4.8-1-4.8-1-4.6-1-4.4-1-3.7-1-3.1-1-2.6-1-2.3-1-1.9-1-1.7-1-1.5-1-1.4-1-1.2-1-1.1-1-1-1-.8-1-.7-1-.6-1-.6-1-.4-1-.4-1-.3-1-.2-1-.2-1-.2-1 0-1 0-1 0-1 .2-1 .2-1 .2-1 .2-1 .3-1 .2-1 .3-1 .3-1 .3-1 .4-1 .3-1 .4-1 .5-1 .5-1 .5-1 .5-1 .5-1 .5-1 .5-1 .6-1 .6-1 .4-1 .3-1 0-1-.2-1-.3-1-.4-1-.3-1-.1-1-.1-1-.1-1 0-1-.1-1 .1-1 .3-1 .6-1 .6-1 .5-1 .4-1 .3-1 .2-1 .2-1 .1-1 0-1-.5-1-.6-1-.8-1-.8-1-.6-1-.6-1-.7-1-.6-1-.5-1-.5-1-.4-1-.4-1-.3-1-.4-1-.3-1-.4-1-.4-1-.4-1-.5-1-.4-1-.4-1-.5-1-.4-1-.4-1-.5-1-.5-1-.4-1-.4-1-.3-1-.1-1-.2-1-.1-1-.1-1-.1-1-.1-1 0-1 0-1 .1-1 .1-1 .1-1 .1-1 .2-1 .1-1 .1-1 .2-1 .2-1 .2-1 .2-1 .1-1 0-1-.1-1-.1-1-.1-1-.2-1-.2-1-.2-1-.3-1-.4-1-.4-1-.5-1-.5-1-.4-1-.4-1-.4-1-.5-1-.4-1-.4-1-.3-1-.3-1-.2-1-.1-1-.2-1-.1-1 0-1-.2-1-.1-1-.2-1-.2-1-.2-1-.2-1-.3-1-.3-1-.3-1-.4-1-.5-1-.5-1-.5-1-.4-1-.4-1-.2-1-.2-1-.2-1-.2-1-.2-1-.1-1 0-1 0-1 0-1 0-1 0-1 0-1 0-1 0-1 0-1 0-1 0-1 0-1 0-1 0-1 0-1 0-1 0-1 0-1 0-1 0-1 0-1 0-1 0-1 0-1 0-1 0-1 0-1 0-1 0-1 0-1 0-1 0-1 0-1 0-1 0-1 0-1 0-1 0-1 0-1-.1-1 0-1 0-1 0-1 0-1 0-1 0-1-.1-1 0-1 0-1 0-1-.1-1 0-1-.1-1-.1-1-.1-1-.1-1-.1-1-.1-1-.1-1-.1-1-.1-1-.1Z"/></clipPath>
<path d="M352.5 462.7l1-.1 1 0 1-.1 1 0 1-.1 1 0 1-.1 1 0 1 0 1-.1 1 0 1 0 1 0 1 0 1 0 1 0 1 0 1 0 1 0 1 0 1 0 1 0 1 0 1 0 1 0 1 0 1 0 1 0 1 0 1 0 1 0 1 0 1 0 1 0 1 0 1-.1 1 0 1 0 1 0 1 0 1 0 1 0 1 0 1 0 1-.1 1 0 1 0 1 0 1 0 1-.1 1 0 1 0 1 0 1-.1 1 0 1-.1 1-.1 1 0 1-.1 1-.1 1-.1 1-.2 1-.3 1-.4 1-.4 1-.4 1-.5 1-.6 1-.7 1-.6 1-.6 1-.6 1-.6 1-.5 1-.5 1-.3 1-.2 1-.2 1-.2 1-.1 1-.1 1-.2 1-.1 1-.1 1-.2 1-.1 1-.1 1-.2 1-.1 1-.2 1-.1 1-.2 1-.1 1-.2 1-.2 1-.1 1-.3 1-.3 1-.3 1-.2 1 0 1 0 1 0 1 0 1 0 1 .1 1 .1 1 .2 1 .3 1 .4 1 .3 1 .3 1 .5 1 .3 1 .4 1 .2 1 .1 1 .1 1 .1 1 .1 1 0 1 .1 1 0 1-.1 1-.1 1 0 1-.1 1-.1 1-.1 1-.1 1-.1 1-.1 1 0 1-.1 1-.1 1 0 1-.1 1 0 1-.1 1 0 1 0 1-.1 1-.1 1-.4 1-.6 1-.8 1-.8 1-.9 1-1.2 1-1.3 1-1.3 1-1.2 1-1.3 1-1.2 1-.8 1-.5 1-.4 1-.2 1 .2 1 .7 1 .9 1 .9 1 .9 1 1 1 .9 1 .6 1 .3 1 .2 1 .1 1 .2 1 .1 1 .1 1 .1 1 .2 1 .2 1 .1 1 .2 1 .2 1 .2 1 .2 1 .3 1 .3 1 .2 1 .3 1 .2 1 .2 1 .2 1 .3 1 .1 1 .2 1 .1 1 .1 1 0 1 0 1 0 1 0 1 0 1 0 1 0 1 0 1 .1 1 .1 1 0 1 .1 1 .1 1 .1 1-.2 1-.4 1-.5 1-.6 1-.7 1-1 1-1.1 1-1.2 1-1.2 1-1.1 1-1.1 1-1.1 1-1.2 1-1.2 1-1.1 1-1 1-1.1 1-1.5 1-2.1 1-3.2 1-3.3 1-3.6 1-3.3 1-2.3 1-1.8 1-.9 1-.5 1 .9 1 1.5 1 1.8 1 1.9 1 1.2 1 .5 1-.1 1-.4 1-.7 1-.6 1-.8 1-1 1-.6 1 .3 1 .6 1 1.8 1 2.2 1 1.7 1 1.6 1 1.5 1 .9 1 .2 1 0 1-.1 1-.1 1-.2 1-.3 1-.7 1-.8 1-.2 1 .4 1 .3 1 .1 1-.5 1-1.5 1-2.1 1-2.3 1-3 1-3 1-2.3 1-2.1 1-1.8 1-1.1 1-.7 1 .3 1 1.1 1 1.8 1 2.2 1 1.9 1 2 1 1.2 1 .4 1-.2 1-.6 1-.8 1-.8 1-.8 1-.8 1-.9 1-.7 1-.7 1-.6 1-.6 1-.6 1-.5 1-.5 .5-.2L652 545.4l-.5 .5-1 .9-1 .6-1 .4-1 .2-1-.3-1-.5-1-.7-1-.7-1-.9-1-.8-1-.7-1-.4-1-.1-1 .2-1 .2-1 .3-1 .3-1 .2-1 .2-1 .2-1 .2-1 .1-1 0-1-.1-1-.1-1-.1-1-.1-1 .1-1 0-1 .1-1 .3-1 .6-1 .5-1 .7-1 .4-1 .1-1 .1-1 0-1-.3-1-.5-1-.6-1-.6-1-.8-1-.8-1-.7-1-.6-1-.6-1-.5-1-.3-1-.4-1-.3-1-.3-1-.4-1-.5-1-.4-1 0-1 0-1 0-1 0-1 .3-1 .6-1 .7-1 .6-1 .7-1 .5-1-.7-1-1.9-1-2.6-1-4-1-4.4-1-4.8-1-4.8-1-4.6-1-4.4-1-3.7-1-3.1-1-2.6-1-2.3-1-1.9-1-1.7-1-1.5-1-1.4-1-1.2-1-1.1-1-1-1-.8-1-.7-1-.6-1-.6-1-.4-1-.4-1-.3-1-.2-1-.2-1-.2-1 0-1 0-1 0-1 .2-1 .2-1 .2-1 .2-1 .3-1 .2-1 .3-1 .3-1 .3-1 .4-1 .3-1 .4-1 .5-1 .5-1 .5-1 .5-1 .5-1 .5-1 .5-1 .6-1 .6-1 .4-1 .3-1 0-1-.2-1-.3-1-.4-1-.3-1-.1-1-.1-1-.1-1 0-1-.1-1 .1-1 .3-1 .6-1 .6-1 .5-1 .4-1 .3-1 .2-1 .2-1 .1-1 0-1-.5-1-.6-1-.8-1-.8-1-.6-1-.6-1-.7-1-.6-1-.5-1-.5-1-.4-1-.4-1-.3-1-.4-1-.3-1-.4-1-.4-1-.4-1-.5-1-.4-1-.4-1-.5-1-.4-1-.4-1-.5-1-.5-1-.4-1-.4-1-.3-1-.1-1-.2-1-.1-1-.1-1-.1-1-.1-1 0-1 0-1 .1-1 .1-1 .1-1 .1-1 .2-1 .1-1 .1-1 .2-1 .2-1 .2-1 .2-1 .1-1 0-1-.1-1-.1-1-.1-1-.2-1-.2-1-.2-1-.3-1-.4-1-.4-1-.5-1-.5-1-.4-1-.4-1-.4-1-.5-1-.4-1-.4-1-.3-1-.3-1-.2-1-.1-1-.2-1-.1-1 0-1-.2-1-.1-1-.2-1-.2-1-.2-1-.2-1-.3-1-.3-1-.3-1-.4-1-.5-1-.5-1-.5-1-.4-1-.4-1-.2-1-.2-1-.2-1-.2-1-.2-1-.1-1 0-1 0-1 0-1 0-1 0-1 0-1 0-1 0-1 0-1 0-1 0-1 0-1 0-1 0-1 0-1 0-1 0-1 0-1 0-1 0-1 0-1 0-1 0-1 0-1 0-1 0-1 0-1 0-1 0-1 0-1 0-1 0-1 0-1 0-1 0-1 0-1 0-1 0-1 0-1-.1-1 0-1 0-1 0-1 0-1 0-1 0-1-.1-1 0-1 0-1 0-1-.1-1 0-1-.1-1-.1-1-.1-1-.1-1-.1-1-.1-1-.1-1-.1-1-.1-1-.1Z" fill="#1f78b4" stroke="#c2a57c" stroke-opacity=".55" stroke-width="2.6" stroke-dasharray="3.5 2" stroke-linejoin="round" paint-order="stroke"/>
<g clip-path="url(#ch)">
<path fill="#fdbf6f" d="M352.5 463.7l1-.1 1 0 1-.1 1 0 1-.1 1 0 1-.1 1 0 1 0 1-.1 1 0 1 0 1 0 1 0 1 0 1 0 1 0 1 0 1 0 1 0 1 0 1 0 1 0 1 0 1 0 1 0 1 0 1 0 1 0 1 0 1 0 1 0 1 0 1 0 1-.1 1 0 1 0 1 0 1 0 1 0 1 0 1 0 1 0 1-.1 1 0 1 0 1 0 1 0 1 0 1 0 1 0 1 0 1-.1 1 0 1 0 1 0 1 0 1 0 1 0 1 0 1 0 1 0 1-.1 1 0 1 0 1 0 1 0 1 0 1-.1 1 0 1 0 1 0 1 0 1-.1 1 0 1-.1 1 0 1 0 1-.1 1 0 1-.1 1 0 1-.1 1 0 1 0 1-.1 1 0 1-.1 1 0 1 0 1-.1 1 0 1-.1 1 0 1 0 1-.1 1 0 1-.1 1 0 1-.1 1 0 1-.1 1 0 1 0 1-.1 1 0 1 0 1 0 1 0 1 0 1 0 1 0 1 0 1 0 1 0 1 .1 1 0 1 .1 1 0 1 .1 1 0 1 .1 1 0 1-.1 1 0 1 0 1-.1 1 0 1-.1 1 0 1-.1 1 0 1-.1 1-.1 1 0 1-.1 1-.1 1-.1 1-.2 1-.2 1-.3 1-.3 1-.3 1-.6 1-.8 1-.6 1-.4 1-.1 1 0 1 0 1 0 1 0 1 0 1 0 1 0 1 0 1 0 1 0 1-.1 1 0 1-.1 1 0 1-.1 1 0 1-.1 1 0 1-.1 1 0 1-.1 1 0 1 0 1-.1 1 0 1 .1 1 0 1 0 1 .1 1 0 1 .1 1 0 1 .1 1 0 1 0 1 .1 1 0 1 .1 1 0 1 0 1 .1 1 0 1 .1 1 .1 1 .1 1 .1 1 0 1 .1 1 0 1 0 1 0 1 0 1 0 1 0 1 0 1 0 1 0 1 0 1-.1 1-.3 1-.4 1-.4 1-.6 1-.8 1-1.2 1-1.1 1-.8 1-.9 1-.7 1-.3 1-.2 1-.2 1-.1 1-.2 1-.1 1-.2 1-.2 1-.2 1-.2 1-.2 1-.1 1-.1 1-.1 1-.1 1-.1 1 0 1-.1 1 0 1 0 1 .1 1 .1 1 .1 1 .1 1 .1 1 0 1 .2 1 .1 1 .1 1 .1 1 .1 1 .1 1 0 1-.1 1-.1 1-.1 1-.1 1-.2 1-.1 1-.3 1-.3 1-.4 1-.4 1-.2 1-.1 1 .2 1 .4 1 .3 1 .3 1 .3 1 .3 1 .3 1 .2 1 .1 1 0 1 0 1 0 1 0 1 0 1 0 1 0 1 0 1 .2 1 .1 1 .2 1 .2 1 .2 1 .2 1 .3 1 .2 1 .3 1 .2 1 .3 1 .3 1 .3 1 .3 1 .2 1 .3 1 .3 1 .3 1 .2 1 .3 .5 .1V551H352.5Z"/>
<path fill="#cab2d6" d="M352.5 464l1 0 1-.1 1 0 1-.1 1 0 1-.1 1 0 1 0 1-.1 1 0 1 0 1 0 1-.1 1 0 1 0 1 0 1 0 1 0 1 0 1 0 1 .1 1 0 1 0 1 0 1 0 1 0 1 0 1 0 1 0 1 0 1 0 1 0 1 0 1 0 1-.1 1 0 1 0 1 0 1 0 1 0 1 0 1 0 1 0 1-.1 1 0 1 0 1 0 1 0 1 0 1 0 1 0 1 0 1 0 1 0 1-.1 1 0 1 0 1 0 1 0 1 0 1 0 1 0 1 0 1 0 1-.1 1 0 1 0 1 0 1 0 1 0 1-.1 1 0 1 0 1 0 1-.1 1 0 1-.1 1 0 1-.1 1 0 1 0 1-.1 1 0 1-.1 1 0 1 0 1-.1 1 0 1 0 1-.1 1 0 1-.1 1 0 1 0 1-.1 1 0 1-.1 1 0 1 0 1-.1 1-.1 1 0 1 0 1-.1 1 0 1 0 1 0 1 0 1 0 1 0 1 0 1 0 1 0 1 0 1 0 1 0 1 .1 1 .1 1 0 1 .1 1 0 1 0 1 0 1 0 1 0 1 0 1-.1 1 0 1-.1 1 0 1-.1 1 0 1-.1 1-.1 1 0 1-.1 1-.1 1-.1 1-.2 1-.2 1-.3 1-.3 1-.3 1-.7 1-.7 1-.6 1-.4 1-.1 1 0 1 0 1 0 1 0 1 0 1 0 1 0 1 0 1 0 1 0 1-.1 1 0 1-.1 1 0 1-.1 1 0 1-.1 1 0 1-.1 1 0 1-.1 1 0 1 0 1 0 1 0 1 0 1 0 1 0 1 .1 1 .1 1 0 1 .1 1 0 1 0 1 .1 1 0 1 .1 1 0 1 0 1 .1 1 0 1 .1 1 .1 1 0 1 .1 1 .1 1 .1 1 0 1 0 1 .1 1 0 1 0 1 0 1 0 1 0 1 0 1 0 1 0 1-.1 1-.3 1-.4 1-.5 1-.5 1-.8 1-1.2 1-1 1-.9 1-.8 1-.6 1-.3 1-.1 1-.1 1 0 1 0 1 0 1-.1 1-.1 1-.1 1-.1 1-.1 1 0 1 0 1 0 1-.1 1 0 1 0 1 0 1 0 1 0 1 .1 1 .1 1 .1 1 .2 1 .1 1 .1 1 .2 1 .1 1 .2 1 .2 1 .2 1 .1 1 .1 1 0 1-.1 1-.1 1-.2 1-.2 1-.2 1-.4 1-.5 1-.5 1-.4 1-.4 1-.1 1 .2 1 .2 1 .4 1 .2 1 .3 1 .2 1 .3 1 .1 1 0 1 0 1 0 1-.1 1 0 1 0 1 0 1 0 1 0 1 .1 1 .1 1 .2 1 .1 1 .1 1 .2 1 .1 1 .2 1 .2 1 .2 1 .2 1 .3 1 .2 1 .3 1 .2 1 .3 1 .2 1 .3 1 .2 1 .2 .5 .1V551H352.5Z"/>
<path fill="#b2df8a" d="M352.5 464.3l1 0 1 0 1 0 1 0 1-.1 1 0 1 0 1 0 1 0 1 0 1 0 1 0 1 0 1 0 1 0 1 0 1 0 1 0 1 0 1 0 1 0 1 0 1 0 1 0 1 0 1 0 1 0 1 0 1 0 1 0 1 0 1 0 1 0 1 0 1 0 1 0 1 0 1 0 1 0 1 0 1 0 1 0 1 0 1 0 1 0 1 0 1 0 1 0 1 0 1 0 1 0 1 0 1 0 1 0 1 0 1 0 1 0 1 0 1 0 1 0 1 0 1 0 1 0 1 0 1 0 1 0 1-.1 1 0 1 0 1 0 1-.1 1 0 1 0 1 0 1 0 1-.1 1 0 1 0 1 0 1-.1 1 0 1 0 1 0 1 0 1 0 1-.1 1 0 1 0 1 0 1-.1 1 0 1 0 1-.1 1 0 1-.1 1 0 1 0 1-.1 1 0 1-.1 1 0 1-.1 1 0 1-.1 1 0 1 0 1 0 1 0 1 0 1 0 1 0 1 0 1 0 1 0 1 0 1 0 1 .1 1 0 1 .1 1 .1 1 0 1 0 1 0 1 0 1 0 1 0 1-.1 1 0 1-.1 1-.1 1 0 1-.1 1 0 1-.1 1-.1 1-.1 1 0 1-.2 1-.1 1-.1 1-.2 1-.2 1-.3 1-.6 1-.6 1-.7 1-.4 1 0 1 0 1 0 1 0 1 0 1 0 1 0 1 0 1 0 1-.1 1 0 1-.1 1 0 1-.1 1-.1 1-.1 1 0 1-.1 1 0 1-.1 1 0 1-.1 1 0 1 0 1-.1 1 0 1 .1 1 0 1 0 1 .1 1 0 1 .1 1 0 1 .1 1 0 1 .1 1 0 1 .1 1 .1 1 0 1 .1 1 .1 1 0 1 .1 1 .1 1 .1 1 0 1 .1 1 0 1 .1 1 0 1 0 1 0 1 0 1 0 1 0 1 0 1 0 1 0 1-.1 1-.2 1-.3 1-.4 1-.4 1-.8 1-1.1 1-.9 1-.8 1-.7 1-.5 1-.2 1-.1 1-.1 1-.1 1 0 1 0 1 0 1 0 1 0 1 0 1 0 1 0 1 0 1 0 1 .1 1 0 1 .1 1 .1 1 0 1 .2 1 .2 1 .2 1 .3 1 .2 1 .2 1 .1 1 .2 1 .1 1 .1 1 0 1 .1 1 .1 1 .1 1 .1 1 .1 1 .1 1 .1 1 0 1 0 1 0 1 0 1 0 1 0 1 0 1 0 1 0 1 0 1 0 1 .1 1 .1 1 .1 1 .1 1 .1 1 0 1 .1 1 .1 1 .1 1 .2 1 .1 1 .1 1 0 1 .1 1 .1 1 .1 1 0 1 .1 1 .1 1 .1 1 0 1 .1 1 .1 1 0 1 .1 1 .1 1 .1 1 .1 1 .1 1 .1 1 .2 1 .1 1 .2 1 .2 .5 .1V551H352.5Z"/>
<path fill="#33a02c" d="M352.5 464.5l1-.1 1 0 1 0 1 0 1 0 1 0 1-.1 1 0 1 0 1 0 1 0 1 0 1 0 1 0 1 0 1 0 1 0 1 0 1 0 1 0 1 0 1 0 1 0 1 0 1 0 1 0 1 0 1 0 1 0 1 0 1 0 1 0 1 0 1 0 1 0 1 0 1 0 1 0 1 0 1 0 1 0 1 0 1 0 1 0 1 0 1 0 1 0 1 0 1 0 1 0 1 0 1 0 1 0 1 0 1 0 1 0 1 0 1 0 1 0 1 0 1 0 1 0 1 0 1 0 1 0 1 0 1 0 1 0 1-.1 1 0 1 0 1 0 1-.1 1 0 1 0 1 0 1 0 1-.1 1 0 1 0 1 0 1 0 1-.1 1 0 1 0 1 0 1 0 1-.1 1 0 1 0 1 0 1-.1 1 0 1-.1 1 0 1-.1 1 0 1 0 1-.1 1 0 1-.1 1 0 1-.1 1 0 1 0 1 0 1 0 1 0 1 0 1 0 1 0 1 0 1 0 1 0 1 0 1 0 1 .1 1 0 1 .1 1 0 1 .1 1 0 1 0 1 0 1 0 1-.1 1 0 1-.1 1 0 1-.1 1 0 1-.1 1-.1 1 0 1-.1 1-.1 1-.1 1-.1 1-.1 1-.2 1-.1 1-.2 1-.3 1-.6 1-.7 1-.6 1-.4 1-.1 1 0 1 0 1 0 1 0 1 0 1 0 1 0 1 0 1 0 1 0 1-.1 1-.1 1 0 1-.1 1-.1 1 0 1-.1 1 0 1-.1 1-.1 1 0 1 0 1-.1 1 0 1 0 1 0 1 .1 1 0 1 .1 1 0 1 .1 1 0 1 .1 1 0 1 .1 1 0 1 .1 1 .1 1 0 1 .1 1 0 1 .1 1 .1 1 .1 1 0 1 .1 1 .1 1 0 1 .1 1 0 1 0 1 0 1 0 1 0 1 0 1 0 1 0 1 0 1-.1 1-.2 1-.3 1-.4 1-.4 1-.8 1-1 1-1 1-.7 1-.7 1-.5 1-.2 1-.1 1 0 1-.1 1 0 1 .1 1 0 1 0 1 0 1 0 1 0 1 0 1 0 1 0 1 .1 1 0 1 .1 1 .1 1 .1 1 .1 1 .2 1 .2 1 .3 1 .2 1 .2 1 .2 1 .1 1 .1 1 .1 1 .1 1 .1 1 .1 1 .1 1 .1 1 .1 1 .1 1 0 1 .1 1 0 1 0 1 0 1 0 1 0 1 0 1 0 1 0 1 0 1 0 1 .1 1 0 1 .1 1 .1 1 .1 1 .1 1 .1 1 .1 1 .1 1 .1 1 .1 1 .1 1 .1 1 .1 1 .1 1 .1 1 0 1 .1 1 .1 1 .1 1 0 1 .1 1 .1 1 0 1 .1 1 .1 1 .1 1 .1 1 .1 1 .1 1 .2 1 .1 1 .2 1 .2 .5 .1V551H352.5Z"/>
<path fill="#e31a1c" d="M352.5 465.7l1 0 1 0 1 0 1 0 1 .1 1 0 1 0 1 0 1 0 1 0 1 0 1 0 1 0 1 0 1 0 1 0 1 0 1 0 1 0 1 0 1 0 1 0 1 0 1 0 1 0 1 0 1 0 1 0 1 0 1 0 1 0 1 0 1 0 1 0 1 0 1 0 1 0 1 0 1 0 1 0 1 0 1 0 1 0 1 0 1 0 1 0 1 0 1 0 1 0 1 0 1 0 1 .1 1 0 1 0 1 0 1 0 1 0 1 0 1 .1 1 0 1 0 1 0 1 .1 1 .1 1 .1 1 .2 1 .1 1 .1 1 .3 1 .2 1 .3 1 .3 1 .3 1 .2 1 .2 1 .1 1 .1 1 .1 1 .1 1 .2 1 .1 1 .1 1 .2 1 .2 1 .1 1 .2 1 .2 1 .3 1 .2 1 .4 1 .3 1 .4 1 .3 1 .4 1 .2 1 .3 1 .3 1 .3 1 .2 1 .2 1 .2 1 .1 1 .1 1 .1 1 .1 1 0 1 .1 1 0 1-.1 1 0 1-.1 1-.1 1-.1 1-.1 1-.1 1-.1 1-.1 1-.1 1-.1 1 0 1 0 1 0 1 0 1 .1 1 .1 1 .1 1 .1 1 .1 1 .2 1 .2 1 .3 1 .3 1 .3 1 .3 1 .3 1 .4 1 .3 1 .4 1 .4 1 .2 1 .2 1 .2 1 0 1 .1 1 .1 1 .1 1 .1 1 .1 1 .3 1 .2 1 .3 1 .3 1 .2 1 .3 1 .2 1 .3 1 .3 1 .2 1 .2 1 .1 1 .1 1 0 1 0 1 0 1 0 1 0 1 0 1 0 1-.1 1 0 1 0 1-.1 1-.1 1-.1 1 0 1-.1 1-.2 1-.1 1-.2 1-.2 1-.2 1-.3 1-.3 1-.4 1-.4 1-.4 1-.4 1-.2 1-.3 1-.2 1-.2 1-.2 1-.1 1-.2 1-.2 1-.1 1-.2 1-.1 1-.2 1 0 1-.1 1 0 1 0 1 0 1 0 1 0 1 0 1 .1 1 .1 1 .2 1 .4 1 .3 1 .5 1 .4 1 .7 1 .8 1 1 1 1.1 1 1.4 1 1.6 1 1.8 1 2 1 2.5 1 2.8 1 3.2 1 3.7 1 4.2 1 4.1 1 4.2 1 3.8 1 3.4 1 2.1 1 1.3 1 .4 1-.5 1-.8 1-.8 1-1 1-.9 1-.7 1-.6 1-.6 1-.3 1-.3 1-.3 1-.2 1-.2 1-.2 1-.1 1-.2 1-.1 1-.1 1-.2 1 0 1 0 1 .1 1 .2 1 .3 1 .3 1 .3 1 .4 1 .2 1 .2 1 .2 1 0 1 0 1-.2 1-.1 1-.1 1-.2 1-.2 1-.2 1-.2 1-.3 1-.3 1-.3 1-.3 1-.4 1-.3 1-.4 1-.3 1-.3 1-.2 1-.3 1 0 1 .2 1 .4 1 .6 1 .9 1 .9 1 .8 1 .9 1 .7 1 .8 1 .5 1 .3 1 .3 1 .2 1 .1 .5 0V551H352.5Z"/>
<path fill="#ffff99" d="M352.5 465.8l1 0 1 0 1 0 1 0 1 0 1 .1 1 0 1 0 1 0 1 0 1 0 1 0 1 0 1 0 1 0 1 0 1 0 1 0 1 0 1 0 1 0 1 0 1 0 1 0 1 0 1 0 1 0 1 0 1 0 1 0 1 0 1 0 1 0 1 0 1 0 1 0 1 0 1 .1 1 0 1 0 1 0 1 0 1 0 1 0 1 0 1 0 1 0 1 0 1 0 1 0 1 0 1 0 1 0 1 0 1 0 1 0 1 .1 1 0 1 0 1 0 1 0 1 .1 1 .1 1 .1 1 .1 1 .1 1 .1 1 .2 1 .2 1 .3 1 .3 1 .3 1 .2 1 .3 1 .1 1 .1 1 .2 1 .1 1 .1 1 .1 1 .1 1 .2 1 .1 1 .2 1 .2 1 .2 1 .2 1 .2 1 .3 1 .3 1 .4 1 .4 1 .3 1 .3 1 .3 1 .3 1 .3 1 .3 1 .2 1 .2 1 .2 1 .1 1 .1 1 .1 1 .1 1 0 1 0 1 0 1 0 1-.1 1-.1 1-.1 1 0 1-.1 1-.1 1-.1 1-.1 1-.1 1-.1 1 0 1 0 1 0 1 0 1 .1 1 .1 1 .1 1 .1 1 .1 1 .2 1 .2 1 .3 1 .3 1 .3 1 .3 1 .3 1 .4 1 .4 1 .4 1 .3 1 .3 1 .2 1 .2 1 .1 1 .1 1 .1 1 .1 1 .1 1 .1 1 .3 1 .2 1 .3 1 .3 1 .3 1 .3 1 .2 1 .3 1 .3 1 .2 1 .2 1 .2 1 0 1 0 1 0 1 0 1 0 1 .1 1 0 1 0 1 0 1-.1 1 0 1-.1 1 0 1-.1 1 0 1-.1 1-.2 1-.1 1-.2 1-.2 1-.1 1-.3 1-.4 1-.3 1-.4 1-.4 1-.3 1-.3 1-.2 1-.2 1-.2 1-.2 1-.2 1-.1 1-.2 1-.1 1-.2 1-.1 1-.1 1-.1 1 0 1 0 1 0 1 0 1 .1 1 0 1 0 1 0 1 .1 1 .3 1 .3 1 .4 1 .4 1 .5 1 .7 1 .9 1 .9 1 1.1 1 1.4 1 1.6 1 1.8 1 2.1 1 2.4 1 2.9 1 3.1 1 3.8 1 4.2 1 4.1 1 4.2 1 3.8 1 3.4 1 2.1 1 1.3 1 .4 1-.5 1-.8 1-.8 1-1 1-.8 1-.7 1-.7 1-.5 1-.4 1-.3 1-.2 1-.2 1-.2 1-.2 1-.2 1-.1 1-.2 1-.1 1-.1 1-.1 1 0 1 .2 1 .2 1 .2 1 .3 1 .4 1 .3 1 .3 1 .2 1 .2 1 0 1-.1 1-.1 1-.1 1-.1 1-.2 1-.2 1-.2 1-.3 1-.2 1-.3 1-.3 1-.3 1-.4 1-.3 1-.4 1-.3 1-.3 1-.3 1-.2 1 0 1 .2 1 .4 1 .6 1 .9 1 .9 1 .8 1 .9 1 .7 1 .8 1 .5 1 .3 1 .3 1 .2 1 .1 .5 0V551H352.5Z"/>
<path fill="#ff7f00" d="M352.5 465.8l1 0 1 0 1 0 1 0 1 0 1 .1 1 0 1 0 1 0 1 0 1 0 1 0 1 0 1 0 1 0 1 0 1 0 1 0 1 0 1 0 1 0 1 0 1 0 1 0 1 0 1 0 1 0 1 0 1 0 1 0 1 0 1 0 1 0 1 0 1 0 1 0 1 0 1 .1 1 0 1 0 1 0 1 0 1 0 1 0 1 0 1 0 1 0 1 0 1 0 1 0 1 0 1 0 1 0 1 0 1 0 1 0 1 .1 1 0 1 0 1 0 1 0 1 .1 1 .1 1 .1 1 .1 1 .1 1 .1 1 .2 1 .2 1 .3 1 .3 1 .3 1 .2 1 .3 1 .1 1 .1 1 .2 1 .1 1 .1 1 .1 1 .1 1 .2 1 .1 1 .2 1 .2 1 .2 1 .2 1 .2 1 .3 1 .3 1 .4 1 .4 1 .3 1 .3 1 .3 1 .3 1 .3 1 .3 1 .2 1 .2 1 .2 1 .1 1 .1 1 .1 1 .1 1 0 1 0 1 0 1 0 1-.1 1-.1 1-.1 1 0 1-.1 1-.1 1-.1 1-.1 1-.1 1-.1 1 0 1 0 1 0 1 .1 1 .1 1 .1 1 .1 1 .1 1 .2 1 .2 1 .2 1 .3 1 .3 1 .4 1 .3 1 .3 1 .4 1 .4 1 .4 1 .4 1 .3 1 .3 1 .1 1 .1 1 .1 1 .1 1 .1 1 .2 1 .1 1 .3 1 .2 1 .3 1 .3 1 .3 1 .3 1 .2 1 .3 1 .3 1 .2 1 .2 1 .2 1 0 1 0 1 .1 1 0 1 0 1 0 1 0 1 0 1 0 1 0 1-.1 1 0 1-.1 1 0 1-.1 1-.1 1-.1 1-.2 1-.1 1-.2 1-.2 1-.3 1-.3 1-.4 1-.4 1-.4 1-.3 1-.2 1-.3 1-.2 1-.2 1-.1 1-.2 1-.2 1-.1 1-.2 1-.1 1-.1 1-.2 1 0 1 0 1 0 1 0 1 0 1 0 1 0 1 0 1 .1 1 .1 1 .3 1 .3 1 .4 1 .4 1 .5 1 .7 1 .8 1 1 1 1.1 1 1.4 1 1.6 1 1.8 1 2.1 1 2.4 1 2.9 1 3.2 1 3.8 1 4.3 1 4.2 1 4.3 1 3.8 1 3.6 1 2.2 1 1.3 1 .5 1-.5 1-.8 1-.8 1-.9 1-.9 1-.7 1-.7 1-.5 1-.4 1-.2 1-.3 1-.2 1-.2 1-.1 1-.2 1-.1 1-.2 1-.1 1-.1 1-.1 1 0 1 .2 1 .2 1 .2 1 .4 1 .3 1 .4 1 .2 1 .2 1 .2 1 0 1 0 1-.1 1-.2 1-.1 1-.1 1-.2 1-.2 1-.3 1-.2 1-.3 1-.3 1-.4 1-.3 1-.3 1-.4 1-.3 1-.3 1-.3 1-.2 1 0 1 .2 1 .4 1 .6 1 .9 1 .9 1 .8 1 .9 1 .7 1 .8 1 .5 1 .3 1 .3 1 .2 1 .1 .5 0V551H352.5Z"/>
<path fill="#6a3d9a" d="M352.5 467.3l1 .1 1 .1 1 .1 1 .1 1 .1 1 .1 1 .1 1 0 1 .1 1 .1 1 0 1 .1 1 0 1 0 1 0 1 .1 1 0 1 0 1 0 1 0 1 0 1 0 1 .1 1 0 1 0 1 0 1 0 1 0 1 0 1 0 1 0 1 0 1 0 1 0 1 0 1 0 1 0 1 0 1 0 1 0 1 0 1 0 1 0 1 0 1 0 1 0 1 0 1 0 1 0 1 0 1 0 1 0 1 0 1 0 1 0 1 0 1 0 1 0 1 0 1 0 1 0 1 0 1 .1 1 .1 1 .2 1 .2 1 .1 1 .3 1 .3 1 .4 1 .5 1 .5 1 .5 1 .4 1 .3 1 .3 1 .3 1 .2 1 .3 1 .2 1 .2 1 .1 1 .1 1 .1 1 .1 1 .1 1 .2 1 .2 1 .3 1 .3 1 .4 1 .4 1 .5 1 .4 1 .4 1 .5 1 .5 1 .5 1 .4 1 .4 1 .2 1 .3 1 .2 1 .2 1 .1 1 .1 1 .1 1 0 1-.1 1-.1 1-.2 1-.2 1-.2 1-.2 1-.1 1-.1 1-.2 1-.1 1-.1 1 0 1-.1 1 .1 1 0 1 .1 1 .1 1 .2 1 .1 1 .2 1 .3 1 .4 1 .4 1 .5 1 .4 1 .5 1 .4 1 .4 1 .5 1 .4 1 .4 1 .5 1 .4 1 .3 1 .4 1 .3 1 .4 1 .4 1 .4 1 .4 1 .6 1 .5 1 .6 1 .6 1 .6 1 .8 1 .7 1 .6 1 .4 1 0 1-.1 1-.2 1-.3 1-.3 1-.4 1-.6 1-.6 1-.7 1-.3 1-.1 1 0 1 .1 1 .1 1 .1 1 .1 1 .3 1 .4 1 .3 1 .2 1 0 1-.3 1-.6 1-.6 1-.7 1-.5 1-.5 1-.5 1-.6 1-.5 1-.5 1-.4 1-.4 1-.4 1-.3 1-.4 1-.3 1-.2 1-.3 1-.2 1-.2 1-.3 1-.2 1-.1 1-.1 1 0 1 .1 1 .2 1 .2 1 .2 1 .3 1 .3 1 .5 1 .6 1 .6 1 .7 1 .9 1 1 1 1.1 1 1.2 1 1.4 1 1.5 1 1.7 1 2 1 2.4 1 2.7 1 3.2 1 3.8 1 4.5 1 4.6 1 4.8 1 4.6 1 4.5 1 4.2 1 1.8 1 .7 1 .3 1-.2 1-.6 1-.5 1-.5 1-.5 1-.2 1 0 1 .1 1 .1 1 .1 1 .3 1 .3 1 .4 1 .3 1 .2 1 .3 1 .4 1 .4 1 .5 1 .5 1 .6 1 .8 1 .9 1 .6 1 .5 1 .3 1 .3 1 .3 1 .2 1 0 1-.4 1-.7 1-.6 1-.8 1-.5 1-.3 1-.2 1-.1 1 0 1 0 1 0 1 0 1 0 1-.1 1-.2 1-.2 1-.2 1-.3 1-.5 1-.4 1-.3 1-.3 1 0 1 .2 1 .4 1 .9 1 1.4 1 1 1 .6 1 .6 1 .2 1-.2 1-.4 1-.5 1-.4 .5-.2V551H352.5Z"/>
</g>
<text x="615.8" y="441.7" font-size="12.5" fill="#fff" text-anchor="middle" >MNA</text>
<text x="617.5" y="492.5" font-size="21.6" fill="#fff" text-anchor="middle" >PRE</text>
<text x="621.3" y="534" font-size="12.5" fill="#000" text-anchor="middle" >SAS</text>
<!-- chart i -->
<clipPath id="ci"><path d="M660.8 454.7l1-.1 1 0 1-.1 1 0 1 0 1-.1 1 0 1 0 1-.1 1 0 1 0 1 0 1 0 1 0 1 0 1 0 1 0 1 0 1 0 1 0 1 0 1 0 1 0 1 0 1 0 1 0 1 0 1 0 1 0 1 0 1 0 1 0 1 0 1 0 1 0 1 0 1 0 1 0 1 0 1 0 1 0 1 0 1 0 1 0 1 0 1 0 1 0 1 0 1 0 1 0 1 0 1 0 1 0 1-.1 1 0 1 0 1-.1 1 0 1 0 1-.1 1 0 1-.1 1-.3 1-.4 1-.4 1-.4 1-.4 1-.6 1-.6 1-.6 1-.6 1-.6 1-.6 1-.6 1-.5 1-.3 1-.3 1-.3 1-.2 1-.2 1-.2 1-.1 1-.1 1-.1 1-.1 1-.1 1-.1 1-.1 1-.1 1-.1 1-.1 1-.1 1-.1 1-.2 1-.1 1-.3 1-.2 1-.3 1-.1 1-.2 1-.1 1-.1 1-.1 1 0 1 .1 1 .1 1 .2 1 .2 1 .3 1 .4 1 .5 1 .6 1 .6 1 .5 1 .4 1 .4 1 .4 1 .3 1 .2 1 .2 1 .1 1 .1 1 .1 1 0 1 .1 1 0 1 0 1-.1 1 0 1-.1 1-.1 1-.1 1-.1 1 0 1-.1 1-.1 1-.1 1-.2 1-.7 1-.5 1-.1 1 0 1-.1 1-.1 1-.2 1-.3 1-.5 1-.6 1-.7 1-1 1-1.3 1-1.3 1-1.2 1-1.2 1-.9 1-.5 1-.3 1-.2 1 .3 1 .9 1 1 1 1.2 1 1.3 1 1.1 1 .8 1 .6 1 .6 1 .4 1 .2 1-.1 1-.1 1-.2 1-.3 1-.1 1 .1 1 .4 1 .4 1 .5 1 .3 1 .2 1 .2 1 .2 1 .2 1 .2 1 .1 1 .1 1 .1 1 .1 1 .1 1 .1 1 .1 1 0 1 .1 1 .1 1 .1 1 .1 1 0 1 .1 1 .1 1 .1 1 .1 1 .2 1 .1 1 .1 1 .1 1 0 1 0 1-.1 1-.1 1-.1 1-.1 1-.2 1-.1 1-.2 1-.2 1-.3 1-.3 1-.4 1-.5 1-.6 1-.8 1-1 1-1.2 1-1.8 1-2.3 1-2.7 1-3.2 1-4 1-3.4 1-3.1 1-2.4 1-1.4 1-.4 1 .9 1 1.3 1 1.7 1 1.1 1 .5 1 0 1-.3 1-.6 1-.6 1-.8 1-1.1 1-1.1 1 0 1 .1 1 .3 1 1.2 1 1.6 1 1.2 1 1.3 1 1.3 1 1 1 .6 1 .1 1-.2 1-.4 1-.7 1-.6 1-.7 1-.8 1-.6 1 0 1 .4 1 .2 1 .1 1-.4 1-1 1-1.5 1-1.7 1-1.8 1-2.4 1-2.4 1-2.3 1-2.4 1-1.2 1-.4 1 1.5 1 1.6 1 1.7 1 1.7 1 1.1 1 .4 1-.1 1-.5 1-.8 1-.8 1-.7 1-.6 1-.7 1-.5 1-.4 1-.3 1-.3 1-.3 1-.2 1-.2 1-.2 1-.1 .2 0L961 545.7l-.2 0-1 0-1-.1-1-.1-1-.1-1-.4-1-.5-1-.6-1-.6-1-.6-1-.7-1-.7-1-.7-1-.4-1-.2-1 0-1 .1-1 .1-1 .1-1 .1-1 .2-1 .1-1 .2-1 .3-1 .3-1 .4-1 .4-1 .3-1 .4-1 .4-1 .4-1 .4-1 .3-1 0-1-.1-1-.2-1-.2-1-.2-1-.3-1-.4-1-.4-1-.5-1-.4-1-.4-1-.2-1-.2-1-.1-1-.1-1-.1-1-.1-1-.1-1-.2-1-.1-1-.2-1-.1-1-.2-1-.1-1-.1-1 .1-1 .3-1 .6-1 .7-1 .8-1 .8-1 .9-1 .8-1-.7-1-1.3-1-2.4-1-3-1-3.8-1-4.3-1-4.6-1-5-1-4.1-1-3.3-1-3-1-2.6-1-2.3-1-2.1-1-1.9-1-1.8-1-1.8-1-1.6-1-1.6-1-1.5-1-1.5-1-1.5-1-1.5-1-1.3-1-1.2-1-1.2-1-1.2-1-.9-1-.6-1-.2-1-.1-1-.1-1-.1-1 0-1 0-1 0-1 0-1 .2-1 .2-1 .2-1 .3-1 .3-1 .3-1 .3-1 .4-1 .4-1 .4-1 .5-1 .6-1 .7-1 .8-1 .7-1 .6-1 .5-1 .4-1 .4-1 .2-1 0-1-.3-1-.4-1-.4-1-.4-1-.2-1-.2-1-.2-1-.2-1 0-1 0-1 .3-1 .6-1 .6-1 .6-1 .1-1 0-1 0-1 0-1 0-1 0-1 0-1 0-1-.2-1-.4-1-.3-1-.5-1-.4-1-.5-1-.6-1-.8-1-.7-1-.6-1-.6-1-.6-1-.6-1-.4-1-.4-1-.3-1-.2-1-.3-1-.6-1-.6-1-.7-1-.7-1-.6-1-.7-1-.7-1-.6-1-.4-1-.2-1-.2-1-.1-1-.2-1 0-1 0-1 0-1 .1-1 .1-1 0-1 .1-1 .1-1 .1-1 0-1 .1-1 .1-1 .1-1 0-1 0-1 0-1 0-1-.1-1-.1-1-.1-1-.1-1-.3-1-.5-1-.6-1-.7-1-.7-1-.6-1-.6-1-.7-1-.6-1-.5-1-.4-1-.4-1-.4-1-.3-1-.2-1 0-1 .1-1 .1-1 .1-1 .1-1 .1-1 .1-1 0-1-.2-1-.1-1-.3-1-.2-1-.3-1-.5-1-.6-1-.5-1-.6-1-.4-1-.5-1-.5-1-.4-1-.4-1-.3-1-.3-1-.3-1-.2-1-.1-1 0-1 0-1 0-1 .1-1 0-1 0-1 0-1 0-1 0-1 0-1 .1-1 0-1 0-1 0-1 0-1 0-1 0-1 0-1 0-1 0-1 0-1 0-1 0-1 0-1 0-1 0-1 0-1 0-1 0-1 0-1 0-1 0-1 0-1 0-1 0-1 0-1 0-1 0-1 0-1 0-1 0-1 0-1-.1-1 0-1 0-1 0-1 0-1 0-1 0-1-.1-1 0-1 0-1-.1-1 0-1-.1-1-.1-1-.1-1-.1-1-.1-1-.1-1-.1Z"/></clipPath>
<path d="M660.8 454.7l1-.1 1 0 1-.1 1 0 1 0 1-.1 1 0 1 0 1-.1 1 0 1 0 1 0 1 0 1 0 1 0 1 0 1 0 1 0 1 0 1 0 1 0 1 0 1 0 1 0 1 0 1 0 1 0 1 0 1 0 1 0 1 0 1 0 1 0 1 0 1 0 1 0 1 0 1 0 1 0 1 0 1 0 1 0 1 0 1 0 1 0 1 0 1 0 1 0 1 0 1 0 1 0 1 0 1 0 1-.1 1 0 1 0 1-.1 1 0 1 0 1-.1 1 0 1-.1 1-.3 1-.4 1-.4 1-.4 1-.4 1-.6 1-.6 1-.6 1-.6 1-.6 1-.6 1-.6 1-.5 1-.3 1-.3 1-.3 1-.2 1-.2 1-.2 1-.1 1-.1 1-.1 1-.1 1-.1 1-.1 1-.1 1-.1 1-.1 1-.1 1-.1 1-.1 1-.2 1-.1 1-.3 1-.2 1-.3 1-.1 1-.2 1-.1 1-.1 1-.1 1 0 1 .1 1 .1 1 .2 1 .2 1 .3 1 .4 1 .5 1 .6 1 .6 1 .5 1 .4 1 .4 1 .4 1 .3 1 .2 1 .2 1 .1 1 .1 1 .1 1 0 1 .1 1 0 1 0 1-.1 1 0 1-.1 1-.1 1-.1 1-.1 1 0 1-.1 1-.1 1-.1 1-.2 1-.7 1-.5 1-.1 1 0 1-.1 1-.1 1-.2 1-.3 1-.5 1-.6 1-.7 1-1 1-1.3 1-1.3 1-1.2 1-1.2 1-.9 1-.5 1-.3 1-.2 1 .3 1 .9 1 1 1 1.2 1 1.3 1 1.1 1 .8 1 .6 1 .6 1 .4 1 .2 1-.1 1-.1 1-.2 1-.3 1-.1 1 .1 1 .4 1 .4 1 .5 1 .3 1 .2 1 .2 1 .2 1 .2 1 .2 1 .1 1 .1 1 .1 1 .1 1 .1 1 .1 1 .1 1 0 1 .1 1 .1 1 .1 1 .1 1 0 1 .1 1 .1 1 .1 1 .1 1 .2 1 .1 1 .1 1 .1 1 0 1 0 1-.1 1-.1 1-.1 1-.1 1-.2 1-.1 1-.2 1-.2 1-.3 1-.3 1-.4 1-.5 1-.6 1-.8 1-1 1-1.2 1-1.8 1-2.3 1-2.7 1-3.2 1-4 1-3.4 1-3.1 1-2.4 1-1.4 1-.4 1 .9 1 1.3 1 1.7 1 1.1 1 .5 1 0 1-.3 1-.6 1-.6 1-.8 1-1.1 1-1.1 1 0 1 .1 1 .3 1 1.2 1 1.6 1 1.2 1 1.3 1 1.3 1 1 1 .6 1 .1 1-.2 1-.4 1-.7 1-.6 1-.7 1-.8 1-.6 1 0 1 .4 1 .2 1 .1 1-.4 1-1 1-1.5 1-1.7 1-1.8 1-2.4 1-2.4 1-2.3 1-2.4 1-1.2 1-.4 1 1.5 1 1.6 1 1.7 1 1.7 1 1.1 1 .4 1-.1 1-.5 1-.8 1-.8 1-.7 1-.6 1-.7 1-.5 1-.4 1-.3 1-.3 1-.3 1-.2 1-.2 1-.2 1-.1 .2 0L961 545.7l-.2 0-1 0-1-.1-1-.1-1-.1-1-.4-1-.5-1-.6-1-.6-1-.6-1-.7-1-.7-1-.7-1-.4-1-.2-1 0-1 .1-1 .1-1 .1-1 .1-1 .2-1 .1-1 .2-1 .3-1 .3-1 .4-1 .4-1 .3-1 .4-1 .4-1 .4-1 .4-1 .3-1 0-1-.1-1-.2-1-.2-1-.2-1-.3-1-.4-1-.4-1-.5-1-.4-1-.4-1-.2-1-.2-1-.1-1-.1-1-.1-1-.1-1-.1-1-.2-1-.1-1-.2-1-.1-1-.2-1-.1-1-.1-1 .1-1 .3-1 .6-1 .7-1 .8-1 .8-1 .9-1 .8-1-.7-1-1.3-1-2.4-1-3-1-3.8-1-4.3-1-4.6-1-5-1-4.1-1-3.3-1-3-1-2.6-1-2.3-1-2.1-1-1.9-1-1.8-1-1.8-1-1.6-1-1.6-1-1.5-1-1.5-1-1.5-1-1.5-1-1.3-1-1.2-1-1.2-1-1.2-1-.9-1-.6-1-.2-1-.1-1-.1-1-.1-1 0-1 0-1 0-1 0-1 .2-1 .2-1 .2-1 .3-1 .3-1 .3-1 .3-1 .4-1 .4-1 .4-1 .5-1 .6-1 .7-1 .8-1 .7-1 .6-1 .5-1 .4-1 .4-1 .2-1 0-1-.3-1-.4-1-.4-1-.4-1-.2-1-.2-1-.2-1-.2-1 0-1 0-1 .3-1 .6-1 .6-1 .6-1 .1-1 0-1 0-1 0-1 0-1 0-1 0-1 0-1-.2-1-.4-1-.3-1-.5-1-.4-1-.5-1-.6-1-.8-1-.7-1-.6-1-.6-1-.6-1-.6-1-.4-1-.4-1-.3-1-.2-1-.3-1-.6-1-.6-1-.7-1-.7-1-.6-1-.7-1-.7-1-.6-1-.4-1-.2-1-.2-1-.1-1-.2-1 0-1 0-1 0-1 .1-1 .1-1 0-1 .1-1 .1-1 .1-1 0-1 .1-1 .1-1 .1-1 0-1 0-1 0-1 0-1-.1-1-.1-1-.1-1-.1-1-.3-1-.5-1-.6-1-.7-1-.7-1-.6-1-.6-1-.7-1-.6-1-.5-1-.4-1-.4-1-.4-1-.3-1-.2-1 0-1 .1-1 .1-1 .1-1 .1-1 .1-1 .1-1 0-1-.2-1-.1-1-.3-1-.2-1-.3-1-.5-1-.6-1-.5-1-.6-1-.4-1-.5-1-.5-1-.4-1-.4-1-.3-1-.3-1-.3-1-.2-1-.1-1 0-1 0-1 0-1 .1-1 0-1 0-1 0-1 0-1 0-1 0-1 .1-1 0-1 0-1 0-1 0-1 0-1 0-1 0-1 0-1 0-1 0-1 0-1 0-1 0-1 0-1 0-1 0-1 0-1 0-1 0-1 0-1 0-1 0-1 0-1 0-1 0-1 0-1 0-1 0-1 0-1 0-1 0-1-.1-1 0-1 0-1 0-1 0-1 0-1 0-1-.1-1 0-1 0-1-.1-1 0-1-.1-1-.1-1-.1-1-.1-1-.1-1-.1-1-.1Z" fill="#1f78b4" stroke="#c2a57c" stroke-opacity=".55" stroke-width="2.6" stroke-dasharray="3.5 2" stroke-linejoin="round" paint-order="stroke"/>
<g clip-path="url(#ci)">
<path fill="#cab2d6" d="M660.8 456.3l1 0 1 0 1 0 1 0 1 0 1-.1 1 0 1 0 1 0 1 0 1 0 1 0 1-.1 1 0 1 0 1 0 1 0 1 0 1 0 1 0 1 0 1 0 1-.1 1 0 1 0 1 0 1 0 1 0 1 0 1 0 1 0 1 0 1-.1 1 0 1 0 1 0 1 0 1 0 1 0 1 0 1 0 1 0 1-.1 1 0 1 0 1 0 1 0 1 0 1 0 1 0 1 0 1 0 1 0 1 0 1-.1 1 0 1 0 1 0 1 0 1 0 1 0 1-.1 1 0 1 0 1-.1 1 0 1-.1 1 0 1-.1 1 0 1-.1 1-.1 1-.1 1-.1 1-.1 1-.1 1 0 1 0 1 0 1 0 1 0 1 0 1 0 1 0 1 0 1 0 1 0 1 0 1 0 1 0 1 0 1 0 1 0 1 0 1-.1 1 0 1-.1 1-.2 1-.1 1-.1 1-.1 1-.1 1-.1 1-.1 1 0 1 0 1 .1 1 .2 1 .3 1 .2 1 .2 1 .1 1 .1 1 .1 1 .1 1 .1 1 .1 1 0 1 0 1 0 1 0 1 0 1 0 1 0 1 0 1 0 1 0 1 0 1 0 1 0 1 0 1-.1 1 0 1-.1 1 0 1-.1 1-.1 1-.1 1-.1 1-.1 1-.1 1-.1 1 0 1-.1 1-.1 1 0 1-.1 1-.1 1-.1 1 0 1-.1 1-.1 1-.1 1-.1 1-.1 1-.2 1-.1 1-.1 1 0 1 0 1 .1 1 .2 1 .1 1 .1 1 .1 1 .1 1-.1 1-.1 1-.1 1-.2 1-.1 1-.1 1 0 1 .1 1 .2 1 .2 1 .2 1 .2 1 .2 1 .2 1 .2 1 .1 1 .2 1 .1 1 .1 1 0 1 0 1 0 1 0 1 0 1 0 1 0 1 0 1 0 1 .1 1 .1 1 0 1 .1 1 0 1 0 1 0 1 0 1 0 1 0 1 0 1 0 1 0 1 0 1 0 1 0 1 0 1 0 1 0 1 .1 1 0 1 .1 1 .1 1 0 1 .1 1-.1 1-.1 1-.1 1-.2 1-.3 1-.2 1-.3 1-.3 1-.2 1-.3 1-.3 1-.4 1-.3 1-.4 1-.3 1-.2 1-.2 1-.2 1-.1 1-.1 1 0 1-.1 1-.1 1-.1 1-.1 1-.2 1-.1 1-.2 1-.3 1-.2 1-.3 1-.4 1-.4 1-.6 1-.7 1-.7 1-.5 1-.4 1-.3 1-.3 1-.3 1-.1 1 .1 1 .3 1 .5 1 .5 1 1 1 1.2 1 .6 1 0 1 0 1 0 1 0 1 0 1-.1 1-.2 1-.4 1-.3 1-.2 1 0 1 0 1 0 1 0 1 0 1 0 1 0 1 0 1 .2 1 .3 1 .4 1 .4 1 .4 1 .4 1 .4 1 .6 1 .6 1 .6 1 .8 1 .9 1 .9 1 .2 .2 0V548.7H660.8Z"/>
<path fill="#b2df8a" d="M660.8 456.7l1-.1 1 0 1 0 1 0 1 0 1 0 1 0 1-.1 1 0 1 0 1 0 1 0 1 0 1 0 1 0 1-.1 1 0 1 0 1 0 1 0 1 0 1 0 1 0 1 0 1 0 1-.1 1 0 1 0 1 0 1 0 1 0 1 0 1 0 1 0 1 0 1-.1 1 0 1 0 1 0 1 0 1 0 1 0 1 0 1 0 1 0 1-.1 1 0 1 0 1 0 1 0 1 0 1 0 1 0 1 0 1 0 1 0 1-.1 1 0 1 0 1 0 1 0 1 0 1 0 1-.1 1 0 1 0 1 0 1 0 1-.1 1 0 1 0 1-.1 1 0 1-.1 1 0 1-.1 1 0 1 0 1 0 1 0 1 0 1 0 1 0 1 0 1 0 1 0 1 0 1 0 1 .1 1 0 1 0 1 0 1 .1 1 0 1 0 1-.1 1 0 1-.1 1-.1 1 0 1-.1 1 0 1-.1 1 0 1 0 1 0 1 0 1 .2 1 .2 1 .1 1 .1 1 .1 1 .1 1 .1 1 .1 1 0 1 .1 1 0 1 0 1 0 1 0 1 0 1 0 1 0 1 0 1 0 1 0 1 0 1 0 1 0 1 0 1 0 1 0 1-.1 1 0 1 0 1-.3 1-.3 1-.2 1-.1 1-.1 1 0 1-.1 1 0 1-.1 1 0 1-.1 1 0 1 0 1-.1 1 0 1-.1 1-.1 1 0 1-.1 1-.1 1-.1 1-.1 1 0 1 0 1 .1 1 .1 1 .1 1 .1 1 0 1 .1 1-.1 1-.1 1-.1 1-.1 1-.1 1 0 1 0 1 .1 1 .1 1 .2 1 .3 1 .2 1 .2 1 .2 1 .1 1 .2 1 .2 1 .1 1 .2 1 0 1 .1 1 .1 1 0 1 .1 1 0 1 0 1 .1 1 .1 1 0 1 .1 1 0 1 .1 1 0 1 0 1 0 1 0 1 0 1 0 1 0 1 0 1 0 1 0 1 0 1 0 1 0 1 0 1 0 1 0 1 0 1 .1 1 0 1 0 1 0 1 0 1-.1 1-.1 1-.1 1-.1 1-.2 1-.1 1-.2 1-.2 1-.1 1-.2 1-.2 1-.2 1-.2 1-.2 1-.2 1-.1 1-.1 1-.1 1-.1 1-.1 1-.1 1-.1 1-.1 1-.1 1-.1 1-.2 1-.2 1-.2 1-.3 1-.2 1-.2 1-.3 1-.2 1-.3 1-.3 1-.2 1-.2 1-.2 1-.2 1-.2 1-.1 1 .1 1 .3 1 .5 1 .5 1 .7 1 .9 1 .5 1 .2 1 .1 1 .1 1 .1 1 0 1 0 1 0 1-.1 1-.1 1 0 1 0 1 0 1 0 1 0 1 0 1 0 1 0 1 0 1 .1 1 .2 1 .1 1 .2 1 .2 1 .3 1 .3 1 .3 1 .3 1 .5 1 .4 1 .6 1 .6 1 .1 .2 0V548.7H660.8Z"/>
<path fill="#e31a1c" d="M660.8 456.7l1-.1 1 0 1 0 1 0 1 0 1 0 1 0 1-.1 1 0 1 0 1 0 1 0 1 0 1 0 1 0 1-.1 1 0 1 0 1 0 1 0 1 0 1 0 1 0 1 0 1 0 1-.1 1 0 1 0 1 0 1 0 1 0 1 0 1 0 1 0 1 0 1-.1 1 0 1 0 1 0 1 0 1 0 1 0 1 0 1 0 1 0 1-.1 1 0 1 0 1 0 1 0 1 0 1 0 1 0 1 0 1 0 1 0 1-.1 1 0 1 0 1 0 1 0 1 0 1 0 1-.1 1 0 1 0 1 0 1 0 1-.1 1 0 1 0 1-.1 1 0 1-.1 1 0 1-.1 1 0 1 0 1 0 1 0 1 0 1 0 1 0 1 0 1 0 1 0 1 0 1 0 1 .1 1 0 1 0 1 0 1 .1 1 0 1 0 1-.1 1 0 1-.1 1-.1 1 0 1-.1 1 0 1-.1 1 0 1 0 1 0 1 0 1 .2 1 .2 1 .1 1 .1 1 .1 1 .1 1 .1 1 .1 1 0 1 .1 1 0 1 0 1 0 1 0 1 0 1 0 1 0 1 0 1 0 1 0 1 0 1 0 1 0 1 0 1 0 1 0 1-.1 1 0 1 0 1-.3 1-.3 1-.2 1-.1 1-.1 1 0 1-.1 1 0 1-.1 1 0 1-.1 1 0 1 0 1-.1 1 0 1-.1 1-.1 1 0 1-.1 1-.1 1-.1 1-.1 1 0 1 0 1 .1 1 .1 1 .1 1 .1 1 0 1 .1 1-.1 1-.1 1-.1 1-.1 1-.1 1 0 1 0 1 .1 1 .1 1 .2 1 .3 1 .2 1 .2 1 .2 1 .1 1 .2 1 .2 1 .1 1 .2 1 0 1 .1 1 .1 1 0 1 .1 1 0 1 0 1 .1 1 .1 1 .1 1 0 1 .1 1 0 1 .1 1 0 1 0 1 0 1 .1 1 0 1 0 1 0 1 0 1 0 1 .1 1 0 1 0 1 0 1 0 1 .1 1 0 1 0 1 .1 1 0 1 0 1 0 1 0 1-.1 1-.1 1-.2 1-.1 1-.2 1-.2 1-.1 1-.2 1-.2 1-.1 1-.2 1-.2 1-.2 1-.2 1-.1 1-.2 1-.1 1-.1 1 0 1-.1 1-.1 1-.1 1-.1 1-.2 1-.1 1-.2 1-.3 1-.2 1-.2 1-.3 1-.2 1-.3 1-.2 1-.3 1-.2 1-.2 1-.2 1-.3 1-.1 1-.1 1 0 1 .4 1 .5 1 .5 1 .7 1 .8 1 .6 1 .2 1 .1 1 .1 1 .1 1 0 1 0 1 0 1-.1 1-.1 1 0 1 0 1 0 1 0 1 0 1 0 1 0 1 0 1 0 1 .1 1 .2 1 .1 1 .2 1 .2 1 .3 1 .3 1 .3 1 .3 1 .5 1 .4 1 .6 1 .6 1 .1 .2 0V548.7H660.8Z"/>
<path fill="#ffff99" d="M660.8 457.1l1 0 1 0 1 0 1-.1 1 0 1 0 1 0 1 0 1 0 1 0 1 0 1-.1 1 0 1 0 1 0 1 0 1 0 1 0 1 0 1 0 1 0 1-.1 1 0 1 0 1 0 1 0 1 0 1 0 1 0 1 0 1 0 1 0 1 0 1-.1 1 0 1 0 1 0 1 0 1 0 1 0 1 0 1 0 1 0 1 0 1-.1 1 0 1 0 1 0 1 0 1 0 1 0 1 0 1 0 1 0 1 0 1 0 1-.1 1 0 1 0 1 0 1 0 1 0 1 0 1 0 1-.1 1 0 1 0 1 0 1 0 1-.1 1 0 1-.1 1 0 1-.1 1 0 1-.1 1 0 1 0 1 0 1 0 1 0 1 0 1 0 1 0 1 0 1 0 1 0 1 .1 1 0 1 0 1 .1 1 0 1 0 1 0 1 0 1 0 1-.1 1 0 1-.1 1-.1 1 0 1-.1 1 0 1 0 1-.1 1 0 1 .1 1 .1 1 .2 1 .2 1 .1 1 .1 1 .1 1 .1 1 0 1 .1 1 .1 1 0 1 0 1 0 1 0 1 0 1 0 1 0 1 0 1 0 1 0 1 0 1 0 1 0 1 0 1 0 1 0 1-.1 1 0 1 0 1-.3 1-.3 1-.2 1-.1 1-.1 1 0 1-.1 1 0 1-.1 1 0 1 0 1-.1 1 0 1-.1 1 0 1-.1 1 0 1-.1 1-.1 1-.1 1-.1 1-.1 1 0 1 0 1 .1 1 .1 1 .1 1 .1 1 .1 1 0 1 0 1-.1 1-.1 1-.1 1-.1 1 0 1 0 1 .1 1 .2 1 .2 1 .2 1 .2 1 .2 1 .2 1 .2 1 .2 1 .1 1 .2 1 .1 1 .1 1 .1 1 .1 1 0 1 .1 1 0 1 .1 1 0 1 .1 1 .1 1 .1 1 0 1 .1 1 0 1 .1 1 0 1 0 1 0 1 .1 1 0 1 0 1 0 1 .1 1 0 1 0 1 0 1 .1 1 0 1 0 1 .1 1 0 1 .1 1 0 1 0 1 0 1 0 1-.1 1-.1 1-.1 1-.2 1-.1 1-.2 1-.1 1-.1 1-.2 1-.2 1-.2 1-.2 1-.1 1-.2 1-.1 1-.1 1-.1 1-.1 1-.1 1 0 1-.1 1-.1 1-.1 1-.2 1-.1 1-.2 1-.3 1-.2 1-.2 1-.3 1-.2 1-.3 1-.2 1-.3 1-.2 1-.2 1-.2 1-.3 1-.1 1-.1 1 0 1 .4 1 .5 1 .5 1 .7 1 .8 1 .6 1 .2 1 .1 1 .1 1 .1 1 0 1 0 1 0 1-.1 1-.1 1 0 1 0 1 0 1 0 1 0 1 0 1 0 1 0 1 0 1 .1 1 .2 1 .1 1 .2 1 .2 1 .3 1 .3 1 .3 1 .3 1 .5 1 .4 1 .6 1 .6 1 .1 .2 0V548.7H660.8Z"/>
<path fill="#fdbf6f" d="M660.8 457.6l1 0 1 0 1 0 1 0 1 0 1-.1 1 0 1 0 1 0 1 0 1 0 1 0 1 0 1 0 1-.1 1 0 1 0 1 0 1 0 1 0 1 0 1 0 1 0 1 0 1 0 1 0 1 0 1-.1 1 0 1 0 1 0 1 0 1 0 1 0 1 0 1 0 1 0 1 0 1 0 1 0 1-.1 1 0 1 0 1 0 1 0 1 0 1 0 1 0 1 0 1 0 1 0 1 0 1 0 1 0 1 0 1-.1 1 0 1 0 1 0 1 0 1 0 1 0 1 0 1 0 1-.1 1 0 1 0 1 0 1 0 1-.1 1 0 1-.1 1 0 1-.1 1 0 1 0 1-.1 1 0 1 0 1 0 1 0 1 0 1 .1 1 0 1 0 1 0 1 0 1 0 1 0 1 .1 1 0 1 0 1 0 1 0 1 0 1 0 1 0 1-.1 1-.1 1 0 1-.1 1 0 1-.1 1 0 1 0 1 0 1 0 1 .2 1 .2 1 .2 1 .1 1 .1 1 0 1 .1 1 .1 1 .1 1 0 1 .1 1 0 1 0 1 0 1 0 1 0 1 0 1 0 1 0 1 0 1 0 1 0 1 0 1 0 1 0 1-.1 1 0 1 0 1-.1 1-.2 1-.3 1-.2 1-.1 1-.1 1 0 1-.1 1 0 1 0 1-.1 1 0 1-.1 1 0 1 0 1-.1 1 0 1-.1 1-.1 1-.1 1-.1 1 0 1-.1 1 0 1 0 1 .1 1 .1 1 .1 1 .1 1 .1 1 .1 1-.1 1 0 1-.1 1-.1 1-.1 1-.1 1 .1 1 .1 1 .1 1 .3 1 .2 1 .2 1 .3 1 .1 1 .2 1 .2 1 .2 1 .2 1 .1 1 .1 1 .1 1 0 1 .1 1 .1 1 0 1 .1 1 .1 1 .1 1 0 1 .1 1 .1 1 .1 1 0 1 .1 1 0 1 0 1 .1 1 0 1 0 1 .1 1 0 1 .1 1 0 1 0 1 .1 1 0 1 0 1 .1 1 0 1 .1 1 0 1 .1 1 0 1 0 1 0 1-.1 1-.1 1-.1 1-.1 1-.1 1-.2 1-.1 1-.1 1-.2 1-.1 1-.2 1-.2 1-.1 1-.1 1-.2 1-.1 1 0 1-.1 1-.1 1 0 1-.1 1-.1 1-.1 1-.2 1-.1 1-.2 1-.3 1-.2 1-.2 1-.3 1-.2 1-.3 1-.2 1-.3 1-.2 1-.2 1-.2 1-.3 1-.1 1-.1 1 0 1 .4 1 .5 1 .5 1 .7 1 .8 1 .6 1 .2 1 .1 1 .1 1 .1 1 0 1 0 1-.1 1 0 1-.1 1 0 1 0 1 0 1 0 1 0 1 0 1-.1 1 0 1 .1 1 .1 1 .1 1 .2 1 .2 1 .2 1 .2 1 .3 1 .3 1 .4 1 .4 1 .4 1 .6 1 .6 1 .1 .2 0V548.7H660.8Z"/>
<path fill="#a6cee3" d="M660.8 457.6l1 0 1 0 1 0 1 0 1 0 1-.1 1 0 1 0 1 0 1 0 1 0 1 0 1 0 1 0 1-.1 1 0 1 0 1 0 1 0 1 0 1 0 1 0 1 0 1 0 1 0 1 0 1 0 1-.1 1 0 1 0 1 0 1 0 1 0 1 0 1 0 1 0 1 0 1 0 1 0 1 0 1-.1 1 0 1 0 1 0 1 0 1 0 1 0 1 0 1 0 1 0 1 0 1 0 1 0 1 0 1 0 1-.1 1 0 1 0 1 0 1 0 1 0 1 0 1 0 1 0 1-.1 1 0 1 0 1 0 1 0 1 0 1 0 1 0 1 0 1 0 1 0 1 0 1 0 1 0 1 0 1 0 1 .1 1 0 1 .1 1 0 1 .1 1 0 1 .1 1 0 1 .1 1 0 1 0 1 .1 1 0 1 .1 1 0 1 0 1 .1 1 0 1 .1 1 0 1 0 1 .1 1 0 1 .1 1 0 1 0 1 .1 1 0 1 .1 1 0 1 0 1 .1 1 0 1 .1 1 0 1 .1 1 0 1 .1 1 0 1 0 1 0 1 0 1 0 1 0 1 0 1 0 1 0 1 0 1 0 1 0 1 0 1 0 1 0 1 0 1 0 1 0 1-.1 1-.1 1-.2 1 0 1-.1 1 0 1-.1 1 0 1-.1 1 0 1-.1 1 0 1-.1 1-.1 1-.1 1-.1 1 0 1-.1 1-.1 1-.1 1-.1 1-.1 1 0 1 0 1 .1 1 0 1 .1 1 .1 1 0 1 0 1 0 1 0 1 0 1 0 1 0 1 0 1 0 1 .1 1 .2 1 .2 1 .2 1 .2 1 .1 1 .1 1 .1 1 .2 1 .1 1 .1 1 0 1 .1 1 .1 1 0 1 .1 1 0 1 .1 1 0 1 .1 1 0 1 .1 1 0 1 .1 1 0 1 .1 1 0 1 .1 1 0 1 .1 1 0 1 .1 1 0 1 .1 1 0 1 0 1 .1 1 0 1 .1 1 .1 1 .1 1 .1 1 .1 1 .2 1 0 1 .1 1 0 1 0 1 0 1-.1 1 0 1-.1 1 0 1 0 1-.1 1 0 1-.1 1-.1 1 0 1-.1 1-.1 1-.1 1 0 1-.1 1-.1 1-.1 1 0 1-.1 1-.1 1-.1 1-.1 1-.1 1-.1 1-.2 1-.2 1-.2 1-.2 1-.2 1-.3 1-.2 1-.3 1-.2 1-.2 1-.1 1-.1 1 0 1-.1 1 0 1 0 1 .1 1 .1 1 .2 1 .3 1 .4 1 .3 1 .2 1 .1 1 .2 1 .1 1 0 1 0 1-.1 1 0 1 0 1-.1 1 0 1 0 1 0 1 0 1 0 1 0 1 0 1 0 1 .1 1 .1 1 0 1 .1 1 .2 1 .1 1 .3 1 .4 1 .4 1 .4 1 .5 1 .5 1 .6 1 .1 .2 0V548.7H660.8Z"/>
<path fill="#6a3d9a" d="M660.8 457.6l1 0 1 0 1 0 1 0 1 0 1-.1 1 0 1 0 1 0 1 0 1 0 1 0 1 0 1 0 1-.1 1 0 1 0 1 0 1 0 1 0 1 0 1 0 1 0 1 0 1 0 1 0 1 0 1-.1 1 0 1 0 1 0 1 0 1 0 1 0 1 0 1 0 1 0 1 0 1 0 1 0 1-.1 1 0 1 0 1 0 1 0 1 0 1 0 1 0 1 0 1 0 1 0 1 0 1 0 1 0 1 0 1-.1 1 0 1 0 1 0 1 0 1 0 1 0 1 0 1 0 1-.1 1 0 1 0 1 0 1 0 1 0 1 0 1 0 1 0 1 0 1 0 1 0 1 0 1 0 1 0 1 0 1 .1 1 0 1 .1 1 0 1 .1 1 0 1 .1 1 0 1 .1 1 0 1 0 1 .1 1 0 1 .1 1 0 1 0 1 .1 1 0 1 .1 1 0 1 0 1 .1 1 0 1 .1 1 0 1 0 1 .1 1 0 1 .1 1 0 1 0 1 .1 1 0 1 .1 1 0 1 .1 1 0 1 .1 1 0 1 0 1 0 1 0 1 0 1 0 1 0 1 0 1 0 1 0 1 0 1 0 1 0 1 0 1 0 1 0 1 0 1 0 1-.1 1-.1 1-.2 1 0 1-.1 1 0 1-.1 1 0 1-.1 1 0 1-.1 1 0 1-.1 1-.1 1-.1 1-.1 1 0 1-.1 1-.1 1-.1 1-.1 1-.1 1 0 1 0 1 .1 1 0 1 .1 1 .1 1 0 1 0 1 0 1 0 1 0 1 0 1 0 1 0 1 0 1 .1 1 .2 1 .2 1 .2 1 .2 1 .1 1 .1 1 .1 1 .2 1 .1 1 .1 1 0 1 .1 1 .1 1 0 1 .1 1 0 1 .1 1 0 1 .1 1 0 1 .1 1 0 1 .1 1 .1 1 0 1 .1 1 .1 1 0 1 .1 1 .1 1 0 1 .1 1 .1 1 0 1 .1 1 .1 1 0 1 .1 1 .1 1 .1 1 .2 1 .1 1 .2 1 .1 1 0 1 0 1 0 1 0 1 0 1-.1 1 0 1 0 1-.1 1 0 1-.1 1 0 1-.1 1-.1 1 0 1-.1 1-.1 1-.1 1-.1 1 0 1-.1 1-.1 1 0 1-.1 1-.1 1-.1 1-.1 1-.2 1-.1 1-.2 1-.2 1-.2 1-.3 1-.2 1-.2 1-.3 1-.2 1-.2 1-.1 1-.1 1 0 1-.1 1 0 1 0 1 .1 1 .1 1 .1 1 .4 1 .4 1 .3 1 .1 1 .2 1 .1 1 .1 1 .1 1 0 1-.1 1 0 1 0 1-.1 1 0 1 0 1 0 1 0 1 0 1 0 1 0 1 0 1 .1 1 .1 1 0 1 .1 1 .2 1 .1 1 .3 1 .4 1 .4 1 .4 1 .5 1 .5 1 .6 1 .1 .2 0V548.7H660.8Z"/>
<path fill="#ff7f00" d="M660.8 457.6l1 0 1 0 1 0 1 0 1 0 1-.1 1 0 1 0 1 0 1 0 1 0 1 0 1 0 1 0 1-.1 1 0 1 0 1 0 1 0 1 0 1 0 1 0 1 0 1 0 1 0 1 0 1 0 1-.1 1 0 1 0 1 0 1 0 1 0 1 0 1 0 1 0 1 0 1 0 1 0 1 0 1-.1 1 0 1 0 1 0 1 0 1 0 1 0 1 0 1 0 1 0 1 0 1 0 1 0 1 0 1 0 1 0 1 0 1 0 1 0 1 0 1 0 1 0 1 0 1 0 1 0 1 0 1 0 1 0 1 0 1 0 1 0 1 0 1 0 1 0 1 0 1 0 1 0 1 0 1 0 1 0 1 .1 1 0 1 .1 1 0 1 .1 1 0 1 0 1 .1 1 0 1 .1 1 0 1 0 1 .1 1 0 1 .1 1 0 1 0 1 .1 1 0 1 .1 1 0 1 0 1 .1 1 0 1 .1 1 0 1 0 1 .1 1 0 1 .1 1 0 1 .1 1 0 1 .1 1 0 1 .1 1 0 1 0 1 0 1 0 1 0 1 0 1 0 1 0 1 0 1 0 1 0 1 0 1 0 1 0 1 0 1 0 1 0 1 0 1 0 1 0 1 0 1-.1 1 0 1-.1 1 0 1-.1 1-.1 1-.1 1 0 1-.1 1-.1 1-.1 1-.1 1 0 1-.1 1 0 1-.1 1 0 1 0 1 0 1 0 1 0 1 0 1 0 1 0 1 0 1 0 1 0 1 .1 1 0 1 0 1 0 1 .1 1 0 1 0 1 .1 1 0 1 .1 1 .2 1 .1 1 .2 1 .2 1 .2 1 .1 1 .2 1 .2 1 .1 1 .2 1 .1 1 .1 1 .1 1 0 1 .1 1 0 1 .1 1 0 1 .1 1 0 1 .1 1 0 1 .1 1 0 1 .1 1 0 1 .1 1 0 1 .1 1 0 1 .1 1 0 1 .1 1 0 1 .1 1 0 1 .1 1 0 1 .1 1 0 1 0 1 .1 1 0 1 0 1 .1 1 0 1 0 1 .1 1 0 1 0 1 0 1 .1 1 0 1 .1 1 0 1 .1 1 .1 1 .1 1 .1 1 .1 1 0 1 0 1 0 1 0 1 0 1 0 1-.1 1 0 1-.1 1 0 1-.1 1-.1 1-.2 1-.3 1-.3 1-.2 1-.2 1-.2 1-.1 1-.1 1-.1 1-.1 1-.1 1-.1 1 0 1-.1 1 0 1 0 1 .1 1 .2 1 .2 1 .4 1 .6 1 .4 1 .2 1 .3 1 .2 1 .1 1 .1 1 0 1-.1 1-.1 1 0 1-.1 1 0 1 0 1 .1 1 0 1 .1 1 0 1 .1 1 .1 1 .2 1 .3 1 .3 1 .3 1 .2 1 .2 1 .2 1 .2 1 .2 1 .3 1 .4 1 .4 1 .5 1 .1 .2 0V548.7H660.8Z"/>
<path fill="#33a02c" d="M660.8 459.3l1 0 1 0 1 0 1 0 1 0 1 0 1 0 1 0 1 0 1 0 1 0 1 0 1 0 1 0 1 0 1 0 1 0 1 0 1 0 1 0 1 0 1 0 1 0 1 0 1 0 1 0 1 0 1 0 1 0 1 0 1 0 1 0 1 0 1 0 1 0 1-.1 1 0 1 0 1 0 1 0 1 0 1 0 1 0 1 0 1 0 1 0 1 0 1 0 1 0 1 0 1 0 1 0 1 0 1 0 1 0 1 0 1 0 1 0 1 0 1 0 1 0 1 0 1 0 1 .1 1 .1 1 .1 1 .1 1 .1 1 .2 1 .3 1 .3 1 .3 1 .2 1 .3 1 .2 1 .2 1 .3 1 .2 1 .2 1 .1 1 0 1 0 1-.1 1-.1 1-.1 1-.1 1-.1 1 0 1 .1 1 .1 1 .2 1 .2 1 .2 1 .2 1 .1 1 .2 1 .2 1 .2 1 .2 1 .1 1 .2 1 .1 1 .2 1 .2 1 .1 1 .1 1 .1 1 0 1 0 1 0 1 0 1 0 1 0 1 0 1 0 1-.1 1 0 1-.1 1-.1 1 0 1 0 1 0 1 0 1 .1 1 0 1 .1 1 .1 1 0 1 .1 1 .2 1 .1 1 .2 1 .1 1 .2 1 .2 1 .3 1 .4 1 .4 1 .3 1 0 1-.1 1 0 1-.1 1-.1 1-.1 1-.1 1-.1 1 0 1-.1 1-.1 1 0 1 0 1 0 1 0 1 0 1 0 1 0 1 0 1 0 1 0 1 0 1 0 1 0 1 0 1 0 1 0 1 0 1 0 1 .1 1 .1 1 .1 1 0 1 0 1 0 1 0 1 0 1 0 1 0 1 0 1 0 1-.1 1 0 1-.1 1-.1 1 0 1 0 1 0 1 0 1 0 1 0 1 0 1 0 1 0 1 0 1 0 1 .1 1 0 1 .1 1 .1 1 .1 1 .1 1 .1 1 .2 1 .2 1 .1 1 .2 1 .2 1 .3 1 .2 1 .3 1 .3 1 .2 1 .3 1 .2 1 .3 1 .2 1 .3 1 .2 1 .3 1 .2 1 .3 1 .2 1 .3 1 .2 1 .3 1 .2 1 .3 1 .3 1 .3 1 .3 1 .3 1 .3 1 .3 1 .3 1 .3 1 .3 1 .3 1 .3 1 .3 1 .4 1 .3 1 .3 1 .4 1 .3 1 .3 1 .3 1 .3 1 .3 1 .2 1 .3 1 .2 1 .2 1 .2 1 .2 1 .2 1 .2 1 .1 1 .2 1 .2 1 .1 1 .2 1 .2 1 .1 1 .2 1 .1 1 .1 1 .1 1 .1 1 .1 1 .1 1 .1 1 .1 1 .1 1 .1 1 .1 1 .1 1 .1 1 0 1 .1 1 0 1 0 1 0 1 0 1 0 1 0 1 0 1-.1 1 0 1-.1 1-.1 1-.1 1-.1 1-.1 1-.1 1-.1 1-.1 1-.1 1-.1 1-.1 1 0 .2 0V548.7H660.8Z"/>
</g>
<text x="936.2" y="438.7" font-size="11.3" fill="#fff" text-anchor="middle" >MNA</text>
<text x="932.7" y="476.6" font-size="14.3" fill="#000" text-anchor="middle" >SAS</text>
<text x="924.8" y="515.3" font-size="21.6" fill="#fff" text-anchor="middle" >PRE</text>
<g font-weight="bold" font-size="15" text-anchor="middle" fill="none" stroke="#c2a57c" stroke-opacity=".55" stroke-width="4.8" stroke-linejoin="round">
<text x="186.5" y="201">(a)</text><text x="494.7" y="201">(b)</text><text x="802.8" y="201">(c)</text>
<text x="186.5" y="391.7">(d)</text><text x="494.7" y="391.7">(e)</text><text x="802.8" y="391.7">(f)</text>
<text x="186.5" y="552">(g)</text><text x="494.7" y="552">(h)</text><text x="802.8" y="552">(i)</text>
</g>
<g font-weight="bold" font-size="15" text-anchor="middle" fill="none" stroke="#49704d" stroke-width="3.4" stroke-linejoin="round">
<text x="186.5" y="201">(a)</text><text x="494.7" y="201">(b)</text><text x="802.8" y="201">(c)</text>
<text x="186.5" y="391.7">(d)</text><text x="494.7" y="391.7">(e)</text><text x="802.8" y="391.7">(f)</text>
<text x="186.5" y="552">(g)</text><text x="494.7" y="552">(h)</text><text x="802.8" y="552">(i)</text>
</g>
<g font-weight="bold" font-size="15" text-anchor="middle" fill="#000" stroke="#000" stroke-width=".55">
<text x="186.5" y="201">(a)</text><text x="494.7" y="201">(b)</text><text x="802.8" y="201">(c)</text>
<text x="186.5" y="391.7">(d)</text><text x="494.7" y="391.7">(e)</text><text x="802.8" y="391.7">(f)</text>
<text x="186.5" y="552">(g)</text><text x="494.7" y="552">(h)</text><text x="802.8" y="552">(i)</text>
</g>
</svg>
</body>
</html>
